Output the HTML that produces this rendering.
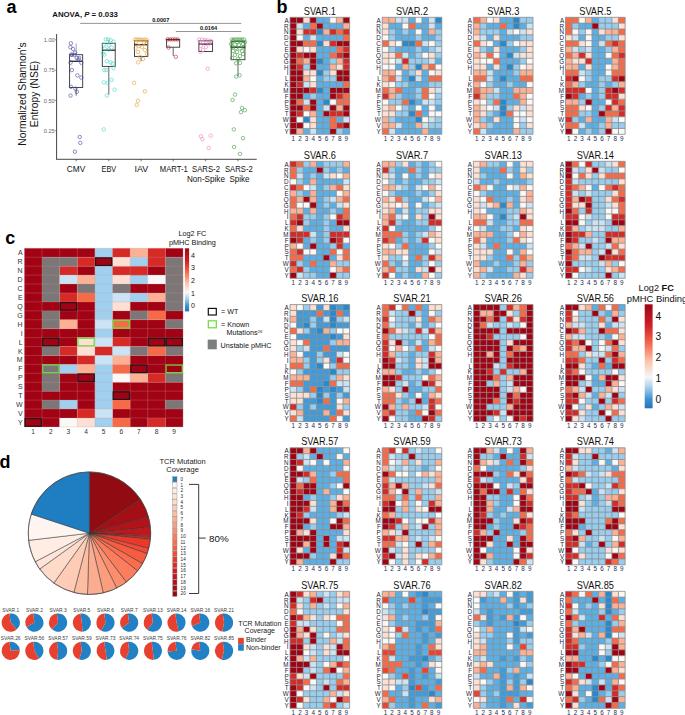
<!DOCTYPE html>
<html><head><meta charset="utf-8"><style>
html,body{margin:0;padding:0;background:#fff;}
body{width:685px;height:715px;overflow:hidden;}
svg{display:block;}
svg text{font-family:'Liberation Sans',sans-serif;}
</style></head><body>
<svg width="685" height="715" viewBox="0 0 685 715">
<rect width="685" height="715" fill="#fff"/>
<text x="6.50" y="12.70" font-size="18" text-anchor="start" font-weight="bold" fill="#000" >a</text>
<text x="276.50" y="12.60" font-size="18" text-anchor="start" font-weight="bold" fill="#000" >b</text>
<text x="5.30" y="244.00" font-size="18" text-anchor="start" font-weight="bold" fill="#000" >c</text>
<text x="-0.60" y="468.40" font-size="18" text-anchor="start" font-weight="bold" fill="#000" >d</text>
<line x1="56.6" y1="34.1" x2="56.6" y2="159.3" stroke="#444" stroke-width="1"/>
<line x1="56.15" y1="159.3" x2="256.7" y2="159.3" stroke="#333" stroke-width="0.9"/>
<line x1="54.6" y1="39.80" x2="56.6" y2="39.80" stroke="#555" stroke-width="0.6"/>
<text x="54.70" y="42.10" font-size="5.6" text-anchor="end" font-weight="normal" fill="#666" >1.00</text>
<line x1="54.6" y1="70.10" x2="56.6" y2="70.10" stroke="#555" stroke-width="0.6"/>
<text x="54.70" y="72.40" font-size="5.6" text-anchor="end" font-weight="normal" fill="#666" >0.75</text>
<line x1="54.6" y1="100.40" x2="56.6" y2="100.40" stroke="#555" stroke-width="0.6"/>
<text x="54.70" y="102.70" font-size="5.6" text-anchor="end" font-weight="normal" fill="#666" >0.50</text>
<line x1="54.6" y1="130.70" x2="56.6" y2="130.70" stroke="#555" stroke-width="0.6"/>
<text x="54.70" y="133.00" font-size="5.6" text-anchor="end" font-weight="normal" fill="#666" >0.25</text>
<text transform="translate(25.8,94) rotate(-90)" font-size="10.3" text-anchor="middle" fill="#111">Normalized Shannon's</text>
<text transform="translate(38.3,94) rotate(-90)" font-size="10.3" text-anchor="middle" fill="#111">Entropy (NSE)</text>
<line x1="76.2" y1="43.3" x2="76.2" y2="54.7" stroke="#9a9a9a" stroke-width="0.9"/>
<line x1="76.2" y1="87.5" x2="76.2" y2="95.6" stroke="#555" stroke-width="0.9"/>
<rect x="69.6" y="54.7" width="13.10" height="32.80" fill="none" stroke="#333" stroke-width="0.9"/>
<line x1="69.6" y1="61.3" x2="82.7" y2="61.3" stroke="#333" stroke-width="1.4"/>
<circle cx="70.9" cy="43.3" r="1.75" fill="none" stroke="#4646a6" stroke-width="0.6"/>
<circle cx="70.4" cy="47.2" r="1.75" fill="none" stroke="#4646a6" stroke-width="0.6"/>
<circle cx="73.1" cy="49" r="1.75" fill="none" stroke="#4646a6" stroke-width="0.6"/>
<circle cx="75" cy="52.5" r="1.75" fill="none" stroke="#4646a6" stroke-width="0.6"/>
<circle cx="71.1" cy="54.5" r="1.75" fill="none" stroke="#4646a6" stroke-width="0.6"/>
<circle cx="72.1" cy="54.9" r="1.75" fill="none" stroke="#4646a6" stroke-width="0.6"/>
<circle cx="74.5" cy="54.9" r="1.75" fill="none" stroke="#4646a6" stroke-width="0.6"/>
<circle cx="76.8" cy="58" r="1.75" fill="none" stroke="#4646a6" stroke-width="0.6"/>
<circle cx="79.3" cy="58" r="1.75" fill="none" stroke="#4646a6" stroke-width="0.6"/>
<circle cx="78.4" cy="59.4" r="1.75" fill="none" stroke="#4646a6" stroke-width="0.6"/>
<circle cx="70.5" cy="62.7" r="1.75" fill="none" stroke="#4646a6" stroke-width="0.6"/>
<circle cx="81.3" cy="62.7" r="1.75" fill="none" stroke="#4646a6" stroke-width="0.6"/>
<circle cx="71.9" cy="70.1" r="1.75" fill="none" stroke="#4646a6" stroke-width="0.6"/>
<circle cx="77.4" cy="75.4" r="1.75" fill="none" stroke="#4646a6" stroke-width="0.6"/>
<circle cx="81.3" cy="77.6" r="1.75" fill="none" stroke="#4646a6" stroke-width="0.6"/>
<circle cx="70.9" cy="86.8" r="1.75" fill="none" stroke="#4646a6" stroke-width="0.6"/>
<circle cx="75.4" cy="88.7" r="1.75" fill="none" stroke="#4646a6" stroke-width="0.6"/>
<circle cx="76.8" cy="91.8" r="1.75" fill="none" stroke="#4646a6" stroke-width="0.6"/>
<circle cx="70.5" cy="95.6" r="1.75" fill="none" stroke="#4646a6" stroke-width="0.6"/>
<circle cx="79.7" cy="137" r="1.75" fill="none" stroke="#4646a6" stroke-width="0.6"/>
<circle cx="80.3" cy="142.9" r="1.75" fill="none" stroke="#4646a6" stroke-width="0.6"/>
<circle cx="74.9" cy="151.7" r="1.75" fill="none" stroke="#4646a6" stroke-width="0.6"/>
<line x1="76.2" y1="159.3" x2="76.2" y2="161.3" stroke="#333" stroke-width="0.7"/>
<text x="76.05" y="172.10" font-size="8.5" text-anchor="middle" fill="#111" textLength="18.41" lengthAdjust="spacingAndGlyphs">CMV</text>
<line x1="108.8" y1="39.8" x2="108.8" y2="43.3" stroke="#9a9a9a" stroke-width="0.9"/>
<line x1="108.8" y1="66.4" x2="108.8" y2="94.6" stroke="#555" stroke-width="0.9"/>
<rect x="102.3" y="43.3" width="12.90" height="23.10" fill="none" stroke="#333" stroke-width="0.9"/>
<line x1="102.3" y1="50.2" x2="115.2" y2="50.2" stroke="#333" stroke-width="1.4"/>
<circle cx="105.8" cy="39.4" r="1.75" fill="none" stroke="#3fd5c5" stroke-width="0.6"/>
<circle cx="108.1" cy="39.4" r="1.75" fill="none" stroke="#3fd5c5" stroke-width="0.6"/>
<circle cx="110.7" cy="40.2" r="1.75" fill="none" stroke="#3fd5c5" stroke-width="0.6"/>
<circle cx="113.6" cy="41.7" r="1.75" fill="none" stroke="#3fd5c5" stroke-width="0.6"/>
<circle cx="103.8" cy="44.7" r="1.75" fill="none" stroke="#3fd5c5" stroke-width="0.6"/>
<circle cx="108.7" cy="45.3" r="1.75" fill="none" stroke="#3fd5c5" stroke-width="0.6"/>
<circle cx="111.6" cy="47.6" r="1.75" fill="none" stroke="#3fd5c5" stroke-width="0.6"/>
<circle cx="104.8" cy="48.6" r="1.75" fill="none" stroke="#3fd5c5" stroke-width="0.6"/>
<circle cx="108.7" cy="49.6" r="1.75" fill="none" stroke="#3fd5c5" stroke-width="0.6"/>
<circle cx="102.8" cy="53.5" r="1.75" fill="none" stroke="#3fd5c5" stroke-width="0.6"/>
<circle cx="104.4" cy="54.5" r="1.75" fill="none" stroke="#3fd5c5" stroke-width="0.6"/>
<circle cx="106.8" cy="61.3" r="1.75" fill="none" stroke="#3fd5c5" stroke-width="0.6"/>
<circle cx="110.7" cy="62.3" r="1.75" fill="none" stroke="#3fd5c5" stroke-width="0.6"/>
<circle cx="112.6" cy="63.7" r="1.75" fill="none" stroke="#3fd5c5" stroke-width="0.6"/>
<circle cx="113.6" cy="68.2" r="1.75" fill="none" stroke="#3fd5c5" stroke-width="0.6"/>
<circle cx="104.4" cy="70.1" r="1.75" fill="none" stroke="#3fd5c5" stroke-width="0.6"/>
<circle cx="106.4" cy="70.1" r="1.75" fill="none" stroke="#3fd5c5" stroke-width="0.6"/>
<circle cx="111.6" cy="79.9" r="1.75" fill="none" stroke="#3fd5c5" stroke-width="0.6"/>
<circle cx="103.8" cy="82.4" r="1.75" fill="none" stroke="#3fd5c5" stroke-width="0.6"/>
<circle cx="107.7" cy="82.8" r="1.75" fill="none" stroke="#3fd5c5" stroke-width="0.6"/>
<circle cx="114.6" cy="89.7" r="1.75" fill="none" stroke="#3fd5c5" stroke-width="0.6"/>
<circle cx="106.8" cy="95.6" r="1.75" fill="none" stroke="#3fd5c5" stroke-width="0.6"/>
<circle cx="103.8" cy="129.4" r="1.75" fill="none" stroke="#3fd5c5" stroke-width="0.6"/>
<line x1="108.8" y1="159.3" x2="108.8" y2="161.3" stroke="#333" stroke-width="0.7"/>
<text x="108.85" y="172.10" font-size="8.5" text-anchor="middle" fill="#111" textLength="14.66" lengthAdjust="spacingAndGlyphs">EBV</text>
<line x1="141.1" y1="39.5" x2="141.1" y2="40.8" stroke="#9a9a9a" stroke-width="0.9"/>
<line x1="141.1" y1="56.4" x2="141.1" y2="61.3" stroke="#555" stroke-width="0.9"/>
<rect x="134.5" y="40.8" width="13.30" height="15.60" fill="none" stroke="#333" stroke-width="0.9"/>
<line x1="134.5" y1="44.7" x2="147.8" y2="44.7" stroke="#333" stroke-width="1.4"/>
<circle cx="135" cy="39.5" r="1.75" fill="none" stroke="#e2a133" stroke-width="0.6"/>
<circle cx="137" cy="39.5" r="1.75" fill="none" stroke="#e2a133" stroke-width="0.6"/>
<circle cx="139" cy="39.5" r="1.75" fill="none" stroke="#e2a133" stroke-width="0.6"/>
<circle cx="141" cy="39.5" r="1.75" fill="none" stroke="#e2a133" stroke-width="0.6"/>
<circle cx="143" cy="40" r="1.75" fill="none" stroke="#e2a133" stroke-width="0.6"/>
<circle cx="145" cy="39.5" r="1.75" fill="none" stroke="#e2a133" stroke-width="0.6"/>
<circle cx="147" cy="40" r="1.75" fill="none" stroke="#e2a133" stroke-width="0.6"/>
<circle cx="136" cy="42" r="1.75" fill="none" stroke="#e2a133" stroke-width="0.6"/>
<circle cx="144" cy="43" r="1.75" fill="none" stroke="#e2a133" stroke-width="0.6"/>
<circle cx="146" cy="44" r="1.75" fill="none" stroke="#e2a133" stroke-width="0.6"/>
<circle cx="139" cy="46" r="1.75" fill="none" stroke="#e2a133" stroke-width="0.6"/>
<circle cx="142" cy="47" r="1.75" fill="none" stroke="#e2a133" stroke-width="0.6"/>
<circle cx="135.5" cy="48" r="1.75" fill="none" stroke="#e2a133" stroke-width="0.6"/>
<circle cx="145" cy="50" r="1.75" fill="none" stroke="#e2a133" stroke-width="0.6"/>
<circle cx="138" cy="52" r="1.75" fill="none" stroke="#e2a133" stroke-width="0.6"/>
<circle cx="147" cy="54" r="1.75" fill="none" stroke="#e2a133" stroke-width="0.6"/>
<circle cx="140" cy="57" r="1.75" fill="none" stroke="#e2a133" stroke-width="0.6"/>
<circle cx="143" cy="59" r="1.75" fill="none" stroke="#e2a133" stroke-width="0.6"/>
<circle cx="138" cy="62.3" r="1.75" fill="none" stroke="#e2a133" stroke-width="0.6"/>
<circle cx="134.1" cy="82.8" r="1.75" fill="none" stroke="#e2a133" stroke-width="0.6"/>
<circle cx="144.9" cy="91.3" r="1.75" fill="none" stroke="#e2a133" stroke-width="0.6"/>
<circle cx="138" cy="100.8" r="1.75" fill="none" stroke="#e2a133" stroke-width="0.6"/>
<circle cx="136.7" cy="105" r="1.75" fill="none" stroke="#e2a133" stroke-width="0.6"/>
<line x1="141.1" y1="159.3" x2="141.1" y2="161.3" stroke="#333" stroke-width="0.7"/>
<text x="141.35" y="172.10" font-size="8.5" text-anchor="middle" fill="#111" textLength="13.83" lengthAdjust="spacingAndGlyphs">IAV</text>
<line x1="173.2" y1="39.4" x2="173.2" y2="39.4" stroke="#9a9a9a" stroke-width="0.9"/>
<line x1="173.2" y1="47.2" x2="173.2" y2="56.0" stroke="#555" stroke-width="0.9"/>
<rect x="166.6" y="39.4" width="13.10" height="7.80" fill="none" stroke="#333" stroke-width="0.9"/>
<line x1="166.6" y1="39.6" x2="179.7" y2="39.6" stroke="#333" stroke-width="1.4"/>
<circle cx="167.6" cy="39.4" r="1.75" fill="none" stroke="#b8242f" stroke-width="0.6"/>
<circle cx="170" cy="39.4" r="1.75" fill="none" stroke="#b8242f" stroke-width="0.6"/>
<circle cx="172.5" cy="39.4" r="1.75" fill="none" stroke="#b8242f" stroke-width="0.6"/>
<circle cx="175" cy="39.4" r="1.75" fill="none" stroke="#b8242f" stroke-width="0.6"/>
<circle cx="177.5" cy="39.4" r="1.75" fill="none" stroke="#b8242f" stroke-width="0.6"/>
<circle cx="168.6" cy="47.6" r="1.75" fill="none" stroke="#b8242f" stroke-width="0.6"/>
<circle cx="175.8" cy="56.8" r="1.75" fill="none" stroke="#b8242f" stroke-width="0.6"/>
<line x1="173.2" y1="159.3" x2="173.2" y2="161.3" stroke="#333" stroke-width="0.7"/>
<text x="173.85" y="172.10" font-size="8.5" text-anchor="middle" fill="#111" textLength="27.98" lengthAdjust="spacingAndGlyphs">MART-1</text>
<line x1="205.7" y1="39.5" x2="205.7" y2="40.8" stroke="#9a9a9a" stroke-width="0.9"/>
<line x1="205.7" y1="51.5" x2="205.7" y2="52.0" stroke="#555" stroke-width="0.9"/>
<rect x="198.9" y="40.8" width="13.70" height="10.70" fill="none" stroke="#333" stroke-width="0.9"/>
<line x1="198.9" y1="44.1" x2="212.6" y2="44.1" stroke="#333" stroke-width="1.4"/>
<circle cx="199" cy="39.5" r="1.75" fill="none" stroke="#f27cc8" stroke-width="0.6"/>
<circle cx="202" cy="39.5" r="1.75" fill="none" stroke="#f27cc8" stroke-width="0.6"/>
<circle cx="205" cy="40" r="1.75" fill="none" stroke="#f27cc8" stroke-width="0.6"/>
<circle cx="208" cy="40.5" r="1.75" fill="none" stroke="#f27cc8" stroke-width="0.6"/>
<circle cx="211" cy="41" r="1.75" fill="none" stroke="#f27cc8" stroke-width="0.6"/>
<circle cx="203" cy="42" r="1.75" fill="none" stroke="#f27cc8" stroke-width="0.6"/>
<circle cx="209" cy="43.5" r="1.75" fill="none" stroke="#f27cc8" stroke-width="0.6"/>
<circle cx="201" cy="46" r="1.75" fill="none" stroke="#f27cc8" stroke-width="0.6"/>
<circle cx="206" cy="47" r="1.75" fill="none" stroke="#f27cc8" stroke-width="0.6"/>
<circle cx="203" cy="50" r="1.75" fill="none" stroke="#f27cc8" stroke-width="0.6"/>
<circle cx="200.5" cy="51.9" r="1.75" fill="none" stroke="#f27cc8" stroke-width="0.6"/>
<circle cx="207.7" cy="68.7" r="1.75" fill="none" stroke="#f27cc8" stroke-width="0.6"/>
<circle cx="200.9" cy="136.3" r="1.75" fill="none" stroke="#f27cc8" stroke-width="0.6"/>
<circle cx="202.4" cy="139.2" r="1.75" fill="none" stroke="#f27cc8" stroke-width="0.6"/>
<circle cx="210.7" cy="135.7" r="1.75" fill="none" stroke="#f27cc8" stroke-width="0.6"/>
<circle cx="208.7" cy="148" r="1.75" fill="none" stroke="#f27cc8" stroke-width="0.6"/>
<line x1="205.7" y1="159.3" x2="205.7" y2="161.3" stroke="#333" stroke-width="0.7"/>
<text x="206.00" y="172.10" font-size="8.5" text-anchor="middle" fill="#111" textLength="27.87" lengthAdjust="spacingAndGlyphs">SARS-2</text>
<text x="205.95" y="181.70" font-size="8.5" text-anchor="middle" fill="#111" textLength="37.96" lengthAdjust="spacingAndGlyphs">Non-Spike</text>
<line x1="238.0" y1="39.5" x2="238.0" y2="41.4" stroke="#9a9a9a" stroke-width="0.9"/>
<line x1="238.0" y1="59.7" x2="238.0" y2="76.0" stroke="#555" stroke-width="0.9"/>
<rect x="231.2" y="41.4" width="13.70" height="18.30" fill="none" stroke="#333" stroke-width="0.9"/>
<line x1="231.2" y1="47.2" x2="244.9" y2="47.2" stroke="#333" stroke-width="1.4"/>
<circle cx="232" cy="39.5" r="1.75" fill="none" stroke="#3f9b3f" stroke-width="0.6"/>
<circle cx="234" cy="39.5" r="1.75" fill="none" stroke="#3f9b3f" stroke-width="0.6"/>
<circle cx="236" cy="39.5" r="1.75" fill="none" stroke="#3f9b3f" stroke-width="0.6"/>
<circle cx="238" cy="39.5" r="1.75" fill="none" stroke="#3f9b3f" stroke-width="0.6"/>
<circle cx="240" cy="39.5" r="1.75" fill="none" stroke="#3f9b3f" stroke-width="0.6"/>
<circle cx="242" cy="39.5" r="1.75" fill="none" stroke="#3f9b3f" stroke-width="0.6"/>
<circle cx="244" cy="39.5" r="1.75" fill="none" stroke="#3f9b3f" stroke-width="0.6"/>
<circle cx="233" cy="41" r="1.75" fill="none" stroke="#3f9b3f" stroke-width="0.6"/>
<circle cx="237" cy="42" r="1.75" fill="none" stroke="#3f9b3f" stroke-width="0.6"/>
<circle cx="241" cy="41.5" r="1.75" fill="none" stroke="#3f9b3f" stroke-width="0.6"/>
<circle cx="245" cy="42" r="1.75" fill="none" stroke="#3f9b3f" stroke-width="0.6"/>
<circle cx="231" cy="44" r="1.75" fill="none" stroke="#3f9b3f" stroke-width="0.6"/>
<circle cx="235" cy="44.5" r="1.75" fill="none" stroke="#3f9b3f" stroke-width="0.6"/>
<circle cx="239" cy="45" r="1.75" fill="none" stroke="#3f9b3f" stroke-width="0.6"/>
<circle cx="243" cy="44" r="1.75" fill="none" stroke="#3f9b3f" stroke-width="0.6"/>
<circle cx="232" cy="47" r="1.75" fill="none" stroke="#3f9b3f" stroke-width="0.6"/>
<circle cx="236" cy="48" r="1.75" fill="none" stroke="#3f9b3f" stroke-width="0.6"/>
<circle cx="240" cy="48.5" r="1.75" fill="none" stroke="#3f9b3f" stroke-width="0.6"/>
<circle cx="244" cy="47" r="1.75" fill="none" stroke="#3f9b3f" stroke-width="0.6"/>
<circle cx="233" cy="51" r="1.75" fill="none" stroke="#3f9b3f" stroke-width="0.6"/>
<circle cx="237" cy="52" r="1.75" fill="none" stroke="#3f9b3f" stroke-width="0.6"/>
<circle cx="242" cy="51" r="1.75" fill="none" stroke="#3f9b3f" stroke-width="0.6"/>
<circle cx="235" cy="55" r="1.75" fill="none" stroke="#3f9b3f" stroke-width="0.6"/>
<circle cx="240" cy="56" r="1.75" fill="none" stroke="#3f9b3f" stroke-width="0.6"/>
<circle cx="243" cy="54" r="1.75" fill="none" stroke="#3f9b3f" stroke-width="0.6"/>
<circle cx="232" cy="58" r="1.75" fill="none" stroke="#3f9b3f" stroke-width="0.6"/>
<circle cx="238" cy="59" r="1.75" fill="none" stroke="#3f9b3f" stroke-width="0.6"/>
<circle cx="236.1" cy="63.3" r="1.75" fill="none" stroke="#3f9b3f" stroke-width="0.6"/>
<circle cx="240" cy="62.9" r="1.75" fill="none" stroke="#3f9b3f" stroke-width="0.6"/>
<circle cx="236.1" cy="76.6" r="1.75" fill="none" stroke="#3f9b3f" stroke-width="0.6"/>
<circle cx="239.6" cy="75.4" r="1.75" fill="none" stroke="#3f9b3f" stroke-width="0.6"/>
<circle cx="235.1" cy="94.6" r="1.75" fill="none" stroke="#3f9b3f" stroke-width="0.6"/>
<circle cx="232.6" cy="99.9" r="1.75" fill="none" stroke="#3f9b3f" stroke-width="0.6"/>
<circle cx="242" cy="107.9" r="1.75" fill="none" stroke="#3f9b3f" stroke-width="0.6"/>
<circle cx="244.9" cy="110.2" r="1.75" fill="none" stroke="#3f9b3f" stroke-width="0.6"/>
<circle cx="241" cy="112.2" r="1.75" fill="none" stroke="#3f9b3f" stroke-width="0.6"/>
<circle cx="233.8" cy="129.4" r="1.75" fill="none" stroke="#3f9b3f" stroke-width="0.6"/>
<circle cx="243" cy="138.2" r="1.75" fill="none" stroke="#3f9b3f" stroke-width="0.6"/>
<circle cx="234.1" cy="147" r="1.75" fill="none" stroke="#3f9b3f" stroke-width="0.6"/>
<circle cx="240" cy="153.9" r="1.75" fill="none" stroke="#3f9b3f" stroke-width="0.6"/>
<line x1="238.0" y1="159.3" x2="238.0" y2="161.3" stroke="#333" stroke-width="0.7"/>
<text x="238.90" y="172.10" font-size="8.5" text-anchor="middle" fill="#111" textLength="27.87" lengthAdjust="spacingAndGlyphs">SARS-2</text>
<text x="239.45" y="181.70" font-size="8.5" text-anchor="middle" fill="#111" textLength="20.07" lengthAdjust="spacingAndGlyphs">Spike</text>
<line x1="80.1" y1="23.4" x2="241.3" y2="23.4" stroke="#8a8a8a" stroke-width="0.9"/>
<line x1="175.8" y1="31.5" x2="241.3" y2="31.5" stroke="#8a8a8a" stroke-width="0.9"/>
<text x="160.70" y="21.60" font-size="5.6" text-anchor="middle" font-weight="bold" fill="#111" >0.0007</text>
<text x="208.60" y="29.60" font-size="5.6" text-anchor="middle" font-weight="bold" fill="#111" >0.0164</text>
<text x="52.3" y="16.7" font-size="7.8" font-weight="bold" fill="#111">ANOVA, <tspan font-style="italic">P</tspan> = 0.033</text>
<path fill="#a20314" d="M290.0 17.3h6.67v5.90h-6.67zM296.6 17.3h6.67v5.90h-6.67zM309.9 17.3h6.67v5.90h-6.67zM343.0 17.3h6.67v5.90h-6.67zM290.0 23.1h6.67v5.90h-6.67zM316.5 23.1h6.67v5.90h-6.67zM290.0 29.0h6.67v5.90h-6.67zM290.0 34.8h6.67v5.90h-6.67zM290.0 40.7h6.67v5.90h-6.67zM296.6 40.7h6.67v5.90h-6.67zM336.4 40.7h6.67v5.90h-6.67zM343.0 40.7h6.67v5.90h-6.67zM290.0 46.5h6.67v5.90h-6.67zM290.0 52.4h6.67v5.90h-6.67zM303.2 52.4h6.67v5.90h-6.67zM309.9 52.4h6.67v5.90h-6.67zM343.0 52.4h6.67v5.90h-6.67zM290.0 58.2h6.67v5.90h-6.67zM309.9 58.2h6.67v5.90h-6.67zM290.0 64.1h6.67v5.90h-6.67zM309.9 64.1h6.67v5.90h-6.67zM290.0 70.0h6.67v5.90h-6.67zM296.6 70.0h6.67v5.90h-6.67zM336.4 70.0h6.67v5.90h-6.67zM343.0 70.0h6.67v5.90h-6.67zM290.0 75.8h6.67v5.90h-6.67zM296.6 75.8h6.67v5.90h-6.67zM336.4 75.8h6.67v5.90h-6.67zM343.0 75.8h6.67v5.90h-6.67zM290.0 81.6h6.67v5.90h-6.67zM290.0 87.5h6.67v5.90h-6.67zM296.6 87.5h6.67v5.90h-6.67zM303.2 87.5h6.67v5.90h-6.67zM329.7 87.5h6.67v5.90h-6.67zM336.4 87.5h6.67v5.90h-6.67zM343.0 87.5h6.67v5.90h-6.67zM290.0 93.3h6.67v5.90h-6.67zM296.6 93.3h6.67v5.90h-6.67zM329.7 93.3h6.67v5.90h-6.67zM290.0 99.2h6.67v5.90h-6.67zM309.9 99.2h6.67v5.90h-6.67zM290.0 105.0h6.67v5.90h-6.67zM296.6 105.0h6.67v5.90h-6.67zM309.9 105.0h6.67v5.90h-6.67zM329.7 105.0h6.67v5.90h-6.67zM343.0 105.0h6.67v5.90h-6.67zM290.0 110.9h6.67v5.90h-6.67zM323.1 110.9h6.67v5.90h-6.67zM343.0 110.9h6.67v5.90h-6.67zM290.0 116.7h6.67v5.90h-6.67zM290.0 122.6h6.67v5.90h-6.67zM296.6 122.6h6.67v5.90h-6.67zM343.0 122.6h6.67v5.90h-6.67zM290.0 128.4h6.67v5.90h-6.67zM329.7 128.4h6.67v5.90h-6.67z"/>
<path fill="#fde0d3" d="M303.2 17.3h6.67v5.90h-6.67zM296.6 29.0h6.67v5.90h-6.67zM323.1 40.7h6.67v5.90h-6.67zM296.6 46.5h6.67v5.90h-6.67zM309.9 46.5h6.67v5.90h-6.67zM336.4 64.1h6.67v5.90h-6.67zM303.2 70.0h6.67v5.90h-6.67zM309.9 70.0h6.67v5.90h-6.67zM329.7 70.0h6.67v5.90h-6.67zM309.9 81.6h6.67v5.90h-6.67zM309.9 116.7h6.67v5.90h-6.67zM309.9 122.6h6.67v5.90h-6.67z"/>
<path fill="#5ab0e6" d="M316.5 17.3h6.67v5.90h-6.67zM323.1 17.3h6.67v5.90h-6.67zM303.2 23.1h6.67v5.90h-6.67zM323.1 23.1h6.67v5.90h-6.67zM329.7 23.1h6.67v5.90h-6.67zM336.4 23.1h6.67v5.90h-6.67zM303.2 34.8h6.67v5.90h-6.67zM316.5 34.8h6.67v5.90h-6.67zM323.1 34.8h6.67v5.90h-6.67zM329.7 34.8h6.67v5.90h-6.67zM336.4 34.8h6.67v5.90h-6.67zM316.5 46.5h6.67v5.90h-6.67zM323.1 46.5h6.67v5.90h-6.67zM329.7 46.5h6.67v5.90h-6.67zM316.5 52.4h6.67v5.90h-6.67zM323.1 52.4h6.67v5.90h-6.67zM323.1 58.2h6.67v5.90h-6.67zM316.5 64.1h6.67v5.90h-6.67zM323.1 64.1h6.67v5.90h-6.67zM316.5 75.8h6.67v5.90h-6.67zM316.5 81.6h6.67v5.90h-6.67zM323.1 81.6h6.67v5.90h-6.67zM329.7 81.6h6.67v5.90h-6.67zM336.4 81.6h6.67v5.90h-6.67zM323.1 87.5h6.67v5.90h-6.67zM303.2 93.3h6.67v5.90h-6.67zM316.5 93.3h6.67v5.90h-6.67zM323.1 93.3h6.67v5.90h-6.67zM316.5 99.2h6.67v5.90h-6.67zM316.5 105.0h6.67v5.90h-6.67zM316.5 110.9h6.67v5.90h-6.67zM316.5 116.7h6.67v5.90h-6.67zM323.1 116.7h6.67v5.90h-6.67zM336.4 116.7h6.67v5.90h-6.67zM316.5 122.6h6.67v5.90h-6.67zM323.1 122.6h6.67v5.90h-6.67zM303.2 128.4h6.67v5.90h-6.67zM316.5 128.4h6.67v5.90h-6.67zM323.1 128.4h6.67v5.90h-6.67zM343.0 128.4h6.67v5.90h-6.67z"/>
<path fill="#fbf9f8" d="M329.7 17.3h6.67v5.90h-6.67zM296.6 34.8h6.67v5.90h-6.67zM303.2 46.5h6.67v5.90h-6.67zM309.9 75.8h6.67v5.90h-6.67zM329.7 99.2h6.67v5.90h-6.67zM303.2 110.9h6.67v5.90h-6.67zM296.6 116.7h6.67v5.90h-6.67zM303.2 122.6h6.67v5.90h-6.67z"/>
<path fill="#fcb094" d="M336.4 17.3h6.67v5.90h-6.67zM343.0 23.1h6.67v5.90h-6.67zM323.1 29.0h6.67v5.90h-6.67zM303.2 58.2h6.67v5.90h-6.67zM336.4 58.2h6.67v5.90h-6.67zM329.7 64.1h6.67v5.90h-6.67zM303.2 75.8h6.67v5.90h-6.67zM336.4 105.0h6.67v5.90h-6.67zM309.9 110.9h6.67v5.90h-6.67zM296.6 128.4h6.67v5.90h-6.67z"/>
<path fill="#cae4f5" d="M296.6 23.1h6.67v5.90h-6.67zM309.9 34.8h6.67v5.90h-6.67zM303.2 81.6h6.67v5.90h-6.67zM303.2 99.2h6.67v5.90h-6.67zM323.1 105.0h6.67v5.90h-6.67zM343.0 116.7h6.67v5.90h-6.67zM309.9 128.4h6.67v5.90h-6.67z"/>
<path fill="#f66a47" d="M309.9 23.1h6.67v5.90h-6.67zM336.4 29.0h6.67v5.90h-6.67zM343.0 34.8h6.67v5.90h-6.67zM303.2 40.7h6.67v5.90h-6.67zM309.9 40.7h6.67v5.90h-6.67zM336.4 46.5h6.67v5.90h-6.67zM329.7 52.4h6.67v5.90h-6.67zM296.6 58.2h6.67v5.90h-6.67zM343.0 81.6h6.67v5.90h-6.67zM343.0 93.3h6.67v5.90h-6.67zM296.6 99.2h6.67v5.90h-6.67zM336.4 99.2h6.67v5.90h-6.67zM343.0 99.2h6.67v5.90h-6.67zM303.2 105.0h6.67v5.90h-6.67zM329.7 116.7h6.67v5.90h-6.67zM329.7 122.6h6.67v5.90h-6.67z"/>
<path fill="#d62a27" d="M303.2 29.0h6.67v5.90h-6.67zM309.9 29.0h6.67v5.90h-6.67zM329.7 29.0h6.67v5.90h-6.67zM343.0 29.0h6.67v5.90h-6.67zM329.7 40.7h6.67v5.90h-6.67zM343.0 46.5h6.67v5.90h-6.67zM296.6 52.4h6.67v5.90h-6.67zM336.4 52.4h6.67v5.90h-6.67zM343.0 58.2h6.67v5.90h-6.67zM296.6 64.1h6.67v5.90h-6.67zM343.0 64.1h6.67v5.90h-6.67zM296.6 81.6h6.67v5.90h-6.67zM309.9 87.5h6.67v5.90h-6.67zM336.4 93.3h6.67v5.90h-6.67zM296.6 110.9h6.67v5.90h-6.67zM329.7 110.9h6.67v5.90h-6.67zM336.4 110.9h6.67v5.90h-6.67zM336.4 122.6h6.67v5.90h-6.67z"/>
<path fill="#2a88cd" d="M316.5 29.0h6.67v5.90h-6.67zM316.5 40.7h6.67v5.90h-6.67zM316.5 58.2h6.67v5.90h-6.67zM316.5 70.0h6.67v5.90h-6.67zM316.5 87.5h6.67v5.90h-6.67zM323.1 99.2h6.67v5.90h-6.67zM303.2 116.7h6.67v5.90h-6.67z"/>
<path fill="#97cdef" d="M329.7 58.2h6.67v5.90h-6.67zM303.2 64.1h6.67v5.90h-6.67zM323.1 70.0h6.67v5.90h-6.67zM323.1 75.8h6.67v5.90h-6.67zM329.7 75.8h6.67v5.90h-6.67zM309.9 93.3h6.67v5.90h-6.67zM336.4 128.4h6.67v5.90h-6.67z"/>
<path d="M290.00 17.30V134.30M296.62 17.30V134.30M303.24 17.30V134.30M309.87 17.30V134.30M316.49 17.30V134.30M323.11 17.30V134.30M329.73 17.30V134.30M336.36 17.30V134.30M342.98 17.30V134.30M349.60 17.30V134.30M290.00 17.30H349.60M290.00 23.15H349.60M290.00 29.00H349.60M290.00 34.85H349.60M290.00 40.70H349.60M290.00 46.55H349.60M290.00 52.40H349.60M290.00 58.25H349.60M290.00 64.10H349.60M290.00 69.95H349.60M290.00 75.80H349.60M290.00 81.65H349.60M290.00 87.50H349.60M290.00 93.35H349.60M290.00 99.20H349.60M290.00 105.05H349.60M290.00 110.90H349.60M290.00 116.75H349.60M290.00 122.60H349.60M290.00 128.45H349.60M290.00 134.30H349.60" stroke="#8e8e8e" stroke-width="0.85" fill="none"/>
<text transform="translate(319.80,14.90) scale(0.84,1)" font-size="11" text-anchor="middle" fill="#111">SVAR.1</text>
<text transform="translate(288.60,22.70) scale(0.9,1)" font-size="7" text-anchor="end" fill="#171c3a">A</text>
<text transform="translate(288.60,28.55) scale(0.9,1)" font-size="7" text-anchor="end" fill="#171c3a">R</text>
<text transform="translate(288.60,34.40) scale(0.9,1)" font-size="7" text-anchor="end" fill="#171c3a">N</text>
<text transform="translate(288.60,40.25) scale(0.9,1)" font-size="7" text-anchor="end" fill="#171c3a">D</text>
<text transform="translate(288.60,46.10) scale(0.9,1)" font-size="7" text-anchor="end" fill="#171c3a">C</text>
<text transform="translate(288.60,51.95) scale(0.9,1)" font-size="7" text-anchor="end" fill="#171c3a">E</text>
<text transform="translate(288.60,57.80) scale(0.9,1)" font-size="7" text-anchor="end" fill="#171c3a">Q</text>
<text transform="translate(288.60,63.65) scale(0.9,1)" font-size="7" text-anchor="end" fill="#171c3a">G</text>
<text transform="translate(288.60,69.50) scale(0.9,1)" font-size="7" text-anchor="end" fill="#171c3a">H</text>
<text transform="translate(288.60,75.35) scale(0.9,1)" font-size="7" text-anchor="end" fill="#171c3a">I</text>
<text transform="translate(288.60,81.20) scale(0.9,1)" font-size="7" text-anchor="end" fill="#171c3a">L</text>
<text transform="translate(288.60,87.05) scale(0.9,1)" font-size="7" text-anchor="end" fill="#171c3a">K</text>
<text transform="translate(288.60,92.90) scale(0.9,1)" font-size="7" text-anchor="end" fill="#171c3a">M</text>
<text transform="translate(288.60,98.75) scale(0.9,1)" font-size="7" text-anchor="end" fill="#171c3a">F</text>
<text transform="translate(288.60,104.60) scale(0.9,1)" font-size="7" text-anchor="end" fill="#171c3a">P</text>
<text transform="translate(288.60,110.45) scale(0.9,1)" font-size="7" text-anchor="end" fill="#171c3a">S</text>
<text transform="translate(288.60,116.30) scale(0.9,1)" font-size="7" text-anchor="end" fill="#171c3a">T</text>
<text transform="translate(288.60,122.15) scale(0.9,1)" font-size="7" text-anchor="end" fill="#171c3a">W</text>
<text transform="translate(288.60,128.00) scale(0.9,1)" font-size="7" text-anchor="end" fill="#171c3a">V</text>
<text transform="translate(288.60,133.85) scale(0.9,1)" font-size="7" text-anchor="end" fill="#171c3a">Y</text>
<text x="293.31" y="140.90" font-size="6.3" text-anchor="middle" font-weight="normal" fill="#1c2b52" >1</text>
<text x="299.93" y="140.90" font-size="6.3" text-anchor="middle" font-weight="normal" fill="#1c2b52" >2</text>
<text x="306.56" y="140.90" font-size="6.3" text-anchor="middle" font-weight="normal" fill="#1c2b52" >3</text>
<text x="313.18" y="140.90" font-size="6.3" text-anchor="middle" font-weight="normal" fill="#1c2b52" >4</text>
<text x="319.80" y="140.90" font-size="6.3" text-anchor="middle" font-weight="normal" fill="#1c2b52" >5</text>
<text x="326.42" y="140.90" font-size="6.3" text-anchor="middle" font-weight="normal" fill="#1c2b52" >6</text>
<text x="333.04" y="140.90" font-size="6.3" text-anchor="middle" font-weight="normal" fill="#1c2b52" >7</text>
<text x="339.67" y="140.90" font-size="6.3" text-anchor="middle" font-weight="normal" fill="#1c2b52" >8</text>
<text x="346.29" y="140.90" font-size="6.3" text-anchor="middle" font-weight="normal" fill="#1c2b52" >9</text>
<path fill="#fcb094" d="M382.2 17.3h6.67v5.90h-6.67zM388.8 17.3h6.67v5.90h-6.67zM428.6 29.0h6.67v5.90h-6.67zM402.1 64.1h6.67v5.90h-6.67zM421.9 64.1h6.67v5.90h-6.67zM382.2 70.0h6.67v5.90h-6.67zM388.8 70.0h6.67v5.90h-6.67zM382.2 75.8h6.67v5.90h-6.67zM388.8 87.5h6.67v5.90h-6.67zM388.8 93.3h6.67v5.90h-6.67zM388.8 105.0h6.67v5.90h-6.67zM382.2 116.7h6.67v5.90h-6.67zM382.2 122.6h6.67v5.90h-6.67zM388.8 122.6h6.67v5.90h-6.67zM415.3 122.6h6.67v5.90h-6.67zM421.9 128.4h6.67v5.90h-6.67z"/>
<path fill="#cae4f5" d="M395.4 17.3h6.67v5.90h-6.67zM402.1 17.3h6.67v5.90h-6.67zM428.6 17.3h6.67v5.90h-6.67zM428.6 23.1h6.67v5.90h-6.67zM421.9 40.7h6.67v5.90h-6.67zM435.2 46.5h6.67v5.90h-6.67zM402.1 52.4h6.67v5.90h-6.67zM395.4 58.2h6.67v5.90h-6.67zM428.6 58.2h6.67v5.90h-6.67zM395.4 75.8h6.67v5.90h-6.67zM415.3 75.8h6.67v5.90h-6.67zM435.2 87.5h6.67v5.90h-6.67zM421.9 99.2h6.67v5.90h-6.67zM428.6 99.2h6.67v5.90h-6.67zM428.6 116.7h6.67v5.90h-6.67zM395.4 122.6h6.67v5.90h-6.67zM421.9 122.6h6.67v5.90h-6.67zM388.8 128.4h6.67v5.90h-6.67z"/>
<path fill="#5ab0e6" d="M408.7 17.3h6.67v5.90h-6.67zM421.9 17.3h6.67v5.90h-6.67zM388.8 23.1h6.67v5.90h-6.67zM395.4 23.1h6.67v5.90h-6.67zM415.3 23.1h6.67v5.90h-6.67zM421.9 23.1h6.67v5.90h-6.67zM435.2 23.1h6.67v5.90h-6.67zM395.4 29.0h6.67v5.90h-6.67zM408.7 29.0h6.67v5.90h-6.67zM421.9 29.0h6.67v5.90h-6.67zM395.4 34.8h6.67v5.90h-6.67zM402.1 34.8h6.67v5.90h-6.67zM408.7 34.8h6.67v5.90h-6.67zM421.9 34.8h6.67v5.90h-6.67zM428.6 34.8h6.67v5.90h-6.67zM395.4 46.5h6.67v5.90h-6.67zM402.1 46.5h6.67v5.90h-6.67zM408.7 46.5h6.67v5.90h-6.67zM421.9 46.5h6.67v5.90h-6.67zM408.7 52.4h6.67v5.90h-6.67zM435.2 58.2h6.67v5.90h-6.67zM395.4 64.1h6.67v5.90h-6.67zM402.1 70.0h6.67v5.90h-6.67zM421.9 70.0h6.67v5.90h-6.67zM402.1 75.8h6.67v5.90h-6.67zM421.9 75.8h6.67v5.90h-6.67zM408.7 81.6h6.67v5.90h-6.67zM415.3 81.6h6.67v5.90h-6.67zM421.9 81.6h6.67v5.90h-6.67zM402.1 87.5h6.67v5.90h-6.67zM408.7 87.5h6.67v5.90h-6.67zM402.1 93.3h6.67v5.90h-6.67zM408.7 93.3h6.67v5.90h-6.67zM415.3 99.2h6.67v5.90h-6.67zM408.7 105.0h6.67v5.90h-6.67zM421.9 105.0h6.67v5.90h-6.67zM435.2 105.0h6.67v5.90h-6.67zM421.9 110.9h6.67v5.90h-6.67zM395.4 116.7h6.67v5.90h-6.67zM402.1 116.7h6.67v5.90h-6.67zM408.7 116.7h6.67v5.90h-6.67zM402.1 122.6h6.67v5.90h-6.67zM408.7 122.6h6.67v5.90h-6.67zM395.4 128.4h6.67v5.90h-6.67zM402.1 128.4h6.67v5.90h-6.67zM408.7 128.4h6.67v5.90h-6.67zM415.3 128.4h6.67v5.90h-6.67zM428.6 128.4h6.67v5.90h-6.67zM435.2 128.4h6.67v5.90h-6.67z"/>
<path fill="#fbf9f8" d="M415.3 17.3h6.67v5.90h-6.67zM402.1 23.1h6.67v5.90h-6.67zM415.3 29.0h6.67v5.90h-6.67zM382.2 34.8h6.67v5.90h-6.67zM395.4 40.7h6.67v5.90h-6.67zM428.6 40.7h6.67v5.90h-6.67zM382.2 46.5h6.67v5.90h-6.67zM421.9 52.4h6.67v5.90h-6.67zM388.8 58.2h6.67v5.90h-6.67zM382.2 64.1h6.67v5.90h-6.67zM388.8 64.1h6.67v5.90h-6.67zM435.2 64.1h6.67v5.90h-6.67zM395.4 70.0h6.67v5.90h-6.67zM428.6 70.0h6.67v5.90h-6.67zM388.8 81.6h6.67v5.90h-6.67zM428.6 93.3h6.67v5.90h-6.67zM382.2 99.2h6.67v5.90h-6.67zM395.4 105.0h6.67v5.90h-6.67zM415.3 105.0h6.67v5.90h-6.67zM428.6 105.0h6.67v5.90h-6.67zM428.6 110.9h6.67v5.90h-6.67zM435.2 110.9h6.67v5.90h-6.67zM421.9 116.7h6.67v5.90h-6.67z"/>
<path fill="#2a88cd" d="M435.2 17.3h6.67v5.90h-6.67zM402.1 40.7h6.67v5.90h-6.67zM408.7 40.7h6.67v5.90h-6.67zM415.3 64.1h6.67v5.90h-6.67zM408.7 75.8h6.67v5.90h-6.67zM408.7 99.2h6.67v5.90h-6.67zM408.7 110.9h6.67v5.90h-6.67zM415.3 116.7h6.67v5.90h-6.67z"/>
<path fill="#fde0d3" d="M382.2 23.1h6.67v5.90h-6.67zM382.2 29.0h6.67v5.90h-6.67zM388.8 40.7h6.67v5.90h-6.67zM382.2 52.4h6.67v5.90h-6.67zM388.8 52.4h6.67v5.90h-6.67zM428.6 52.4h6.67v5.90h-6.67zM382.2 58.2h6.67v5.90h-6.67zM415.3 70.0h6.67v5.90h-6.67zM435.2 70.0h6.67v5.90h-6.67zM382.2 81.6h6.67v5.90h-6.67zM428.6 87.5h6.67v5.90h-6.67zM382.2 105.0h6.67v5.90h-6.67zM382.2 110.9h6.67v5.90h-6.67zM388.8 110.9h6.67v5.90h-6.67z"/>
<path fill="#f66a47" d="M408.7 23.1h6.67v5.90h-6.67zM382.2 40.7h6.67v5.90h-6.67zM415.3 40.7h6.67v5.90h-6.67zM395.4 52.4h6.67v5.90h-6.67zM428.6 64.1h6.67v5.90h-6.67zM388.8 75.8h6.67v5.90h-6.67zM428.6 75.8h6.67v5.90h-6.67zM435.2 75.8h6.67v5.90h-6.67zM382.2 87.5h6.67v5.90h-6.67zM395.4 87.5h6.67v5.90h-6.67zM421.9 87.5h6.67v5.90h-6.67zM421.9 93.3h6.67v5.90h-6.67zM402.1 99.2h6.67v5.90h-6.67zM415.3 110.9h6.67v5.90h-6.67zM382.2 128.4h6.67v5.90h-6.67z"/>
<path fill="#97cdef" d="M388.8 29.0h6.67v5.90h-6.67zM402.1 29.0h6.67v5.90h-6.67zM435.2 29.0h6.67v5.90h-6.67zM388.8 34.8h6.67v5.90h-6.67zM415.3 34.8h6.67v5.90h-6.67zM435.2 34.8h6.67v5.90h-6.67zM435.2 40.7h6.67v5.90h-6.67zM388.8 46.5h6.67v5.90h-6.67zM415.3 46.5h6.67v5.90h-6.67zM428.6 46.5h6.67v5.90h-6.67zM415.3 52.4h6.67v5.90h-6.67zM435.2 52.4h6.67v5.90h-6.67zM408.7 58.2h6.67v5.90h-6.67zM415.3 58.2h6.67v5.90h-6.67zM421.9 58.2h6.67v5.90h-6.67zM408.7 64.1h6.67v5.90h-6.67zM408.7 70.0h6.67v5.90h-6.67zM395.4 81.6h6.67v5.90h-6.67zM402.1 81.6h6.67v5.90h-6.67zM428.6 81.6h6.67v5.90h-6.67zM435.2 81.6h6.67v5.90h-6.67zM415.3 87.5h6.67v5.90h-6.67zM395.4 93.3h6.67v5.90h-6.67zM415.3 93.3h6.67v5.90h-6.67zM435.2 93.3h6.67v5.90h-6.67zM388.8 99.2h6.67v5.90h-6.67zM395.4 99.2h6.67v5.90h-6.67zM435.2 99.2h6.67v5.90h-6.67zM402.1 105.0h6.67v5.90h-6.67zM395.4 110.9h6.67v5.90h-6.67zM402.1 110.9h6.67v5.90h-6.67zM388.8 116.7h6.67v5.90h-6.67zM435.2 116.7h6.67v5.90h-6.67zM428.6 122.6h6.67v5.90h-6.67zM435.2 122.6h6.67v5.90h-6.67z"/>
<path fill="#d62a27" d="M402.1 58.2h6.67v5.90h-6.67zM382.2 93.3h6.67v5.90h-6.67z"/>
<path d="M382.20 17.30V134.30M388.82 17.30V134.30M395.44 17.30V134.30M402.07 17.30V134.30M408.69 17.30V134.30M415.31 17.30V134.30M421.93 17.30V134.30M428.56 17.30V134.30M435.18 17.30V134.30M441.80 17.30V134.30M382.20 17.30H441.80M382.20 23.15H441.80M382.20 29.00H441.80M382.20 34.85H441.80M382.20 40.70H441.80M382.20 46.55H441.80M382.20 52.40H441.80M382.20 58.25H441.80M382.20 64.10H441.80M382.20 69.95H441.80M382.20 75.80H441.80M382.20 81.65H441.80M382.20 87.50H441.80M382.20 93.35H441.80M382.20 99.20H441.80M382.20 105.05H441.80M382.20 110.90H441.80M382.20 116.75H441.80M382.20 122.60H441.80M382.20 128.45H441.80M382.20 134.30H441.80" stroke="#8e8e8e" stroke-width="0.85" fill="none"/>
<text transform="translate(412.00,14.90) scale(0.84,1)" font-size="11" text-anchor="middle" fill="#111">SVAR.2</text>
<text transform="translate(380.80,22.70) scale(0.9,1)" font-size="7" text-anchor="end" fill="#171c3a">A</text>
<text transform="translate(380.80,28.55) scale(0.9,1)" font-size="7" text-anchor="end" fill="#171c3a">R</text>
<text transform="translate(380.80,34.40) scale(0.9,1)" font-size="7" text-anchor="end" fill="#171c3a">N</text>
<text transform="translate(380.80,40.25) scale(0.9,1)" font-size="7" text-anchor="end" fill="#171c3a">D</text>
<text transform="translate(380.80,46.10) scale(0.9,1)" font-size="7" text-anchor="end" fill="#171c3a">C</text>
<text transform="translate(380.80,51.95) scale(0.9,1)" font-size="7" text-anchor="end" fill="#171c3a">E</text>
<text transform="translate(380.80,57.80) scale(0.9,1)" font-size="7" text-anchor="end" fill="#171c3a">Q</text>
<text transform="translate(380.80,63.65) scale(0.9,1)" font-size="7" text-anchor="end" fill="#171c3a">G</text>
<text transform="translate(380.80,69.50) scale(0.9,1)" font-size="7" text-anchor="end" fill="#171c3a">H</text>
<text transform="translate(380.80,75.35) scale(0.9,1)" font-size="7" text-anchor="end" fill="#171c3a">I</text>
<text transform="translate(380.80,81.20) scale(0.9,1)" font-size="7" text-anchor="end" fill="#171c3a">L</text>
<text transform="translate(380.80,87.05) scale(0.9,1)" font-size="7" text-anchor="end" fill="#171c3a">K</text>
<text transform="translate(380.80,92.90) scale(0.9,1)" font-size="7" text-anchor="end" fill="#171c3a">M</text>
<text transform="translate(380.80,98.75) scale(0.9,1)" font-size="7" text-anchor="end" fill="#171c3a">F</text>
<text transform="translate(380.80,104.60) scale(0.9,1)" font-size="7" text-anchor="end" fill="#171c3a">P</text>
<text transform="translate(380.80,110.45) scale(0.9,1)" font-size="7" text-anchor="end" fill="#171c3a">S</text>
<text transform="translate(380.80,116.30) scale(0.9,1)" font-size="7" text-anchor="end" fill="#171c3a">T</text>
<text transform="translate(380.80,122.15) scale(0.9,1)" font-size="7" text-anchor="end" fill="#171c3a">W</text>
<text transform="translate(380.80,128.00) scale(0.9,1)" font-size="7" text-anchor="end" fill="#171c3a">V</text>
<text transform="translate(380.80,133.85) scale(0.9,1)" font-size="7" text-anchor="end" fill="#171c3a">Y</text>
<text x="385.51" y="140.90" font-size="6.3" text-anchor="middle" font-weight="normal" fill="#1c2b52" >1</text>
<text x="392.13" y="140.90" font-size="6.3" text-anchor="middle" font-weight="normal" fill="#1c2b52" >2</text>
<text x="398.76" y="140.90" font-size="6.3" text-anchor="middle" font-weight="normal" fill="#1c2b52" >3</text>
<text x="405.38" y="140.90" font-size="6.3" text-anchor="middle" font-weight="normal" fill="#1c2b52" >4</text>
<text x="412.00" y="140.90" font-size="6.3" text-anchor="middle" font-weight="normal" fill="#1c2b52" >5</text>
<text x="418.62" y="140.90" font-size="6.3" text-anchor="middle" font-weight="normal" fill="#1c2b52" >6</text>
<text x="425.24" y="140.90" font-size="6.3" text-anchor="middle" font-weight="normal" fill="#1c2b52" >7</text>
<text x="431.87" y="140.90" font-size="6.3" text-anchor="middle" font-weight="normal" fill="#1c2b52" >8</text>
<text x="438.49" y="140.90" font-size="6.3" text-anchor="middle" font-weight="normal" fill="#1c2b52" >9</text>
<path fill="#f66a47" d="M473.4 17.3h6.67v5.90h-6.67zM499.9 23.1h6.67v5.90h-6.67zM473.4 40.7h6.67v5.90h-6.67zM486.6 52.4h6.67v5.90h-6.67zM493.3 58.2h6.67v5.90h-6.67zM473.4 75.8h6.67v5.90h-6.67zM480.0 75.8h6.67v5.90h-6.67zM519.8 75.8h6.67v5.90h-6.67zM526.4 75.8h6.67v5.90h-6.67zM473.4 87.5h6.67v5.90h-6.67zM513.1 93.3h6.67v5.90h-6.67zM493.3 99.2h6.67v5.90h-6.67zM506.5 110.9h6.67v5.90h-6.67zM473.4 128.4h6.67v5.90h-6.67z"/>
<path fill="#fcb094" d="M480.0 17.3h6.67v5.90h-6.67zM473.4 23.1h6.67v5.90h-6.67zM473.4 29.0h6.67v5.90h-6.67zM473.4 52.4h6.67v5.90h-6.67zM473.4 70.0h6.67v5.90h-6.67zM480.0 70.0h6.67v5.90h-6.67zM519.8 70.0h6.67v5.90h-6.67zM526.4 70.0h6.67v5.90h-6.67zM473.4 81.6h6.67v5.90h-6.67zM480.0 87.5h6.67v5.90h-6.67zM486.6 87.5h6.67v5.90h-6.67zM513.1 87.5h6.67v5.90h-6.67zM519.8 87.5h6.67v5.90h-6.67zM526.4 87.5h6.67v5.90h-6.67zM480.0 93.3h6.67v5.90h-6.67zM519.8 93.3h6.67v5.90h-6.67zM519.8 99.2h6.67v5.90h-6.67zM473.4 105.0h6.67v5.90h-6.67zM473.4 110.9h6.67v5.90h-6.67zM473.4 116.7h6.67v5.90h-6.67zM480.0 122.6h6.67v5.90h-6.67zM513.1 128.4h6.67v5.90h-6.67z"/>
<path fill="#fbf9f8" d="M486.6 17.3h6.67v5.90h-6.67zM513.1 29.0h6.67v5.90h-6.67zM486.6 40.7h6.67v5.90h-6.67zM513.1 40.7h6.67v5.90h-6.67zM493.3 52.4h6.67v5.90h-6.67zM480.0 58.2h6.67v5.90h-6.67zM486.6 58.2h6.67v5.90h-6.67zM526.4 58.2h6.67v5.90h-6.67zM519.8 64.1h6.67v5.90h-6.67zM480.0 81.6h6.67v5.90h-6.67zM526.4 81.6h6.67v5.90h-6.67zM526.4 93.3h6.67v5.90h-6.67zM480.0 99.2h6.67v5.90h-6.67zM526.4 99.2h6.67v5.90h-6.67zM486.6 105.0h6.67v5.90h-6.67zM513.1 110.9h6.67v5.90h-6.67zM519.8 110.9h6.67v5.90h-6.67zM513.1 116.7h6.67v5.90h-6.67zM526.4 116.7h6.67v5.90h-6.67zM513.1 122.6h6.67v5.90h-6.67z"/>
<path fill="#fde0d3" d="M493.3 17.3h6.67v5.90h-6.67zM526.4 29.0h6.67v5.90h-6.67zM473.4 34.8h6.67v5.90h-6.67zM493.3 34.8h6.67v5.90h-6.67zM480.0 40.7h6.67v5.90h-6.67zM519.8 40.7h6.67v5.90h-6.67zM526.4 40.7h6.67v5.90h-6.67zM473.4 46.5h6.67v5.90h-6.67zM493.3 46.5h6.67v5.90h-6.67zM526.4 46.5h6.67v5.90h-6.67zM480.0 52.4h6.67v5.90h-6.67zM519.8 52.4h6.67v5.90h-6.67zM526.4 52.4h6.67v5.90h-6.67zM473.4 58.2h6.67v5.90h-6.67zM473.4 64.1h6.67v5.90h-6.67zM480.0 64.1h6.67v5.90h-6.67zM493.3 64.1h6.67v5.90h-6.67zM526.4 64.1h6.67v5.90h-6.67zM473.4 99.2h6.67v5.90h-6.67zM480.0 105.0h6.67v5.90h-6.67zM513.1 105.0h6.67v5.90h-6.67zM526.4 105.0h6.67v5.90h-6.67zM480.0 110.9h6.67v5.90h-6.67zM526.4 110.9h6.67v5.90h-6.67zM493.3 116.7h6.67v5.90h-6.67zM473.4 122.6h6.67v5.90h-6.67zM526.4 122.6h6.67v5.90h-6.67z"/>
<path fill="#5ab0e6" d="M499.9 17.3h6.67v5.90h-6.67zM506.5 17.3h6.67v5.90h-6.67zM486.6 23.1h6.67v5.90h-6.67zM493.3 23.1h6.67v5.90h-6.67zM506.5 23.1h6.67v5.90h-6.67zM519.8 23.1h6.67v5.90h-6.67zM499.9 29.0h6.67v5.90h-6.67zM486.6 34.8h6.67v5.90h-6.67zM499.9 34.8h6.67v5.90h-6.67zM506.5 34.8h6.67v5.90h-6.67zM513.1 34.8h6.67v5.90h-6.67zM493.3 40.7h6.67v5.90h-6.67zM486.6 46.5h6.67v5.90h-6.67zM499.9 46.5h6.67v5.90h-6.67zM506.5 46.5h6.67v5.90h-6.67zM513.1 46.5h6.67v5.90h-6.67zM499.9 52.4h6.67v5.90h-6.67zM499.9 58.2h6.67v5.90h-6.67zM506.5 58.2h6.67v5.90h-6.67zM513.1 58.2h6.67v5.90h-6.67zM486.6 64.1h6.67v5.90h-6.67zM499.9 64.1h6.67v5.90h-6.67zM493.3 70.0h6.67v5.90h-6.67zM499.9 70.0h6.67v5.90h-6.67zM506.5 70.0h6.67v5.90h-6.67zM493.3 75.8h6.67v5.90h-6.67zM506.5 75.8h6.67v5.90h-6.67zM513.1 75.8h6.67v5.90h-6.67zM493.3 81.6h6.67v5.90h-6.67zM499.9 81.6h6.67v5.90h-6.67zM513.1 81.6h6.67v5.90h-6.67zM519.8 81.6h6.67v5.90h-6.67zM499.9 87.5h6.67v5.90h-6.67zM506.5 87.5h6.67v5.90h-6.67zM499.9 93.3h6.67v5.90h-6.67zM506.5 93.3h6.67v5.90h-6.67zM506.5 99.2h6.67v5.90h-6.67zM513.1 99.2h6.67v5.90h-6.67zM493.3 110.9h6.67v5.90h-6.67zM486.6 116.7h6.67v5.90h-6.67zM499.9 116.7h6.67v5.90h-6.67zM506.5 116.7h6.67v5.90h-6.67zM493.3 122.6h6.67v5.90h-6.67zM499.9 122.6h6.67v5.90h-6.67zM506.5 122.6h6.67v5.90h-6.67zM486.6 128.4h6.67v5.90h-6.67zM493.3 128.4h6.67v5.90h-6.67zM499.9 128.4h6.67v5.90h-6.67zM506.5 128.4h6.67v5.90h-6.67z"/>
<path fill="#2a88cd" d="M513.1 17.3h6.67v5.90h-6.67zM513.1 23.1h6.67v5.90h-6.67zM499.9 40.7h6.67v5.90h-6.67zM506.5 52.4h6.67v5.90h-6.67zM506.5 64.1h6.67v5.90h-6.67zM499.9 75.8h6.67v5.90h-6.67zM499.9 99.2h6.67v5.90h-6.67zM499.9 105.0h6.67v5.90h-6.67zM499.9 110.9h6.67v5.90h-6.67z"/>
<path fill="#97cdef" d="M519.8 17.3h6.67v5.90h-6.67zM526.4 17.3h6.67v5.90h-6.67zM480.0 23.1h6.67v5.90h-6.67zM480.0 29.0h6.67v5.90h-6.67zM486.6 29.0h6.67v5.90h-6.67zM493.3 29.0h6.67v5.90h-6.67zM519.8 34.8h6.67v5.90h-6.67zM526.4 34.8h6.67v5.90h-6.67zM506.5 40.7h6.67v5.90h-6.67zM480.0 46.5h6.67v5.90h-6.67zM519.8 46.5h6.67v5.90h-6.67zM519.8 58.2h6.67v5.90h-6.67zM513.1 64.1h6.67v5.90h-6.67zM513.1 70.0h6.67v5.90h-6.67zM486.6 81.6h6.67v5.90h-6.67zM506.5 81.6h6.67v5.90h-6.67zM486.6 93.3h6.67v5.90h-6.67zM493.3 93.3h6.67v5.90h-6.67zM486.6 99.2h6.67v5.90h-6.67zM506.5 105.0h6.67v5.90h-6.67zM486.6 110.9h6.67v5.90h-6.67zM480.0 116.7h6.67v5.90h-6.67zM486.6 122.6h6.67v5.90h-6.67zM519.8 122.6h6.67v5.90h-6.67zM519.8 128.4h6.67v5.90h-6.67zM526.4 128.4h6.67v5.90h-6.67z"/>
<path fill="#cae4f5" d="M526.4 23.1h6.67v5.90h-6.67zM506.5 29.0h6.67v5.90h-6.67zM519.8 29.0h6.67v5.90h-6.67zM480.0 34.8h6.67v5.90h-6.67zM513.1 52.4h6.67v5.90h-6.67zM486.6 70.0h6.67v5.90h-6.67zM486.6 75.8h6.67v5.90h-6.67zM493.3 87.5h6.67v5.90h-6.67zM493.3 105.0h6.67v5.90h-6.67zM519.8 105.0h6.67v5.90h-6.67zM519.8 116.7h6.67v5.90h-6.67zM480.0 128.4h6.67v5.90h-6.67z"/>
<path fill="#d62a27" d="M473.4 93.3h6.67v5.90h-6.67z"/>
<path d="M473.40 17.30V134.30M480.02 17.30V134.30M486.64 17.30V134.30M493.27 17.30V134.30M499.89 17.30V134.30M506.51 17.30V134.30M513.13 17.30V134.30M519.76 17.30V134.30M526.38 17.30V134.30M533.00 17.30V134.30M473.40 17.30H533.00M473.40 23.15H533.00M473.40 29.00H533.00M473.40 34.85H533.00M473.40 40.70H533.00M473.40 46.55H533.00M473.40 52.40H533.00M473.40 58.25H533.00M473.40 64.10H533.00M473.40 69.95H533.00M473.40 75.80H533.00M473.40 81.65H533.00M473.40 87.50H533.00M473.40 93.35H533.00M473.40 99.20H533.00M473.40 105.05H533.00M473.40 110.90H533.00M473.40 116.75H533.00M473.40 122.60H533.00M473.40 128.45H533.00M473.40 134.30H533.00" stroke="#8e8e8e" stroke-width="0.85" fill="none"/>
<text transform="translate(503.20,14.90) scale(0.84,1)" font-size="11" text-anchor="middle" fill="#111">SVAR.3</text>
<text transform="translate(472.00,22.70) scale(0.9,1)" font-size="7" text-anchor="end" fill="#171c3a">A</text>
<text transform="translate(472.00,28.55) scale(0.9,1)" font-size="7" text-anchor="end" fill="#171c3a">R</text>
<text transform="translate(472.00,34.40) scale(0.9,1)" font-size="7" text-anchor="end" fill="#171c3a">N</text>
<text transform="translate(472.00,40.25) scale(0.9,1)" font-size="7" text-anchor="end" fill="#171c3a">D</text>
<text transform="translate(472.00,46.10) scale(0.9,1)" font-size="7" text-anchor="end" fill="#171c3a">C</text>
<text transform="translate(472.00,51.95) scale(0.9,1)" font-size="7" text-anchor="end" fill="#171c3a">E</text>
<text transform="translate(472.00,57.80) scale(0.9,1)" font-size="7" text-anchor="end" fill="#171c3a">Q</text>
<text transform="translate(472.00,63.65) scale(0.9,1)" font-size="7" text-anchor="end" fill="#171c3a">G</text>
<text transform="translate(472.00,69.50) scale(0.9,1)" font-size="7" text-anchor="end" fill="#171c3a">H</text>
<text transform="translate(472.00,75.35) scale(0.9,1)" font-size="7" text-anchor="end" fill="#171c3a">I</text>
<text transform="translate(472.00,81.20) scale(0.9,1)" font-size="7" text-anchor="end" fill="#171c3a">L</text>
<text transform="translate(472.00,87.05) scale(0.9,1)" font-size="7" text-anchor="end" fill="#171c3a">K</text>
<text transform="translate(472.00,92.90) scale(0.9,1)" font-size="7" text-anchor="end" fill="#171c3a">M</text>
<text transform="translate(472.00,98.75) scale(0.9,1)" font-size="7" text-anchor="end" fill="#171c3a">F</text>
<text transform="translate(472.00,104.60) scale(0.9,1)" font-size="7" text-anchor="end" fill="#171c3a">P</text>
<text transform="translate(472.00,110.45) scale(0.9,1)" font-size="7" text-anchor="end" fill="#171c3a">S</text>
<text transform="translate(472.00,116.30) scale(0.9,1)" font-size="7" text-anchor="end" fill="#171c3a">T</text>
<text transform="translate(472.00,122.15) scale(0.9,1)" font-size="7" text-anchor="end" fill="#171c3a">W</text>
<text transform="translate(472.00,128.00) scale(0.9,1)" font-size="7" text-anchor="end" fill="#171c3a">V</text>
<text transform="translate(472.00,133.85) scale(0.9,1)" font-size="7" text-anchor="end" fill="#171c3a">Y</text>
<text x="476.71" y="140.90" font-size="6.3" text-anchor="middle" font-weight="normal" fill="#1c2b52" >1</text>
<text x="483.33" y="140.90" font-size="6.3" text-anchor="middle" font-weight="normal" fill="#1c2b52" >2</text>
<text x="489.96" y="140.90" font-size="6.3" text-anchor="middle" font-weight="normal" fill="#1c2b52" >3</text>
<text x="496.58" y="140.90" font-size="6.3" text-anchor="middle" font-weight="normal" fill="#1c2b52" >4</text>
<text x="503.20" y="140.90" font-size="6.3" text-anchor="middle" font-weight="normal" fill="#1c2b52" >5</text>
<text x="509.82" y="140.90" font-size="6.3" text-anchor="middle" font-weight="normal" fill="#1c2b52" >6</text>
<text x="516.44" y="140.90" font-size="6.3" text-anchor="middle" font-weight="normal" fill="#1c2b52" >7</text>
<text x="523.07" y="140.90" font-size="6.3" text-anchor="middle" font-weight="normal" fill="#1c2b52" >8</text>
<text x="529.69" y="140.90" font-size="6.3" text-anchor="middle" font-weight="normal" fill="#1c2b52" >9</text>
<path fill="#f66a47" d="M565.5 17.3h6.67v5.90h-6.67zM572.1 17.3h6.67v5.90h-6.67zM618.5 17.3h6.67v5.90h-6.67zM565.5 23.1h6.67v5.90h-6.67zM565.5 29.0h6.67v5.90h-6.67zM618.5 29.0h6.67v5.90h-6.67zM565.5 40.7h6.67v5.90h-6.67zM572.1 40.7h6.67v5.90h-6.67zM605.2 40.7h6.67v5.90h-6.67zM618.5 40.7h6.67v5.90h-6.67zM618.5 46.5h6.67v5.90h-6.67zM565.5 52.4h6.67v5.90h-6.67zM611.9 52.4h6.67v5.90h-6.67zM618.5 58.2h6.67v5.90h-6.67zM618.5 64.1h6.67v5.90h-6.67zM565.5 70.0h6.67v5.90h-6.67zM572.1 70.0h6.67v5.90h-6.67zM611.9 70.0h6.67v5.90h-6.67zM618.5 70.0h6.67v5.90h-6.67zM565.5 81.6h6.67v5.90h-6.67zM618.5 99.2h6.67v5.90h-6.67zM565.5 105.0h6.67v5.90h-6.67zM572.1 105.0h6.67v5.90h-6.67zM565.5 110.9h6.67v5.90h-6.67zM572.1 110.9h6.67v5.90h-6.67zM605.2 110.9h6.67v5.90h-6.67zM611.9 110.9h6.67v5.90h-6.67zM565.5 122.6h6.67v5.90h-6.67zM572.1 122.6h6.67v5.90h-6.67z"/>
<path fill="#fbf9f8" d="M578.7 17.3h6.67v5.90h-6.67zM572.1 29.0h6.67v5.90h-6.67zM585.4 29.0h6.67v5.90h-6.67zM585.4 34.8h6.67v5.90h-6.67zM585.4 40.7h6.67v5.90h-6.67zM605.2 52.4h6.67v5.90h-6.67zM605.2 64.1h6.67v5.90h-6.67zM605.2 70.0h6.67v5.90h-6.67zM578.7 75.8h6.67v5.90h-6.67zM585.4 87.5h6.67v5.90h-6.67zM605.2 99.2h6.67v5.90h-6.67zM585.4 105.0h6.67v5.90h-6.67zM618.5 116.7h6.67v5.90h-6.67zM572.1 128.4h6.67v5.90h-6.67zM611.9 128.4h6.67v5.90h-6.67zM618.5 128.4h6.67v5.90h-6.67z"/>
<path fill="#fcb094" d="M585.4 17.3h6.67v5.90h-6.67zM605.2 29.0h6.67v5.90h-6.67zM611.9 29.0h6.67v5.90h-6.67zM565.5 46.5h6.67v5.90h-6.67zM611.9 46.5h6.67v5.90h-6.67zM572.1 52.4h6.67v5.90h-6.67zM565.5 58.2h6.67v5.90h-6.67zM611.9 58.2h6.67v5.90h-6.67zM565.5 64.1h6.67v5.90h-6.67zM572.1 64.1h6.67v5.90h-6.67zM611.9 64.1h6.67v5.90h-6.67zM572.1 81.6h6.67v5.90h-6.67zM618.5 81.6h6.67v5.90h-6.67zM565.5 99.2h6.67v5.90h-6.67zM572.1 99.2h6.67v5.90h-6.67zM611.9 105.0h6.67v5.90h-6.67zM585.4 116.7h6.67v5.90h-6.67zM605.2 116.7h6.67v5.90h-6.67zM605.2 122.6h6.67v5.90h-6.67z"/>
<path fill="#5ab0e6" d="M592.0 17.3h6.67v5.90h-6.67zM578.7 23.1h6.67v5.90h-6.67zM585.4 23.1h6.67v5.90h-6.67zM592.0 29.0h6.67v5.90h-6.67zM578.7 34.8h6.67v5.90h-6.67zM592.0 34.8h6.67v5.90h-6.67zM598.6 34.8h6.67v5.90h-6.67zM592.0 40.7h6.67v5.90h-6.67zM592.0 46.5h6.67v5.90h-6.67zM598.6 46.5h6.67v5.90h-6.67zM592.0 52.4h6.67v5.90h-6.67zM598.6 52.4h6.67v5.90h-6.67zM592.0 58.2h6.67v5.90h-6.67zM598.6 58.2h6.67v5.90h-6.67zM605.2 58.2h6.67v5.90h-6.67zM578.7 64.1h6.67v5.90h-6.67zM592.0 64.1h6.67v5.90h-6.67zM598.6 64.1h6.67v5.90h-6.67zM592.0 70.0h6.67v5.90h-6.67zM598.6 70.0h6.67v5.90h-6.67zM592.0 75.8h6.67v5.90h-6.67zM585.4 81.6h6.67v5.90h-6.67zM592.0 81.6h6.67v5.90h-6.67zM605.2 81.6h6.67v5.90h-6.67zM592.0 87.5h6.67v5.90h-6.67zM578.7 93.3h6.67v5.90h-6.67zM592.0 93.3h6.67v5.90h-6.67zM592.0 99.2h6.67v5.90h-6.67zM598.6 99.2h6.67v5.90h-6.67zM592.0 105.0h6.67v5.90h-6.67zM592.0 110.9h6.67v5.90h-6.67zM578.7 116.7h6.67v5.90h-6.67zM592.0 116.7h6.67v5.90h-6.67zM598.6 116.7h6.67v5.90h-6.67zM585.4 122.6h6.67v5.90h-6.67zM592.0 122.6h6.67v5.90h-6.67zM578.7 128.4h6.67v5.90h-6.67zM592.0 128.4h6.67v5.90h-6.67z"/>
<path fill="#97cdef" d="M598.6 17.3h6.67v5.90h-6.67zM605.2 17.3h6.67v5.90h-6.67zM572.1 23.1h6.67v5.90h-6.67zM598.6 23.1h6.67v5.90h-6.67zM605.2 23.1h6.67v5.90h-6.67zM611.9 23.1h6.67v5.90h-6.67zM578.7 29.0h6.67v5.90h-6.67zM605.2 34.8h6.67v5.90h-6.67zM611.9 34.8h6.67v5.90h-6.67zM578.7 46.5h6.67v5.90h-6.67zM605.2 46.5h6.67v5.90h-6.67zM585.4 70.0h6.67v5.90h-6.67zM585.4 75.8h6.67v5.90h-6.67zM598.6 75.8h6.67v5.90h-6.67zM605.2 75.8h6.67v5.90h-6.67zM578.7 81.6h6.67v5.90h-6.67zM598.6 81.6h6.67v5.90h-6.67zM611.9 81.6h6.67v5.90h-6.67zM598.6 87.5h6.67v5.90h-6.67zM585.4 93.3h6.67v5.90h-6.67zM598.6 93.3h6.67v5.90h-6.67zM578.7 99.2h6.67v5.90h-6.67zM598.6 105.0h6.67v5.90h-6.67zM578.7 110.9h6.67v5.90h-6.67zM585.4 110.9h6.67v5.90h-6.67zM572.1 116.7h6.67v5.90h-6.67zM598.6 122.6h6.67v5.90h-6.67zM611.9 122.6h6.67v5.90h-6.67zM618.5 122.6h6.67v5.90h-6.67zM585.4 128.4h6.67v5.90h-6.67zM598.6 128.4h6.67v5.90h-6.67z"/>
<path fill="#fde0d3" d="M611.9 17.3h6.67v5.90h-6.67zM618.5 23.1h6.67v5.90h-6.67zM598.6 29.0h6.67v5.90h-6.67zM565.5 34.8h6.67v5.90h-6.67zM618.5 34.8h6.67v5.90h-6.67zM578.7 40.7h6.67v5.90h-6.67zM585.4 52.4h6.67v5.90h-6.67zM572.1 58.2h6.67v5.90h-6.67zM578.7 58.2h6.67v5.90h-6.67zM585.4 64.1h6.67v5.90h-6.67zM618.5 93.3h6.67v5.90h-6.67zM578.7 105.0h6.67v5.90h-6.67z"/>
<path fill="#a20314" d="M592.0 23.1h6.67v5.90h-6.67zM572.1 75.8h6.67v5.90h-6.67zM618.5 75.8h6.67v5.90h-6.67zM611.9 87.5h6.67v5.90h-6.67zM565.5 93.3h6.67v5.90h-6.67zM585.4 99.2h6.67v5.90h-6.67zM598.6 110.9h6.67v5.90h-6.67zM565.5 128.4h6.67v5.90h-6.67zM605.2 128.4h6.67v5.90h-6.67z"/>
<path fill="#cae4f5" d="M572.1 34.8h6.67v5.90h-6.67zM598.6 40.7h6.67v5.90h-6.67zM572.1 46.5h6.67v5.90h-6.67zM585.4 46.5h6.67v5.90h-6.67zM578.7 70.0h6.67v5.90h-6.67zM611.9 116.7h6.67v5.90h-6.67zM578.7 122.6h6.67v5.90h-6.67z"/>
<path fill="#d62a27" d="M611.9 40.7h6.67v5.90h-6.67zM578.7 52.4h6.67v5.90h-6.67zM618.5 52.4h6.67v5.90h-6.67zM585.4 58.2h6.67v5.90h-6.67zM565.5 75.8h6.67v5.90h-6.67zM611.9 75.8h6.67v5.90h-6.67zM565.5 87.5h6.67v5.90h-6.67zM572.1 87.5h6.67v5.90h-6.67zM578.7 87.5h6.67v5.90h-6.67zM605.2 87.5h6.67v5.90h-6.67zM618.5 87.5h6.67v5.90h-6.67zM572.1 93.3h6.67v5.90h-6.67zM605.2 93.3h6.67v5.90h-6.67zM611.9 93.3h6.67v5.90h-6.67zM611.9 99.2h6.67v5.90h-6.67zM605.2 105.0h6.67v5.90h-6.67zM618.5 105.0h6.67v5.90h-6.67zM618.5 110.9h6.67v5.90h-6.67zM565.5 116.7h6.67v5.90h-6.67z"/>
<path d="M565.50 17.30V134.30M572.12 17.30V134.30M578.74 17.30V134.30M585.37 17.30V134.30M591.99 17.30V134.30M598.61 17.30V134.30M605.23 17.30V134.30M611.86 17.30V134.30M618.48 17.30V134.30M625.10 17.30V134.30M565.50 17.30H625.10M565.50 23.15H625.10M565.50 29.00H625.10M565.50 34.85H625.10M565.50 40.70H625.10M565.50 46.55H625.10M565.50 52.40H625.10M565.50 58.25H625.10M565.50 64.10H625.10M565.50 69.95H625.10M565.50 75.80H625.10M565.50 81.65H625.10M565.50 87.50H625.10M565.50 93.35H625.10M565.50 99.20H625.10M565.50 105.05H625.10M565.50 110.90H625.10M565.50 116.75H625.10M565.50 122.60H625.10M565.50 128.45H625.10M565.50 134.30H625.10" stroke="#8e8e8e" stroke-width="0.85" fill="none"/>
<text transform="translate(595.30,14.90) scale(0.84,1)" font-size="11" text-anchor="middle" fill="#111">SVAR.5</text>
<text transform="translate(564.10,22.70) scale(0.9,1)" font-size="7" text-anchor="end" fill="#171c3a">A</text>
<text transform="translate(564.10,28.55) scale(0.9,1)" font-size="7" text-anchor="end" fill="#171c3a">R</text>
<text transform="translate(564.10,34.40) scale(0.9,1)" font-size="7" text-anchor="end" fill="#171c3a">N</text>
<text transform="translate(564.10,40.25) scale(0.9,1)" font-size="7" text-anchor="end" fill="#171c3a">D</text>
<text transform="translate(564.10,46.10) scale(0.9,1)" font-size="7" text-anchor="end" fill="#171c3a">C</text>
<text transform="translate(564.10,51.95) scale(0.9,1)" font-size="7" text-anchor="end" fill="#171c3a">E</text>
<text transform="translate(564.10,57.80) scale(0.9,1)" font-size="7" text-anchor="end" fill="#171c3a">Q</text>
<text transform="translate(564.10,63.65) scale(0.9,1)" font-size="7" text-anchor="end" fill="#171c3a">G</text>
<text transform="translate(564.10,69.50) scale(0.9,1)" font-size="7" text-anchor="end" fill="#171c3a">H</text>
<text transform="translate(564.10,75.35) scale(0.9,1)" font-size="7" text-anchor="end" fill="#171c3a">I</text>
<text transform="translate(564.10,81.20) scale(0.9,1)" font-size="7" text-anchor="end" fill="#171c3a">L</text>
<text transform="translate(564.10,87.05) scale(0.9,1)" font-size="7" text-anchor="end" fill="#171c3a">K</text>
<text transform="translate(564.10,92.90) scale(0.9,1)" font-size="7" text-anchor="end" fill="#171c3a">M</text>
<text transform="translate(564.10,98.75) scale(0.9,1)" font-size="7" text-anchor="end" fill="#171c3a">F</text>
<text transform="translate(564.10,104.60) scale(0.9,1)" font-size="7" text-anchor="end" fill="#171c3a">P</text>
<text transform="translate(564.10,110.45) scale(0.9,1)" font-size="7" text-anchor="end" fill="#171c3a">S</text>
<text transform="translate(564.10,116.30) scale(0.9,1)" font-size="7" text-anchor="end" fill="#171c3a">T</text>
<text transform="translate(564.10,122.15) scale(0.9,1)" font-size="7" text-anchor="end" fill="#171c3a">W</text>
<text transform="translate(564.10,128.00) scale(0.9,1)" font-size="7" text-anchor="end" fill="#171c3a">V</text>
<text transform="translate(564.10,133.85) scale(0.9,1)" font-size="7" text-anchor="end" fill="#171c3a">Y</text>
<text x="568.81" y="140.90" font-size="6.3" text-anchor="middle" font-weight="normal" fill="#1c2b52" >1</text>
<text x="575.43" y="140.90" font-size="6.3" text-anchor="middle" font-weight="normal" fill="#1c2b52" >2</text>
<text x="582.06" y="140.90" font-size="6.3" text-anchor="middle" font-weight="normal" fill="#1c2b52" >3</text>
<text x="588.68" y="140.90" font-size="6.3" text-anchor="middle" font-weight="normal" fill="#1c2b52" >4</text>
<text x="595.30" y="140.90" font-size="6.3" text-anchor="middle" font-weight="normal" fill="#1c2b52" >5</text>
<text x="601.92" y="140.90" font-size="6.3" text-anchor="middle" font-weight="normal" fill="#1c2b52" >6</text>
<text x="608.54" y="140.90" font-size="6.3" text-anchor="middle" font-weight="normal" fill="#1c2b52" >7</text>
<text x="615.17" y="140.90" font-size="6.3" text-anchor="middle" font-weight="normal" fill="#1c2b52" >8</text>
<text x="621.79" y="140.90" font-size="6.3" text-anchor="middle" font-weight="normal" fill="#1c2b52" >9</text>
<path fill="#d62a27" d="M290.0 161.3h6.67v5.90h-6.67zM290.0 184.7h6.67v5.90h-6.67zM296.6 214.0h6.67v5.90h-6.67zM336.4 214.0h6.67v5.90h-6.67zM290.0 219.8h6.67v5.90h-6.67zM290.0 231.5h6.67v5.90h-6.67zM296.6 231.5h6.67v5.90h-6.67zM303.2 231.5h6.67v5.90h-6.67zM329.7 231.5h6.67v5.90h-6.67zM336.4 231.5h6.67v5.90h-6.67zM343.0 231.5h6.67v5.90h-6.67zM296.6 237.4h6.67v5.90h-6.67zM336.4 237.4h6.67v5.90h-6.67zM336.4 243.2h6.67v5.90h-6.67zM296.6 249.1h6.67v5.90h-6.67zM290.0 260.8h6.67v5.90h-6.67zM296.6 266.6h6.67v5.90h-6.67z"/>
<path fill="#f66a47" d="M296.6 161.3h6.67v5.90h-6.67zM290.0 167.2h6.67v5.90h-6.67zM290.0 173.0h6.67v5.90h-6.67zM296.6 184.7h6.67v5.90h-6.67zM336.4 184.7h6.67v5.90h-6.67zM290.0 196.4h6.67v5.90h-6.67zM343.0 196.4h6.67v5.90h-6.67zM290.0 202.2h6.67v5.90h-6.67zM343.0 208.1h6.67v5.90h-6.67zM290.0 214.0h6.67v5.90h-6.67zM343.0 214.0h6.67v5.90h-6.67zM290.0 225.7h6.67v5.90h-6.67zM290.0 249.1h6.67v5.90h-6.67zM329.7 249.1h6.67v5.90h-6.67zM343.0 249.1h6.67v5.90h-6.67zM290.0 254.9h6.67v5.90h-6.67zM296.6 254.9h6.67v5.90h-6.67zM343.0 254.9h6.67v5.90h-6.67zM309.9 260.8h6.67v5.90h-6.67zM290.0 266.6h6.67v5.90h-6.67zM343.0 266.6h6.67v5.90h-6.67z"/>
<path fill="#97cdef" d="M303.2 161.3h6.67v5.90h-6.67zM323.1 161.3h6.67v5.90h-6.67zM329.7 161.3h6.67v5.90h-6.67zM336.4 161.3h6.67v5.90h-6.67zM296.6 167.2h6.67v5.90h-6.67zM323.1 167.2h6.67v5.90h-6.67zM336.4 167.2h6.67v5.90h-6.67zM309.9 173.0h6.67v5.90h-6.67zM296.6 178.9h6.67v5.90h-6.67zM323.1 184.7h6.67v5.90h-6.67zM296.6 190.6h6.67v5.90h-6.67zM323.1 196.4h6.67v5.90h-6.67zM323.1 202.2h6.67v5.90h-6.67zM329.7 208.1h6.67v5.90h-6.67zM303.2 214.0h6.67v5.90h-6.67zM309.9 214.0h6.67v5.90h-6.67zM323.1 214.0h6.67v5.90h-6.67zM303.2 219.8h6.67v5.90h-6.67zM323.1 219.8h6.67v5.90h-6.67zM323.1 225.7h6.67v5.90h-6.67zM323.1 231.5h6.67v5.90h-6.67zM309.9 237.4h6.67v5.90h-6.67zM323.1 237.4h6.67v5.90h-6.67zM329.7 243.2h6.67v5.90h-6.67zM296.6 260.8h6.67v5.90h-6.67zM336.4 260.8h6.67v5.90h-6.67zM343.0 260.8h6.67v5.90h-6.67zM303.2 266.6h6.67v5.90h-6.67zM303.2 272.4h6.67v5.90h-6.67zM309.9 272.4h6.67v5.90h-6.67zM336.4 272.4h6.67v5.90h-6.67zM343.0 272.4h6.67v5.90h-6.67z"/>
<path fill="#fcb094" d="M309.9 161.3h6.67v5.90h-6.67zM343.0 161.3h6.67v5.90h-6.67zM343.0 173.0h6.67v5.90h-6.67zM309.9 178.9h6.67v5.90h-6.67zM329.7 184.7h6.67v5.90h-6.67zM290.0 190.6h6.67v5.90h-6.67zM309.9 190.6h6.67v5.90h-6.67zM343.0 190.6h6.67v5.90h-6.67zM296.6 196.4h6.67v5.90h-6.67zM309.9 196.4h6.67v5.90h-6.67zM336.4 196.4h6.67v5.90h-6.67zM290.0 208.1h6.67v5.90h-6.67zM296.6 208.1h6.67v5.90h-6.67zM309.9 208.1h6.67v5.90h-6.67zM290.0 243.2h6.67v5.90h-6.67zM329.7 260.8h6.67v5.90h-6.67zM336.4 266.6h6.67v5.90h-6.67z"/>
<path fill="#5ab0e6" d="M316.5 161.3h6.67v5.90h-6.67zM303.2 167.2h6.67v5.90h-6.67zM309.9 167.2h6.67v5.90h-6.67zM329.7 167.2h6.67v5.90h-6.67zM343.0 167.2h6.67v5.90h-6.67zM303.2 173.0h6.67v5.90h-6.67zM316.5 173.0h6.67v5.90h-6.67zM303.2 178.9h6.67v5.90h-6.67zM316.5 178.9h6.67v5.90h-6.67zM323.1 178.9h6.67v5.90h-6.67zM329.7 178.9h6.67v5.90h-6.67zM336.4 178.9h6.67v5.90h-6.67zM316.5 184.7h6.67v5.90h-6.67zM303.2 190.6h6.67v5.90h-6.67zM316.5 190.6h6.67v5.90h-6.67zM323.1 190.6h6.67v5.90h-6.67zM329.7 190.6h6.67v5.90h-6.67zM316.5 196.4h6.67v5.90h-6.67zM316.5 202.2h6.67v5.90h-6.67zM329.7 202.2h6.67v5.90h-6.67zM303.2 208.1h6.67v5.90h-6.67zM316.5 208.1h6.67v5.90h-6.67zM323.1 208.1h6.67v5.90h-6.67zM336.4 208.1h6.67v5.90h-6.67zM316.5 214.0h6.67v5.90h-6.67zM309.9 219.8h6.67v5.90h-6.67zM316.5 219.8h6.67v5.90h-6.67zM329.7 219.8h6.67v5.90h-6.67zM303.2 225.7h6.67v5.90h-6.67zM309.9 225.7h6.67v5.90h-6.67zM316.5 225.7h6.67v5.90h-6.67zM329.7 225.7h6.67v5.90h-6.67zM336.4 225.7h6.67v5.90h-6.67zM316.5 231.5h6.67v5.90h-6.67zM303.2 237.4h6.67v5.90h-6.67zM316.5 237.4h6.67v5.90h-6.67zM303.2 243.2h6.67v5.90h-6.67zM316.5 243.2h6.67v5.90h-6.67zM323.1 243.2h6.67v5.90h-6.67zM343.0 243.2h6.67v5.90h-6.67zM316.5 249.1h6.67v5.90h-6.67zM323.1 249.1h6.67v5.90h-6.67zM303.2 254.9h6.67v5.90h-6.67zM309.9 254.9h6.67v5.90h-6.67zM316.5 254.9h6.67v5.90h-6.67zM329.7 254.9h6.67v5.90h-6.67zM303.2 260.8h6.67v5.90h-6.67zM316.5 260.8h6.67v5.90h-6.67zM323.1 260.8h6.67v5.90h-6.67zM309.9 266.6h6.67v5.90h-6.67zM316.5 266.6h6.67v5.90h-6.67zM323.1 266.6h6.67v5.90h-6.67zM316.5 272.4h6.67v5.90h-6.67zM323.1 272.4h6.67v5.90h-6.67z"/>
<path fill="#a20314" d="M316.5 167.2h6.67v5.90h-6.67zM303.2 196.4h6.67v5.90h-6.67zM309.9 202.2h6.67v5.90h-6.67zM296.6 219.8h6.67v5.90h-6.67zM336.4 219.8h6.67v5.90h-6.67zM343.0 219.8h6.67v5.90h-6.67zM290.0 237.4h6.67v5.90h-6.67zM329.7 237.4h6.67v5.90h-6.67zM309.9 243.2h6.67v5.90h-6.67zM323.1 254.9h6.67v5.90h-6.67zM290.0 272.4h6.67v5.90h-6.67zM329.7 272.4h6.67v5.90h-6.67z"/>
<path fill="#cae4f5" d="M296.6 173.0h6.67v5.90h-6.67zM323.1 173.0h6.67v5.90h-6.67zM343.0 178.9h6.67v5.90h-6.67zM309.9 184.7h6.67v5.90h-6.67zM329.7 196.4h6.67v5.90h-6.67zM336.4 202.2h6.67v5.90h-6.67zM309.9 231.5h6.67v5.90h-6.67zM296.6 272.4h6.67v5.90h-6.67z"/>
<path fill="#fde0d3" d="M329.7 173.0h6.67v5.90h-6.67zM343.0 184.7h6.67v5.90h-6.67zM343.0 202.2h6.67v5.90h-6.67zM296.6 225.7h6.67v5.90h-6.67zM343.0 225.7h6.67v5.90h-6.67zM336.4 254.9h6.67v5.90h-6.67z"/>
<path fill="#fbf9f8" d="M336.4 173.0h6.67v5.90h-6.67zM290.0 178.9h6.67v5.90h-6.67zM303.2 184.7h6.67v5.90h-6.67zM336.4 190.6h6.67v5.90h-6.67zM296.6 202.2h6.67v5.90h-6.67zM303.2 202.2h6.67v5.90h-6.67zM329.7 214.0h6.67v5.90h-6.67zM343.0 237.4h6.67v5.90h-6.67zM296.6 243.2h6.67v5.90h-6.67zM303.2 249.1h6.67v5.90h-6.67zM309.9 249.1h6.67v5.90h-6.67zM336.4 249.1h6.67v5.90h-6.67zM329.7 266.6h6.67v5.90h-6.67z"/>
<path d="M290.00 161.30V278.30M296.62 161.30V278.30M303.24 161.30V278.30M309.87 161.30V278.30M316.49 161.30V278.30M323.11 161.30V278.30M329.73 161.30V278.30M336.36 161.30V278.30M342.98 161.30V278.30M349.60 161.30V278.30M290.00 161.30H349.60M290.00 167.15H349.60M290.00 173.00H349.60M290.00 178.85H349.60M290.00 184.70H349.60M290.00 190.55H349.60M290.00 196.40H349.60M290.00 202.25H349.60M290.00 208.10H349.60M290.00 213.95H349.60M290.00 219.80H349.60M290.00 225.65H349.60M290.00 231.50H349.60M290.00 237.35H349.60M290.00 243.20H349.60M290.00 249.05H349.60M290.00 254.90H349.60M290.00 260.75H349.60M290.00 266.60H349.60M290.00 272.45H349.60M290.00 278.30H349.60" stroke="#8e8e8e" stroke-width="0.85" fill="none"/>
<text transform="translate(319.80,158.90) scale(0.84,1)" font-size="11" text-anchor="middle" fill="#111">SVAR.6</text>
<text transform="translate(288.60,166.70) scale(0.9,1)" font-size="7" text-anchor="end" fill="#171c3a">A</text>
<text transform="translate(288.60,172.55) scale(0.9,1)" font-size="7" text-anchor="end" fill="#171c3a">R</text>
<text transform="translate(288.60,178.40) scale(0.9,1)" font-size="7" text-anchor="end" fill="#171c3a">N</text>
<text transform="translate(288.60,184.25) scale(0.9,1)" font-size="7" text-anchor="end" fill="#171c3a">D</text>
<text transform="translate(288.60,190.10) scale(0.9,1)" font-size="7" text-anchor="end" fill="#171c3a">C</text>
<text transform="translate(288.60,195.95) scale(0.9,1)" font-size="7" text-anchor="end" fill="#171c3a">E</text>
<text transform="translate(288.60,201.80) scale(0.9,1)" font-size="7" text-anchor="end" fill="#171c3a">Q</text>
<text transform="translate(288.60,207.65) scale(0.9,1)" font-size="7" text-anchor="end" fill="#171c3a">G</text>
<text transform="translate(288.60,213.50) scale(0.9,1)" font-size="7" text-anchor="end" fill="#171c3a">H</text>
<text transform="translate(288.60,219.35) scale(0.9,1)" font-size="7" text-anchor="end" fill="#171c3a">I</text>
<text transform="translate(288.60,225.20) scale(0.9,1)" font-size="7" text-anchor="end" fill="#171c3a">L</text>
<text transform="translate(288.60,231.05) scale(0.9,1)" font-size="7" text-anchor="end" fill="#171c3a">K</text>
<text transform="translate(288.60,236.90) scale(0.9,1)" font-size="7" text-anchor="end" fill="#171c3a">M</text>
<text transform="translate(288.60,242.75) scale(0.9,1)" font-size="7" text-anchor="end" fill="#171c3a">F</text>
<text transform="translate(288.60,248.60) scale(0.9,1)" font-size="7" text-anchor="end" fill="#171c3a">P</text>
<text transform="translate(288.60,254.45) scale(0.9,1)" font-size="7" text-anchor="end" fill="#171c3a">S</text>
<text transform="translate(288.60,260.30) scale(0.9,1)" font-size="7" text-anchor="end" fill="#171c3a">T</text>
<text transform="translate(288.60,266.15) scale(0.9,1)" font-size="7" text-anchor="end" fill="#171c3a">W</text>
<text transform="translate(288.60,272.00) scale(0.9,1)" font-size="7" text-anchor="end" fill="#171c3a">V</text>
<text transform="translate(288.60,277.85) scale(0.9,1)" font-size="7" text-anchor="end" fill="#171c3a">Y</text>
<text x="293.31" y="284.90" font-size="6.3" text-anchor="middle" font-weight="normal" fill="#1c2b52" >1</text>
<text x="299.93" y="284.90" font-size="6.3" text-anchor="middle" font-weight="normal" fill="#1c2b52" >2</text>
<text x="306.56" y="284.90" font-size="6.3" text-anchor="middle" font-weight="normal" fill="#1c2b52" >3</text>
<text x="313.18" y="284.90" font-size="6.3" text-anchor="middle" font-weight="normal" fill="#1c2b52" >4</text>
<text x="319.80" y="284.90" font-size="6.3" text-anchor="middle" font-weight="normal" fill="#1c2b52" >5</text>
<text x="326.42" y="284.90" font-size="6.3" text-anchor="middle" font-weight="normal" fill="#1c2b52" >6</text>
<text x="333.04" y="284.90" font-size="6.3" text-anchor="middle" font-weight="normal" fill="#1c2b52" >7</text>
<text x="339.67" y="284.90" font-size="6.3" text-anchor="middle" font-weight="normal" fill="#1c2b52" >8</text>
<text x="346.29" y="284.90" font-size="6.3" text-anchor="middle" font-weight="normal" fill="#1c2b52" >9</text>
<path fill="#fcb094" d="M382.2 161.3h6.67v5.90h-6.67zM388.8 161.3h6.67v5.90h-6.67zM382.2 184.7h6.67v5.90h-6.67zM388.8 184.7h6.67v5.90h-6.67zM428.6 184.7h6.67v5.90h-6.67zM382.2 196.4h6.67v5.90h-6.67zM435.2 196.4h6.67v5.90h-6.67zM388.8 208.1h6.67v5.90h-6.67zM382.2 214.0h6.67v5.90h-6.67zM382.2 219.8h6.67v5.90h-6.67zM428.6 231.5h6.67v5.90h-6.67zM382.2 249.1h6.67v5.90h-6.67zM388.8 249.1h6.67v5.90h-6.67zM435.2 254.9h6.67v5.90h-6.67zM382.2 266.6h6.67v5.90h-6.67zM421.9 272.4h6.67v5.90h-6.67z"/>
<path fill="#97cdef" d="M395.4 161.3h6.67v5.90h-6.67zM415.3 161.3h6.67v5.90h-6.67zM428.6 161.3h6.67v5.90h-6.67zM388.8 167.2h6.67v5.90h-6.67zM415.3 167.2h6.67v5.90h-6.67zM428.6 167.2h6.67v5.90h-6.67zM435.2 167.2h6.67v5.90h-6.67zM415.3 173.0h6.67v5.90h-6.67zM388.8 178.9h6.67v5.90h-6.67zM402.1 178.9h6.67v5.90h-6.67zM421.9 178.9h6.67v5.90h-6.67zM428.6 178.9h6.67v5.90h-6.67zM402.1 184.7h6.67v5.90h-6.67zM388.8 190.6h6.67v5.90h-6.67zM415.3 190.6h6.67v5.90h-6.67zM428.6 190.6h6.67v5.90h-6.67zM402.1 196.4h6.67v5.90h-6.67zM428.6 202.2h6.67v5.90h-6.67zM415.3 208.1h6.67v5.90h-6.67zM421.9 208.1h6.67v5.90h-6.67zM421.9 214.0h6.67v5.90h-6.67zM395.4 219.8h6.67v5.90h-6.67zM415.3 219.8h6.67v5.90h-6.67zM421.9 219.8h6.67v5.90h-6.67zM428.6 225.7h6.67v5.90h-6.67zM402.1 231.5h6.67v5.90h-6.67zM415.3 231.5h6.67v5.90h-6.67zM402.1 237.4h6.67v5.90h-6.67zM415.3 237.4h6.67v5.90h-6.67zM395.4 243.2h6.67v5.90h-6.67zM428.6 243.2h6.67v5.90h-6.67zM388.8 254.9h6.67v5.90h-6.67zM395.4 254.9h6.67v5.90h-6.67zM421.9 254.9h6.67v5.90h-6.67zM388.8 260.8h6.67v5.90h-6.67zM421.9 260.8h6.67v5.90h-6.67zM435.2 260.8h6.67v5.90h-6.67zM395.4 266.6h6.67v5.90h-6.67zM402.1 266.6h6.67v5.90h-6.67zM402.1 272.4h6.67v5.90h-6.67zM435.2 272.4h6.67v5.90h-6.67z"/>
<path fill="#fde0d3" d="M402.1 161.3h6.67v5.90h-6.67zM382.2 173.0h6.67v5.90h-6.67zM435.2 173.0h6.67v5.90h-6.67zM435.2 190.6h6.67v5.90h-6.67zM388.8 196.4h6.67v5.90h-6.67zM382.2 202.2h6.67v5.90h-6.67zM388.8 202.2h6.67v5.90h-6.67zM402.1 202.2h6.67v5.90h-6.67zM382.2 208.1h6.67v5.90h-6.67zM428.6 208.1h6.67v5.90h-6.67zM435.2 208.1h6.67v5.90h-6.67zM415.3 214.0h6.67v5.90h-6.67zM435.2 214.0h6.67v5.90h-6.67zM435.2 231.5h6.67v5.90h-6.67zM435.2 237.4h6.67v5.90h-6.67zM382.2 243.2h6.67v5.90h-6.67zM395.4 249.1h6.67v5.90h-6.67zM402.1 249.1h6.67v5.90h-6.67zM382.2 254.9h6.67v5.90h-6.67zM415.3 266.6h6.67v5.90h-6.67zM435.2 266.6h6.67v5.90h-6.67z"/>
<path fill="#5ab0e6" d="M408.7 161.3h6.67v5.90h-6.67zM421.9 161.3h6.67v5.90h-6.67zM395.4 167.2h6.67v5.90h-6.67zM402.1 167.2h6.67v5.90h-6.67zM421.9 167.2h6.67v5.90h-6.67zM395.4 173.0h6.67v5.90h-6.67zM408.7 173.0h6.67v5.90h-6.67zM421.9 173.0h6.67v5.90h-6.67zM395.4 178.9h6.67v5.90h-6.67zM408.7 178.9h6.67v5.90h-6.67zM415.3 178.9h6.67v5.90h-6.67zM408.7 184.7h6.67v5.90h-6.67zM395.4 190.6h6.67v5.90h-6.67zM402.1 190.6h6.67v5.90h-6.67zM408.7 190.6h6.67v5.90h-6.67zM421.9 190.6h6.67v5.90h-6.67zM408.7 196.4h6.67v5.90h-6.67zM415.3 196.4h6.67v5.90h-6.67zM408.7 202.2h6.67v5.90h-6.67zM421.9 202.2h6.67v5.90h-6.67zM395.4 208.1h6.67v5.90h-6.67zM408.7 208.1h6.67v5.90h-6.67zM408.7 214.0h6.67v5.90h-6.67zM402.1 219.8h6.67v5.90h-6.67zM408.7 219.8h6.67v5.90h-6.67zM395.4 225.7h6.67v5.90h-6.67zM402.1 225.7h6.67v5.90h-6.67zM408.7 225.7h6.67v5.90h-6.67zM415.3 225.7h6.67v5.90h-6.67zM421.9 225.7h6.67v5.90h-6.67zM408.7 231.5h6.67v5.90h-6.67zM395.4 237.4h6.67v5.90h-6.67zM408.7 237.4h6.67v5.90h-6.67zM408.7 243.2h6.67v5.90h-6.67zM415.3 243.2h6.67v5.90h-6.67zM421.9 243.2h6.67v5.90h-6.67zM408.7 249.1h6.67v5.90h-6.67zM415.3 249.1h6.67v5.90h-6.67zM421.9 249.1h6.67v5.90h-6.67zM408.7 254.9h6.67v5.90h-6.67zM395.4 260.8h6.67v5.90h-6.67zM408.7 260.8h6.67v5.90h-6.67zM415.3 260.8h6.67v5.90h-6.67zM408.7 266.6h6.67v5.90h-6.67zM395.4 272.4h6.67v5.90h-6.67zM408.7 272.4h6.67v5.90h-6.67zM415.3 272.4h6.67v5.90h-6.67z"/>
<path fill="#fbf9f8" d="M435.2 161.3h6.67v5.90h-6.67zM402.1 173.0h6.67v5.90h-6.67zM428.6 173.0h6.67v5.90h-6.67zM382.2 178.9h6.67v5.90h-6.67zM421.9 184.7h6.67v5.90h-6.67zM435.2 184.7h6.67v5.90h-6.67zM382.2 190.6h6.67v5.90h-6.67zM428.6 196.4h6.67v5.90h-6.67zM395.4 202.2h6.67v5.90h-6.67zM415.3 202.2h6.67v5.90h-6.67zM402.1 214.0h6.67v5.90h-6.67zM388.8 225.7h6.67v5.90h-6.67zM435.2 225.7h6.67v5.90h-6.67zM428.6 237.4h6.67v5.90h-6.67zM388.8 243.2h6.67v5.90h-6.67zM435.2 243.2h6.67v5.90h-6.67zM428.6 249.1h6.67v5.90h-6.67zM402.1 254.9h6.67v5.90h-6.67zM428.6 260.8h6.67v5.90h-6.67zM388.8 272.4h6.67v5.90h-6.67zM428.6 272.4h6.67v5.90h-6.67z"/>
<path fill="#d62a27" d="M382.2 167.2h6.67v5.90h-6.67zM388.8 219.8h6.67v5.90h-6.67zM428.6 219.8h6.67v5.90h-6.67zM435.2 219.8h6.67v5.90h-6.67zM382.2 225.7h6.67v5.90h-6.67zM382.2 237.4h6.67v5.90h-6.67zM421.9 237.4h6.67v5.90h-6.67zM428.6 254.9h6.67v5.90h-6.67zM382.2 272.4h6.67v5.90h-6.67z"/>
<path fill="#f66a47" d="M408.7 167.2h6.67v5.90h-6.67zM395.4 196.4h6.67v5.90h-6.67zM388.8 214.0h6.67v5.90h-6.67zM382.2 231.5h6.67v5.90h-6.67zM388.8 231.5h6.67v5.90h-6.67zM395.4 231.5h6.67v5.90h-6.67zM388.8 237.4h6.67v5.90h-6.67zM402.1 243.2h6.67v5.90h-6.67zM415.3 254.9h6.67v5.90h-6.67zM382.2 260.8h6.67v5.90h-6.67zM388.8 266.6h6.67v5.90h-6.67z"/>
<path fill="#cae4f5" d="M388.8 173.0h6.67v5.90h-6.67zM435.2 178.9h6.67v5.90h-6.67zM395.4 184.7h6.67v5.90h-6.67zM415.3 184.7h6.67v5.90h-6.67zM421.9 196.4h6.67v5.90h-6.67zM435.2 202.2h6.67v5.90h-6.67zM402.1 208.1h6.67v5.90h-6.67zM395.4 214.0h6.67v5.90h-6.67zM421.9 231.5h6.67v5.90h-6.67zM435.2 249.1h6.67v5.90h-6.67zM402.1 260.8h6.67v5.90h-6.67zM421.9 266.6h6.67v5.90h-6.67z"/>
<path fill="#a20314" d="M428.6 214.0h6.67v5.90h-6.67zM428.6 266.6h6.67v5.90h-6.67z"/>
<path d="M382.20 161.30V278.30M388.82 161.30V278.30M395.44 161.30V278.30M402.07 161.30V278.30M408.69 161.30V278.30M415.31 161.30V278.30M421.93 161.30V278.30M428.56 161.30V278.30M435.18 161.30V278.30M441.80 161.30V278.30M382.20 161.30H441.80M382.20 167.15H441.80M382.20 173.00H441.80M382.20 178.85H441.80M382.20 184.70H441.80M382.20 190.55H441.80M382.20 196.40H441.80M382.20 202.25H441.80M382.20 208.10H441.80M382.20 213.95H441.80M382.20 219.80H441.80M382.20 225.65H441.80M382.20 231.50H441.80M382.20 237.35H441.80M382.20 243.20H441.80M382.20 249.05H441.80M382.20 254.90H441.80M382.20 260.75H441.80M382.20 266.60H441.80M382.20 272.45H441.80M382.20 278.30H441.80" stroke="#8e8e8e" stroke-width="0.85" fill="none"/>
<text transform="translate(412.00,158.90) scale(0.84,1)" font-size="11" text-anchor="middle" fill="#111">SVAR.7</text>
<text transform="translate(380.80,166.70) scale(0.9,1)" font-size="7" text-anchor="end" fill="#171c3a">A</text>
<text transform="translate(380.80,172.55) scale(0.9,1)" font-size="7" text-anchor="end" fill="#171c3a">R</text>
<text transform="translate(380.80,178.40) scale(0.9,1)" font-size="7" text-anchor="end" fill="#171c3a">N</text>
<text transform="translate(380.80,184.25) scale(0.9,1)" font-size="7" text-anchor="end" fill="#171c3a">D</text>
<text transform="translate(380.80,190.10) scale(0.9,1)" font-size="7" text-anchor="end" fill="#171c3a">C</text>
<text transform="translate(380.80,195.95) scale(0.9,1)" font-size="7" text-anchor="end" fill="#171c3a">E</text>
<text transform="translate(380.80,201.80) scale(0.9,1)" font-size="7" text-anchor="end" fill="#171c3a">Q</text>
<text transform="translate(380.80,207.65) scale(0.9,1)" font-size="7" text-anchor="end" fill="#171c3a">G</text>
<text transform="translate(380.80,213.50) scale(0.9,1)" font-size="7" text-anchor="end" fill="#171c3a">H</text>
<text transform="translate(380.80,219.35) scale(0.9,1)" font-size="7" text-anchor="end" fill="#171c3a">I</text>
<text transform="translate(380.80,225.20) scale(0.9,1)" font-size="7" text-anchor="end" fill="#171c3a">L</text>
<text transform="translate(380.80,231.05) scale(0.9,1)" font-size="7" text-anchor="end" fill="#171c3a">K</text>
<text transform="translate(380.80,236.90) scale(0.9,1)" font-size="7" text-anchor="end" fill="#171c3a">M</text>
<text transform="translate(380.80,242.75) scale(0.9,1)" font-size="7" text-anchor="end" fill="#171c3a">F</text>
<text transform="translate(380.80,248.60) scale(0.9,1)" font-size="7" text-anchor="end" fill="#171c3a">P</text>
<text transform="translate(380.80,254.45) scale(0.9,1)" font-size="7" text-anchor="end" fill="#171c3a">S</text>
<text transform="translate(380.80,260.30) scale(0.9,1)" font-size="7" text-anchor="end" fill="#171c3a">T</text>
<text transform="translate(380.80,266.15) scale(0.9,1)" font-size="7" text-anchor="end" fill="#171c3a">W</text>
<text transform="translate(380.80,272.00) scale(0.9,1)" font-size="7" text-anchor="end" fill="#171c3a">V</text>
<text transform="translate(380.80,277.85) scale(0.9,1)" font-size="7" text-anchor="end" fill="#171c3a">Y</text>
<text x="385.51" y="284.90" font-size="6.3" text-anchor="middle" font-weight="normal" fill="#1c2b52" >1</text>
<text x="392.13" y="284.90" font-size="6.3" text-anchor="middle" font-weight="normal" fill="#1c2b52" >2</text>
<text x="398.76" y="284.90" font-size="6.3" text-anchor="middle" font-weight="normal" fill="#1c2b52" >3</text>
<text x="405.38" y="284.90" font-size="6.3" text-anchor="middle" font-weight="normal" fill="#1c2b52" >4</text>
<text x="412.00" y="284.90" font-size="6.3" text-anchor="middle" font-weight="normal" fill="#1c2b52" >5</text>
<text x="418.62" y="284.90" font-size="6.3" text-anchor="middle" font-weight="normal" fill="#1c2b52" >6</text>
<text x="425.24" y="284.90" font-size="6.3" text-anchor="middle" font-weight="normal" fill="#1c2b52" >7</text>
<text x="431.87" y="284.90" font-size="6.3" text-anchor="middle" font-weight="normal" fill="#1c2b52" >8</text>
<text x="438.49" y="284.90" font-size="6.3" text-anchor="middle" font-weight="normal" fill="#1c2b52" >9</text>
<path fill="#fde0d3" d="M473.4 161.3h6.67v5.90h-6.67zM519.8 161.3h6.67v5.90h-6.67zM526.4 161.3h6.67v5.90h-6.67zM473.4 167.2h6.67v5.90h-6.67zM519.8 167.2h6.67v5.90h-6.67zM473.4 173.0h6.67v5.90h-6.67zM526.4 173.0h6.67v5.90h-6.67zM473.4 196.4h6.67v5.90h-6.67zM519.8 196.4h6.67v5.90h-6.67zM473.4 202.2h6.67v5.90h-6.67zM486.6 202.2h6.67v5.90h-6.67zM473.4 208.1h6.67v5.90h-6.67zM526.4 208.1h6.67v5.90h-6.67zM526.4 214.0h6.67v5.90h-6.67zM519.8 225.7h6.67v5.90h-6.67zM526.4 231.5h6.67v5.90h-6.67zM480.0 237.4h6.67v5.90h-6.67zM519.8 237.4h6.67v5.90h-6.67zM473.4 243.2h6.67v5.90h-6.67zM473.4 249.1h6.67v5.90h-6.67zM480.0 249.1h6.67v5.90h-6.67zM486.6 249.1h6.67v5.90h-6.67zM473.4 254.9h6.67v5.90h-6.67zM480.0 254.9h6.67v5.90h-6.67zM473.4 266.6h6.67v5.90h-6.67zM519.8 272.4h6.67v5.90h-6.67z"/>
<path fill="#fcb094" d="M480.0 161.3h6.67v5.90h-6.67zM519.8 173.0h6.67v5.90h-6.67zM480.0 184.7h6.67v5.90h-6.67zM519.8 184.7h6.67v5.90h-6.67zM526.4 190.6h6.67v5.90h-6.67zM526.4 196.4h6.67v5.90h-6.67zM493.3 202.2h6.67v5.90h-6.67zM506.5 202.2h6.67v5.90h-6.67zM519.8 208.1h6.67v5.90h-6.67zM473.4 214.0h6.67v5.90h-6.67zM480.0 214.0h6.67v5.90h-6.67zM473.4 231.5h6.67v5.90h-6.67zM480.0 231.5h6.67v5.90h-6.67zM486.6 231.5h6.67v5.90h-6.67zM519.8 231.5h6.67v5.90h-6.67zM519.8 249.1h6.67v5.90h-6.67zM526.4 254.9h6.67v5.90h-6.67zM473.4 260.8h6.67v5.90h-6.67zM519.8 260.8h6.67v5.90h-6.67zM480.0 266.6h6.67v5.90h-6.67zM526.4 266.6h6.67v5.90h-6.67zM473.4 272.4h6.67v5.90h-6.67zM513.1 272.4h6.67v5.90h-6.67z"/>
<path fill="#97cdef" d="M486.6 161.3h6.67v5.90h-6.67zM493.3 161.3h6.67v5.90h-6.67zM506.5 167.2h6.67v5.90h-6.67zM526.4 167.2h6.67v5.90h-6.67zM480.0 173.0h6.67v5.90h-6.67zM493.3 178.9h6.67v5.90h-6.67zM526.4 178.9h6.67v5.90h-6.67zM480.0 190.6h6.67v5.90h-6.67zM506.5 196.4h6.67v5.90h-6.67zM506.5 208.1h6.67v5.90h-6.67zM513.1 208.1h6.67v5.90h-6.67zM506.5 214.0h6.67v5.90h-6.67zM506.5 219.8h6.67v5.90h-6.67zM513.1 219.8h6.67v5.90h-6.67zM499.9 225.7h6.67v5.90h-6.67zM506.5 225.7h6.67v5.90h-6.67zM506.5 231.5h6.67v5.90h-6.67zM506.5 237.4h6.67v5.90h-6.67zM486.6 254.9h6.67v5.90h-6.67zM513.1 254.9h6.67v5.90h-6.67zM493.3 260.8h6.67v5.90h-6.67zM513.1 260.8h6.67v5.90h-6.67zM526.4 260.8h6.67v5.90h-6.67zM506.5 266.6h6.67v5.90h-6.67zM513.1 266.6h6.67v5.90h-6.67zM480.0 272.4h6.67v5.90h-6.67zM526.4 272.4h6.67v5.90h-6.67z"/>
<path fill="#5ab0e6" d="M499.9 161.3h6.67v5.90h-6.67zM513.1 161.3h6.67v5.90h-6.67zM480.0 167.2h6.67v5.90h-6.67zM486.6 167.2h6.67v5.90h-6.67zM493.3 167.2h6.67v5.90h-6.67zM513.1 167.2h6.67v5.90h-6.67zM486.6 173.0h6.67v5.90h-6.67zM493.3 173.0h6.67v5.90h-6.67zM499.9 173.0h6.67v5.90h-6.67zM513.1 173.0h6.67v5.90h-6.67zM480.0 178.9h6.67v5.90h-6.67zM486.6 178.9h6.67v5.90h-6.67zM499.9 178.9h6.67v5.90h-6.67zM506.5 178.9h6.67v5.90h-6.67zM513.1 178.9h6.67v5.90h-6.67zM519.8 178.9h6.67v5.90h-6.67zM493.3 184.7h6.67v5.90h-6.67zM499.9 184.7h6.67v5.90h-6.67zM486.6 190.6h6.67v5.90h-6.67zM493.3 190.6h6.67v5.90h-6.67zM499.9 190.6h6.67v5.90h-6.67zM506.5 190.6h6.67v5.90h-6.67zM513.1 190.6h6.67v5.90h-6.67zM493.3 196.4h6.67v5.90h-6.67zM499.9 196.4h6.67v5.90h-6.67zM513.1 196.4h6.67v5.90h-6.67zM513.1 202.2h6.67v5.90h-6.67zM486.6 208.1h6.67v5.90h-6.67zM493.3 208.1h6.67v5.90h-6.67zM499.9 208.1h6.67v5.90h-6.67zM493.3 214.0h6.67v5.90h-6.67zM493.3 219.8h6.67v5.90h-6.67zM499.9 219.8h6.67v5.90h-6.67zM486.6 225.7h6.67v5.90h-6.67zM493.3 225.7h6.67v5.90h-6.67zM513.1 225.7h6.67v5.90h-6.67zM493.3 231.5h6.67v5.90h-6.67zM499.9 231.5h6.67v5.90h-6.67zM486.6 237.4h6.67v5.90h-6.67zM493.3 237.4h6.67v5.90h-6.67zM499.9 237.4h6.67v5.90h-6.67zM486.6 243.2h6.67v5.90h-6.67zM499.9 243.2h6.67v5.90h-6.67zM506.5 243.2h6.67v5.90h-6.67zM513.1 243.2h6.67v5.90h-6.67zM519.8 243.2h6.67v5.90h-6.67zM493.3 249.1h6.67v5.90h-6.67zM499.9 249.1h6.67v5.90h-6.67zM513.1 249.1h6.67v5.90h-6.67zM493.3 254.9h6.67v5.90h-6.67zM499.9 254.9h6.67v5.90h-6.67zM480.0 260.8h6.67v5.90h-6.67zM486.6 260.8h6.67v5.90h-6.67zM499.9 260.8h6.67v5.90h-6.67zM506.5 260.8h6.67v5.90h-6.67zM493.3 266.6h6.67v5.90h-6.67zM499.9 266.6h6.67v5.90h-6.67zM486.6 272.4h6.67v5.90h-6.67zM493.3 272.4h6.67v5.90h-6.67zM499.9 272.4h6.67v5.90h-6.67zM506.5 272.4h6.67v5.90h-6.67z"/>
<path fill="#fbf9f8" d="M506.5 161.3h6.67v5.90h-6.67zM506.5 173.0h6.67v5.90h-6.67zM486.6 184.7h6.67v5.90h-6.67zM506.5 184.7h6.67v5.90h-6.67zM526.4 184.7h6.67v5.90h-6.67zM473.4 190.6h6.67v5.90h-6.67zM519.8 190.6h6.67v5.90h-6.67zM480.0 196.4h6.67v5.90h-6.67zM519.8 202.2h6.67v5.90h-6.67zM480.0 208.1h6.67v5.90h-6.67zM486.6 214.0h6.67v5.90h-6.67zM473.4 225.7h6.67v5.90h-6.67zM526.4 225.7h6.67v5.90h-6.67zM513.1 231.5h6.67v5.90h-6.67zM526.4 237.4h6.67v5.90h-6.67zM506.5 249.1h6.67v5.90h-6.67zM526.4 249.1h6.67v5.90h-6.67z"/>
<path fill="#f66a47" d="M499.9 167.2h6.67v5.90h-6.67zM473.4 184.7h6.67v5.90h-6.67zM486.6 196.4h6.67v5.90h-6.67zM473.4 219.8h6.67v5.90h-6.67zM480.0 219.8h6.67v5.90h-6.67zM519.8 219.8h6.67v5.90h-6.67zM526.4 219.8h6.67v5.90h-6.67zM473.4 237.4h6.67v5.90h-6.67zM513.1 237.4h6.67v5.90h-6.67zM493.3 243.2h6.67v5.90h-6.67zM506.5 254.9h6.67v5.90h-6.67zM519.8 254.9h6.67v5.90h-6.67z"/>
<path fill="#cae4f5" d="M473.4 178.9h6.67v5.90h-6.67zM513.1 184.7h6.67v5.90h-6.67zM480.0 202.2h6.67v5.90h-6.67zM526.4 202.2h6.67v5.90h-6.67zM513.1 214.0h6.67v5.90h-6.67zM486.6 219.8h6.67v5.90h-6.67zM480.0 225.7h6.67v5.90h-6.67zM480.0 243.2h6.67v5.90h-6.67zM526.4 243.2h6.67v5.90h-6.67zM486.6 266.6h6.67v5.90h-6.67z"/>
<path fill="#2a88cd" d="M499.9 202.2h6.67v5.90h-6.67zM499.9 214.0h6.67v5.90h-6.67z"/>
<path fill="#a20314" d="M519.8 214.0h6.67v5.90h-6.67z"/>
<path fill="#d62a27" d="M519.8 266.6h6.67v5.90h-6.67z"/>
<path d="M473.40 161.30V278.30M480.02 161.30V278.30M486.64 161.30V278.30M493.27 161.30V278.30M499.89 161.30V278.30M506.51 161.30V278.30M513.13 161.30V278.30M519.76 161.30V278.30M526.38 161.30V278.30M533.00 161.30V278.30M473.40 161.30H533.00M473.40 167.15H533.00M473.40 173.00H533.00M473.40 178.85H533.00M473.40 184.70H533.00M473.40 190.55H533.00M473.40 196.40H533.00M473.40 202.25H533.00M473.40 208.10H533.00M473.40 213.95H533.00M473.40 219.80H533.00M473.40 225.65H533.00M473.40 231.50H533.00M473.40 237.35H533.00M473.40 243.20H533.00M473.40 249.05H533.00M473.40 254.90H533.00M473.40 260.75H533.00M473.40 266.60H533.00M473.40 272.45H533.00M473.40 278.30H533.00" stroke="#8e8e8e" stroke-width="0.85" fill="none"/>
<text transform="translate(503.20,158.90) scale(0.84,1)" font-size="11" text-anchor="middle" fill="#111">SVAR.13</text>
<text transform="translate(472.00,166.70) scale(0.9,1)" font-size="7" text-anchor="end" fill="#171c3a">A</text>
<text transform="translate(472.00,172.55) scale(0.9,1)" font-size="7" text-anchor="end" fill="#171c3a">R</text>
<text transform="translate(472.00,178.40) scale(0.9,1)" font-size="7" text-anchor="end" fill="#171c3a">N</text>
<text transform="translate(472.00,184.25) scale(0.9,1)" font-size="7" text-anchor="end" fill="#171c3a">D</text>
<text transform="translate(472.00,190.10) scale(0.9,1)" font-size="7" text-anchor="end" fill="#171c3a">C</text>
<text transform="translate(472.00,195.95) scale(0.9,1)" font-size="7" text-anchor="end" fill="#171c3a">E</text>
<text transform="translate(472.00,201.80) scale(0.9,1)" font-size="7" text-anchor="end" fill="#171c3a">Q</text>
<text transform="translate(472.00,207.65) scale(0.9,1)" font-size="7" text-anchor="end" fill="#171c3a">G</text>
<text transform="translate(472.00,213.50) scale(0.9,1)" font-size="7" text-anchor="end" fill="#171c3a">H</text>
<text transform="translate(472.00,219.35) scale(0.9,1)" font-size="7" text-anchor="end" fill="#171c3a">I</text>
<text transform="translate(472.00,225.20) scale(0.9,1)" font-size="7" text-anchor="end" fill="#171c3a">L</text>
<text transform="translate(472.00,231.05) scale(0.9,1)" font-size="7" text-anchor="end" fill="#171c3a">K</text>
<text transform="translate(472.00,236.90) scale(0.9,1)" font-size="7" text-anchor="end" fill="#171c3a">M</text>
<text transform="translate(472.00,242.75) scale(0.9,1)" font-size="7" text-anchor="end" fill="#171c3a">F</text>
<text transform="translate(472.00,248.60) scale(0.9,1)" font-size="7" text-anchor="end" fill="#171c3a">P</text>
<text transform="translate(472.00,254.45) scale(0.9,1)" font-size="7" text-anchor="end" fill="#171c3a">S</text>
<text transform="translate(472.00,260.30) scale(0.9,1)" font-size="7" text-anchor="end" fill="#171c3a">T</text>
<text transform="translate(472.00,266.15) scale(0.9,1)" font-size="7" text-anchor="end" fill="#171c3a">W</text>
<text transform="translate(472.00,272.00) scale(0.9,1)" font-size="7" text-anchor="end" fill="#171c3a">V</text>
<text transform="translate(472.00,277.85) scale(0.9,1)" font-size="7" text-anchor="end" fill="#171c3a">Y</text>
<text x="476.71" y="284.90" font-size="6.3" text-anchor="middle" font-weight="normal" fill="#1c2b52" >1</text>
<text x="483.33" y="284.90" font-size="6.3" text-anchor="middle" font-weight="normal" fill="#1c2b52" >2</text>
<text x="489.96" y="284.90" font-size="6.3" text-anchor="middle" font-weight="normal" fill="#1c2b52" >3</text>
<text x="496.58" y="284.90" font-size="6.3" text-anchor="middle" font-weight="normal" fill="#1c2b52" >4</text>
<text x="503.20" y="284.90" font-size="6.3" text-anchor="middle" font-weight="normal" fill="#1c2b52" >5</text>
<text x="509.82" y="284.90" font-size="6.3" text-anchor="middle" font-weight="normal" fill="#1c2b52" >6</text>
<text x="516.44" y="284.90" font-size="6.3" text-anchor="middle" font-weight="normal" fill="#1c2b52" >7</text>
<text x="523.07" y="284.90" font-size="6.3" text-anchor="middle" font-weight="normal" fill="#1c2b52" >8</text>
<text x="529.69" y="284.90" font-size="6.3" text-anchor="middle" font-weight="normal" fill="#1c2b52" >9</text>
<path fill="#a20314" d="M565.5 161.3h6.67v5.90h-6.67zM565.5 167.2h6.67v5.90h-6.67zM592.0 167.2h6.67v5.90h-6.67zM565.5 173.0h6.67v5.90h-6.67zM578.7 196.4h6.67v5.90h-6.67zM585.4 202.2h6.67v5.90h-6.67zM565.5 208.1h6.67v5.90h-6.67zM565.5 219.8h6.67v5.90h-6.67zM572.1 219.8h6.67v5.90h-6.67zM611.9 219.8h6.67v5.90h-6.67zM618.5 219.8h6.67v5.90h-6.67zM565.5 231.5h6.67v5.90h-6.67zM565.5 237.4h6.67v5.90h-6.67zM605.2 237.4h6.67v5.90h-6.67zM585.4 243.2h6.67v5.90h-6.67zM565.5 249.1h6.67v5.90h-6.67zM605.2 249.1h6.67v5.90h-6.67zM598.6 254.9h6.67v5.90h-6.67zM565.5 260.8h6.67v5.90h-6.67zM565.5 272.4h6.67v5.90h-6.67zM605.2 272.4h6.67v5.90h-6.67z"/>
<path fill="#f66a47" d="M572.1 161.3h6.67v5.90h-6.67zM618.5 161.3h6.67v5.90h-6.67zM578.7 173.0h6.67v5.90h-6.67zM605.2 173.0h6.67v5.90h-6.67zM611.9 173.0h6.67v5.90h-6.67zM618.5 173.0h6.67v5.90h-6.67zM572.1 184.7h6.67v5.90h-6.67zM605.2 184.7h6.67v5.90h-6.67zM618.5 184.7h6.67v5.90h-6.67zM618.5 190.6h6.67v5.90h-6.67zM611.9 196.4h6.67v5.90h-6.67zM618.5 202.2h6.67v5.90h-6.67zM572.1 208.1h6.67v5.90h-6.67zM618.5 208.1h6.67v5.90h-6.67zM565.5 243.2h6.67v5.90h-6.67zM611.9 243.2h6.67v5.90h-6.67zM572.1 249.1h6.67v5.90h-6.67zM618.5 249.1h6.67v5.90h-6.67zM572.1 254.9h6.67v5.90h-6.67zM618.5 266.6h6.67v5.90h-6.67z"/>
<path fill="#fbf9f8" d="M578.7 161.3h6.67v5.90h-6.67zM618.5 167.2h6.67v5.90h-6.67zM572.1 173.0h6.67v5.90h-6.67zM585.4 184.7h6.67v5.90h-6.67zM598.6 184.7h6.67v5.90h-6.67zM605.2 208.1h6.67v5.90h-6.67zM611.9 208.1h6.67v5.90h-6.67zM578.7 214.0h6.67v5.90h-6.67zM605.2 214.0h6.67v5.90h-6.67zM578.7 219.8h6.67v5.90h-6.67zM618.5 260.8h6.67v5.90h-6.67zM578.7 266.6h6.67v5.90h-6.67zM572.1 272.4h6.67v5.90h-6.67z"/>
<path fill="#d62a27" d="M585.4 161.3h6.67v5.90h-6.67zM565.5 178.9h6.67v5.90h-6.67zM565.5 184.7h6.67v5.90h-6.67zM611.9 184.7h6.67v5.90h-6.67zM565.5 190.6h6.67v5.90h-6.67zM565.5 196.4h6.67v5.90h-6.67zM585.4 196.4h6.67v5.90h-6.67zM618.5 196.4h6.67v5.90h-6.67zM565.5 202.2h6.67v5.90h-6.67zM585.4 208.1h6.67v5.90h-6.67zM565.5 214.0h6.67v5.90h-6.67zM572.1 214.0h6.67v5.90h-6.67zM611.9 214.0h6.67v5.90h-6.67zM618.5 214.0h6.67v5.90h-6.67zM565.5 225.7h6.67v5.90h-6.67zM572.1 231.5h6.67v5.90h-6.67zM578.7 231.5h6.67v5.90h-6.67zM605.2 231.5h6.67v5.90h-6.67zM611.9 231.5h6.67v5.90h-6.67zM618.5 231.5h6.67v5.90h-6.67zM572.1 237.4h6.67v5.90h-6.67zM565.5 254.9h6.67v5.90h-6.67zM605.2 254.9h6.67v5.90h-6.67zM611.9 254.9h6.67v5.90h-6.67zM618.5 254.9h6.67v5.90h-6.67zM565.5 266.6h6.67v5.90h-6.67zM572.1 266.6h6.67v5.90h-6.67z"/>
<path fill="#97cdef" d="M592.0 161.3h6.67v5.90h-6.67zM598.6 161.3h6.67v5.90h-6.67zM578.7 167.2h6.67v5.90h-6.67zM605.2 167.2h6.67v5.90h-6.67zM611.9 167.2h6.67v5.90h-6.67zM592.0 173.0h6.67v5.90h-6.67zM578.7 178.9h6.67v5.90h-6.67zM585.4 178.9h6.67v5.90h-6.67zM592.0 178.9h6.67v5.90h-6.67zM598.6 178.9h6.67v5.90h-6.67zM605.2 178.9h6.67v5.90h-6.67zM611.9 178.9h6.67v5.90h-6.67zM578.7 190.6h6.67v5.90h-6.67zM592.0 190.6h6.67v5.90h-6.67zM598.6 190.6h6.67v5.90h-6.67zM605.2 190.6h6.67v5.90h-6.67zM592.0 196.4h6.67v5.90h-6.67zM598.6 196.4h6.67v5.90h-6.67zM592.0 202.2h6.67v5.90h-6.67zM598.6 202.2h6.67v5.90h-6.67zM578.7 208.1h6.67v5.90h-6.67zM592.0 208.1h6.67v5.90h-6.67zM598.6 208.1h6.67v5.90h-6.67zM592.0 214.0h6.67v5.90h-6.67zM598.6 214.0h6.67v5.90h-6.67zM585.4 219.8h6.67v5.90h-6.67zM605.2 219.8h6.67v5.90h-6.67zM578.7 225.7h6.67v5.90h-6.67zM605.2 225.7h6.67v5.90h-6.67zM611.9 225.7h6.67v5.90h-6.67zM592.0 231.5h6.67v5.90h-6.67zM598.6 231.5h6.67v5.90h-6.67zM578.7 237.4h6.67v5.90h-6.67zM585.4 237.4h6.67v5.90h-6.67zM598.6 237.4h6.67v5.90h-6.67zM592.0 243.2h6.67v5.90h-6.67zM598.6 243.2h6.67v5.90h-6.67zM592.0 249.1h6.67v5.90h-6.67zM592.0 254.9h6.67v5.90h-6.67zM572.1 260.8h6.67v5.90h-6.67zM578.7 260.8h6.67v5.90h-6.67zM585.4 260.8h6.67v5.90h-6.67zM592.0 260.8h6.67v5.90h-6.67zM611.9 260.8h6.67v5.90h-6.67zM592.0 266.6h6.67v5.90h-6.67zM598.6 266.6h6.67v5.90h-6.67zM578.7 272.4h6.67v5.90h-6.67zM585.4 272.4h6.67v5.90h-6.67zM592.0 272.4h6.67v5.90h-6.67zM598.6 272.4h6.67v5.90h-6.67zM611.9 272.4h6.67v5.90h-6.67z"/>
<path fill="#cae4f5" d="M605.2 161.3h6.67v5.90h-6.67zM572.1 167.2h6.67v5.90h-6.67zM598.6 167.2h6.67v5.90h-6.67zM572.1 178.9h6.67v5.90h-6.67zM572.1 190.6h6.67v5.90h-6.67zM585.4 190.6h6.67v5.90h-6.67zM605.2 202.2h6.67v5.90h-6.67zM585.4 214.0h6.67v5.90h-6.67zM592.0 219.8h6.67v5.90h-6.67zM598.6 219.8h6.67v5.90h-6.67zM585.4 225.7h6.67v5.90h-6.67zM592.0 225.7h6.67v5.90h-6.67zM598.6 225.7h6.67v5.90h-6.67zM592.0 237.4h6.67v5.90h-6.67zM578.7 243.2h6.67v5.90h-6.67zM605.2 243.2h6.67v5.90h-6.67zM598.6 249.1h6.67v5.90h-6.67zM578.7 254.9h6.67v5.90h-6.67zM585.4 254.9h6.67v5.90h-6.67zM598.6 260.8h6.67v5.90h-6.67zM585.4 266.6h6.67v5.90h-6.67zM618.5 272.4h6.67v5.90h-6.67z"/>
<path fill="#fde0d3" d="M611.9 161.3h6.67v5.90h-6.67zM585.4 167.2h6.67v5.90h-6.67zM585.4 173.0h6.67v5.90h-6.67zM598.6 173.0h6.67v5.90h-6.67zM618.5 178.9h6.67v5.90h-6.67zM611.9 190.6h6.67v5.90h-6.67zM605.2 196.4h6.67v5.90h-6.67zM572.1 202.2h6.67v5.90h-6.67zM578.7 202.2h6.67v5.90h-6.67zM611.9 202.2h6.67v5.90h-6.67zM618.5 243.2h6.67v5.90h-6.67zM611.9 249.1h6.67v5.90h-6.67zM605.2 266.6h6.67v5.90h-6.67z"/>
<path fill="#fcb094" d="M578.7 184.7h6.67v5.90h-6.67zM572.1 196.4h6.67v5.90h-6.67zM572.1 225.7h6.67v5.90h-6.67zM618.5 225.7h6.67v5.90h-6.67zM585.4 231.5h6.67v5.90h-6.67zM611.9 237.4h6.67v5.90h-6.67zM618.5 237.4h6.67v5.90h-6.67zM572.1 243.2h6.67v5.90h-6.67zM578.7 249.1h6.67v5.90h-6.67zM585.4 249.1h6.67v5.90h-6.67zM605.2 260.8h6.67v5.90h-6.67zM611.9 266.6h6.67v5.90h-6.67z"/>
<path fill="#5ab0e6" d="M592.0 184.7h6.67v5.90h-6.67z"/>
<path d="M565.50 161.30V278.30M572.12 161.30V278.30M578.74 161.30V278.30M585.37 161.30V278.30M591.99 161.30V278.30M598.61 161.30V278.30M605.23 161.30V278.30M611.86 161.30V278.30M618.48 161.30V278.30M625.10 161.30V278.30M565.50 161.30H625.10M565.50 167.15H625.10M565.50 173.00H625.10M565.50 178.85H625.10M565.50 184.70H625.10M565.50 190.55H625.10M565.50 196.40H625.10M565.50 202.25H625.10M565.50 208.10H625.10M565.50 213.95H625.10M565.50 219.80H625.10M565.50 225.65H625.10M565.50 231.50H625.10M565.50 237.35H625.10M565.50 243.20H625.10M565.50 249.05H625.10M565.50 254.90H625.10M565.50 260.75H625.10M565.50 266.60H625.10M565.50 272.45H625.10M565.50 278.30H625.10" stroke="#8e8e8e" stroke-width="0.85" fill="none"/>
<text transform="translate(595.30,158.90) scale(0.84,1)" font-size="11" text-anchor="middle" fill="#111">SVAR.14</text>
<text transform="translate(564.10,166.70) scale(0.9,1)" font-size="7" text-anchor="end" fill="#171c3a">A</text>
<text transform="translate(564.10,172.55) scale(0.9,1)" font-size="7" text-anchor="end" fill="#171c3a">R</text>
<text transform="translate(564.10,178.40) scale(0.9,1)" font-size="7" text-anchor="end" fill="#171c3a">N</text>
<text transform="translate(564.10,184.25) scale(0.9,1)" font-size="7" text-anchor="end" fill="#171c3a">D</text>
<text transform="translate(564.10,190.10) scale(0.9,1)" font-size="7" text-anchor="end" fill="#171c3a">C</text>
<text transform="translate(564.10,195.95) scale(0.9,1)" font-size="7" text-anchor="end" fill="#171c3a">E</text>
<text transform="translate(564.10,201.80) scale(0.9,1)" font-size="7" text-anchor="end" fill="#171c3a">Q</text>
<text transform="translate(564.10,207.65) scale(0.9,1)" font-size="7" text-anchor="end" fill="#171c3a">G</text>
<text transform="translate(564.10,213.50) scale(0.9,1)" font-size="7" text-anchor="end" fill="#171c3a">H</text>
<text transform="translate(564.10,219.35) scale(0.9,1)" font-size="7" text-anchor="end" fill="#171c3a">I</text>
<text transform="translate(564.10,225.20) scale(0.9,1)" font-size="7" text-anchor="end" fill="#171c3a">L</text>
<text transform="translate(564.10,231.05) scale(0.9,1)" font-size="7" text-anchor="end" fill="#171c3a">K</text>
<text transform="translate(564.10,236.90) scale(0.9,1)" font-size="7" text-anchor="end" fill="#171c3a">M</text>
<text transform="translate(564.10,242.75) scale(0.9,1)" font-size="7" text-anchor="end" fill="#171c3a">F</text>
<text transform="translate(564.10,248.60) scale(0.9,1)" font-size="7" text-anchor="end" fill="#171c3a">P</text>
<text transform="translate(564.10,254.45) scale(0.9,1)" font-size="7" text-anchor="end" fill="#171c3a">S</text>
<text transform="translate(564.10,260.30) scale(0.9,1)" font-size="7" text-anchor="end" fill="#171c3a">T</text>
<text transform="translate(564.10,266.15) scale(0.9,1)" font-size="7" text-anchor="end" fill="#171c3a">W</text>
<text transform="translate(564.10,272.00) scale(0.9,1)" font-size="7" text-anchor="end" fill="#171c3a">V</text>
<text transform="translate(564.10,277.85) scale(0.9,1)" font-size="7" text-anchor="end" fill="#171c3a">Y</text>
<text x="568.81" y="284.90" font-size="6.3" text-anchor="middle" font-weight="normal" fill="#1c2b52" >1</text>
<text x="575.43" y="284.90" font-size="6.3" text-anchor="middle" font-weight="normal" fill="#1c2b52" >2</text>
<text x="582.06" y="284.90" font-size="6.3" text-anchor="middle" font-weight="normal" fill="#1c2b52" >3</text>
<text x="588.68" y="284.90" font-size="6.3" text-anchor="middle" font-weight="normal" fill="#1c2b52" >4</text>
<text x="595.30" y="284.90" font-size="6.3" text-anchor="middle" font-weight="normal" fill="#1c2b52" >5</text>
<text x="601.92" y="284.90" font-size="6.3" text-anchor="middle" font-weight="normal" fill="#1c2b52" >6</text>
<text x="608.54" y="284.90" font-size="6.3" text-anchor="middle" font-weight="normal" fill="#1c2b52" >7</text>
<text x="615.17" y="284.90" font-size="6.3" text-anchor="middle" font-weight="normal" fill="#1c2b52" >8</text>
<text x="621.79" y="284.90" font-size="6.3" text-anchor="middle" font-weight="normal" fill="#1c2b52" >9</text>
<path fill="#fde0d3" d="M290.0 304.6h6.67v5.90h-6.67zM309.9 304.6h6.67v5.90h-6.67zM323.1 304.6h6.67v5.90h-6.67zM290.0 310.5h6.67v5.90h-6.67zM296.6 328.0h6.67v5.90h-6.67zM343.0 333.9h6.67v5.90h-6.67zM290.0 339.7h6.67v5.90h-6.67zM290.0 345.6h6.67v5.90h-6.67zM323.1 357.2h6.67v5.90h-6.67zM343.0 374.8h6.67v5.90h-6.67zM290.0 392.4h6.67v5.90h-6.67zM296.6 392.4h6.67v5.90h-6.67zM303.2 392.4h6.67v5.90h-6.67zM290.0 398.2h6.67v5.90h-6.67zM296.6 398.2h6.67v5.90h-6.67zM336.4 404.1h6.67v5.90h-6.67zM290.0 409.9h6.67v5.90h-6.67zM343.0 409.9h6.67v5.90h-6.67z"/>
<path fill="#fbf9f8" d="M296.6 304.6h6.67v5.90h-6.67zM290.0 322.2h6.67v5.90h-6.67zM336.4 328.0h6.67v5.90h-6.67zM343.0 328.0h6.67v5.90h-6.67zM290.0 333.9h6.67v5.90h-6.67zM296.6 339.7h6.67v5.90h-6.67zM296.6 351.4h6.67v5.90h-6.67zM343.0 351.4h6.67v5.90h-6.67zM343.0 357.2h6.67v5.90h-6.67zM323.1 363.1h6.67v5.90h-6.67zM290.0 369.0h6.67v5.90h-6.67zM336.4 398.2h6.67v5.90h-6.67zM336.4 415.8h6.67v5.90h-6.67z"/>
<path fill="#97cdef" d="M303.2 304.6h6.67v5.90h-6.67zM309.9 316.3h6.67v5.90h-6.67zM336.4 316.3h6.67v5.90h-6.67zM309.9 322.2h6.67v5.90h-6.67zM303.2 328.0h6.67v5.90h-6.67zM329.7 328.0h6.67v5.90h-6.67zM329.7 339.7h6.67v5.90h-6.67zM296.6 345.6h6.67v5.90h-6.67zM316.5 351.4h6.67v5.90h-6.67zM303.2 357.2h6.67v5.90h-6.67zM316.5 357.2h6.67v5.90h-6.67zM303.2 363.1h6.67v5.90h-6.67zM329.7 363.1h6.67v5.90h-6.67zM296.6 369.0h6.67v5.90h-6.67zM336.4 369.0h6.67v5.90h-6.67zM343.0 369.0h6.67v5.90h-6.67zM329.7 374.8h6.67v5.90h-6.67zM296.6 386.5h6.67v5.90h-6.67zM309.9 392.4h6.67v5.90h-6.67zM323.1 392.4h6.67v5.90h-6.67zM336.4 392.4h6.67v5.90h-6.67zM296.6 404.1h6.67v5.90h-6.67zM309.9 404.1h6.67v5.90h-6.67zM343.0 404.1h6.67v5.90h-6.67z"/>
<path fill="#3e9cdc" d="M316.5 304.6h6.67v5.90h-6.67zM336.4 304.6h6.67v5.90h-6.67zM296.6 310.5h6.67v5.90h-6.67zM303.2 310.5h6.67v5.90h-6.67zM309.9 310.5h6.67v5.90h-6.67zM323.1 310.5h6.67v5.90h-6.67zM343.0 310.5h6.67v5.90h-6.67zM296.6 316.3h6.67v5.90h-6.67zM303.2 316.3h6.67v5.90h-6.67zM316.5 316.3h6.67v5.90h-6.67zM296.6 322.2h6.67v5.90h-6.67zM316.5 322.2h6.67v5.90h-6.67zM323.1 322.2h6.67v5.90h-6.67zM336.4 322.2h6.67v5.90h-6.67zM343.0 322.2h6.67v5.90h-6.67zM309.9 328.0h6.67v5.90h-6.67zM296.6 333.9h6.67v5.90h-6.67zM303.2 333.9h6.67v5.90h-6.67zM309.9 333.9h6.67v5.90h-6.67zM316.5 333.9h6.67v5.90h-6.67zM323.1 333.9h6.67v5.90h-6.67zM336.4 333.9h6.67v5.90h-6.67zM309.9 339.7h6.67v5.90h-6.67zM316.5 339.7h6.67v5.90h-6.67zM323.1 339.7h6.67v5.90h-6.67zM309.9 345.6h6.67v5.90h-6.67zM316.5 345.6h6.67v5.90h-6.67zM329.7 345.6h6.67v5.90h-6.67zM336.4 345.6h6.67v5.90h-6.67zM343.0 345.6h6.67v5.90h-6.67zM303.2 351.4h6.67v5.90h-6.67zM309.9 351.4h6.67v5.90h-6.67zM323.1 351.4h6.67v5.90h-6.67zM329.7 351.4h6.67v5.90h-6.67zM309.9 357.2h6.67v5.90h-6.67zM329.7 357.2h6.67v5.90h-6.67zM309.9 363.1h6.67v5.90h-6.67zM303.2 369.0h6.67v5.90h-6.67zM309.9 369.0h6.67v5.90h-6.67zM316.5 369.0h6.67v5.90h-6.67zM323.1 369.0h6.67v5.90h-6.67zM309.9 374.8h6.67v5.90h-6.67zM316.5 374.8h6.67v5.90h-6.67zM323.1 374.8h6.67v5.90h-6.67zM303.2 380.7h6.67v5.90h-6.67zM309.9 380.7h6.67v5.90h-6.67zM316.5 380.7h6.67v5.90h-6.67zM303.2 386.5h6.67v5.90h-6.67zM323.1 386.5h6.67v5.90h-6.67zM336.4 386.5h6.67v5.90h-6.67zM329.7 392.4h6.67v5.90h-6.67zM343.0 392.4h6.67v5.90h-6.67zM303.2 398.2h6.67v5.90h-6.67zM309.9 398.2h6.67v5.90h-6.67zM329.7 398.2h6.67v5.90h-6.67zM303.2 404.1h6.67v5.90h-6.67zM316.5 404.1h6.67v5.90h-6.67zM323.1 404.1h6.67v5.90h-6.67zM329.7 404.1h6.67v5.90h-6.67zM303.2 409.9h6.67v5.90h-6.67zM309.9 409.9h6.67v5.90h-6.67zM316.5 409.9h6.67v5.90h-6.67zM329.7 409.9h6.67v5.90h-6.67zM303.2 415.8h6.67v5.90h-6.67zM309.9 415.8h6.67v5.90h-6.67zM316.5 415.8h6.67v5.90h-6.67zM323.1 415.8h6.67v5.90h-6.67zM343.0 415.8h6.67v5.90h-6.67z"/>
<path fill="#2a88cd" d="M329.7 304.6h6.67v5.90h-6.67zM343.0 304.6h6.67v5.90h-6.67zM329.7 310.5h6.67v5.90h-6.67zM329.7 316.3h6.67v5.90h-6.67zM303.2 322.2h6.67v5.90h-6.67zM329.7 322.2h6.67v5.90h-6.67zM316.5 328.0h6.67v5.90h-6.67zM329.7 333.9h6.67v5.90h-6.67zM316.5 363.1h6.67v5.90h-6.67zM329.7 369.0h6.67v5.90h-6.67zM323.1 380.7h6.67v5.90h-6.67zM316.5 386.5h6.67v5.90h-6.67zM329.7 386.5h6.67v5.90h-6.67zM316.5 392.4h6.67v5.90h-6.67zM316.5 398.2h6.67v5.90h-6.67z"/>
<path fill="#f66a47" d="M316.5 310.5h6.67v5.90h-6.67zM336.4 310.5h6.67v5.90h-6.67zM290.0 328.0h6.67v5.90h-6.67zM303.2 339.7h6.67v5.90h-6.67zM323.1 345.6h6.67v5.90h-6.67zM290.0 363.1h6.67v5.90h-6.67zM296.6 363.1h6.67v5.90h-6.67zM336.4 363.1h6.67v5.90h-6.67zM343.0 363.1h6.67v5.90h-6.67zM290.0 380.7h6.67v5.90h-6.67zM296.6 380.7h6.67v5.90h-6.67zM329.7 380.7h6.67v5.90h-6.67zM309.9 386.5h6.67v5.90h-6.67zM323.1 398.2h6.67v5.90h-6.67zM336.4 409.9h6.67v5.90h-6.67zM290.0 415.8h6.67v5.90h-6.67zM329.7 415.8h6.67v5.90h-6.67z"/>
<path fill="#fcb094" d="M290.0 316.3h6.67v5.90h-6.67zM323.1 328.0h6.67v5.90h-6.67zM336.4 339.7h6.67v5.90h-6.67zM343.0 339.7h6.67v5.90h-6.67zM290.0 351.4h6.67v5.90h-6.67zM290.0 357.2h6.67v5.90h-6.67zM296.6 357.2h6.67v5.90h-6.67zM290.0 374.8h6.67v5.90h-6.67zM296.6 374.8h6.67v5.90h-6.67zM303.2 374.8h6.67v5.90h-6.67zM336.4 374.8h6.67v5.90h-6.67zM343.0 398.2h6.67v5.90h-6.67zM296.6 409.9h6.67v5.90h-6.67zM323.1 409.9h6.67v5.90h-6.67z"/>
<path fill="#cae4f5" d="M323.1 316.3h6.67v5.90h-6.67zM343.0 316.3h6.67v5.90h-6.67zM303.2 345.6h6.67v5.90h-6.67zM336.4 351.4h6.67v5.90h-6.67zM336.4 380.7h6.67v5.90h-6.67zM343.0 380.7h6.67v5.90h-6.67zM290.0 386.5h6.67v5.90h-6.67zM343.0 386.5h6.67v5.90h-6.67zM296.6 415.8h6.67v5.90h-6.67z"/>
<path fill="#d62a27" d="M336.4 357.2h6.67v5.90h-6.67zM290.0 404.1h6.67v5.90h-6.67z"/>
<path d="M290.00 304.60V421.60M296.62 304.60V421.60M303.24 304.60V421.60M309.87 304.60V421.60M316.49 304.60V421.60M323.11 304.60V421.60M329.73 304.60V421.60M336.36 304.60V421.60M342.98 304.60V421.60M349.60 304.60V421.60M290.00 304.60H349.60M290.00 310.45H349.60M290.00 316.30H349.60M290.00 322.15H349.60M290.00 328.00H349.60M290.00 333.85H349.60M290.00 339.70H349.60M290.00 345.55H349.60M290.00 351.40H349.60M290.00 357.25H349.60M290.00 363.10H349.60M290.00 368.95H349.60M290.00 374.80H349.60M290.00 380.65H349.60M290.00 386.50H349.60M290.00 392.35H349.60M290.00 398.20H349.60M290.00 404.05H349.60M290.00 409.90H349.60M290.00 415.75H349.60M290.00 421.60H349.60" stroke="#8e8e8e" stroke-width="0.85" fill="none"/>
<text transform="translate(319.80,302.20) scale(0.84,1)" font-size="11" text-anchor="middle" fill="#111">SVAR.16</text>
<text transform="translate(288.60,310.00) scale(0.9,1)" font-size="7" text-anchor="end" fill="#171c3a">A</text>
<text transform="translate(288.60,315.85) scale(0.9,1)" font-size="7" text-anchor="end" fill="#171c3a">R</text>
<text transform="translate(288.60,321.70) scale(0.9,1)" font-size="7" text-anchor="end" fill="#171c3a">N</text>
<text transform="translate(288.60,327.55) scale(0.9,1)" font-size="7" text-anchor="end" fill="#171c3a">D</text>
<text transform="translate(288.60,333.40) scale(0.9,1)" font-size="7" text-anchor="end" fill="#171c3a">C</text>
<text transform="translate(288.60,339.25) scale(0.9,1)" font-size="7" text-anchor="end" fill="#171c3a">E</text>
<text transform="translate(288.60,345.10) scale(0.9,1)" font-size="7" text-anchor="end" fill="#171c3a">Q</text>
<text transform="translate(288.60,350.95) scale(0.9,1)" font-size="7" text-anchor="end" fill="#171c3a">G</text>
<text transform="translate(288.60,356.80) scale(0.9,1)" font-size="7" text-anchor="end" fill="#171c3a">H</text>
<text transform="translate(288.60,362.65) scale(0.9,1)" font-size="7" text-anchor="end" fill="#171c3a">I</text>
<text transform="translate(288.60,368.50) scale(0.9,1)" font-size="7" text-anchor="end" fill="#171c3a">L</text>
<text transform="translate(288.60,374.35) scale(0.9,1)" font-size="7" text-anchor="end" fill="#171c3a">K</text>
<text transform="translate(288.60,380.20) scale(0.9,1)" font-size="7" text-anchor="end" fill="#171c3a">M</text>
<text transform="translate(288.60,386.05) scale(0.9,1)" font-size="7" text-anchor="end" fill="#171c3a">F</text>
<text transform="translate(288.60,391.90) scale(0.9,1)" font-size="7" text-anchor="end" fill="#171c3a">P</text>
<text transform="translate(288.60,397.75) scale(0.9,1)" font-size="7" text-anchor="end" fill="#171c3a">S</text>
<text transform="translate(288.60,403.60) scale(0.9,1)" font-size="7" text-anchor="end" fill="#171c3a">T</text>
<text transform="translate(288.60,409.45) scale(0.9,1)" font-size="7" text-anchor="end" fill="#171c3a">W</text>
<text transform="translate(288.60,415.30) scale(0.9,1)" font-size="7" text-anchor="end" fill="#171c3a">V</text>
<text transform="translate(288.60,421.15) scale(0.9,1)" font-size="7" text-anchor="end" fill="#171c3a">Y</text>
<text x="293.31" y="428.20" font-size="6.3" text-anchor="middle" font-weight="normal" fill="#1c2b52" >1</text>
<text x="299.93" y="428.20" font-size="6.3" text-anchor="middle" font-weight="normal" fill="#1c2b52" >2</text>
<text x="306.56" y="428.20" font-size="6.3" text-anchor="middle" font-weight="normal" fill="#1c2b52" >3</text>
<text x="313.18" y="428.20" font-size="6.3" text-anchor="middle" font-weight="normal" fill="#1c2b52" >4</text>
<text x="319.80" y="428.20" font-size="6.3" text-anchor="middle" font-weight="normal" fill="#1c2b52" >5</text>
<text x="326.42" y="428.20" font-size="6.3" text-anchor="middle" font-weight="normal" fill="#1c2b52" >6</text>
<text x="333.04" y="428.20" font-size="6.3" text-anchor="middle" font-weight="normal" fill="#1c2b52" >7</text>
<text x="339.67" y="428.20" font-size="6.3" text-anchor="middle" font-weight="normal" fill="#1c2b52" >8</text>
<text x="346.29" y="428.20" font-size="6.3" text-anchor="middle" font-weight="normal" fill="#1c2b52" >9</text>
<path fill="#f66a47" d="M382.2 304.6h6.67v5.90h-6.67zM402.1 304.6h6.67v5.90h-6.67zM415.3 304.6h6.67v5.90h-6.67zM382.2 310.5h6.67v5.90h-6.67zM428.6 316.3h6.67v5.90h-6.67zM382.2 322.2h6.67v5.90h-6.67zM388.8 328.0h6.67v5.90h-6.67zM382.2 333.9h6.67v5.90h-6.67zM435.2 333.9h6.67v5.90h-6.67zM435.2 339.7h6.67v5.90h-6.67zM415.3 345.6h6.67v5.90h-6.67zM428.6 374.8h6.67v5.90h-6.67zM435.2 386.5h6.67v5.90h-6.67zM382.2 392.4h6.67v5.90h-6.67zM388.8 392.4h6.67v5.90h-6.67zM382.2 398.2h6.67v5.90h-6.67zM388.8 398.2h6.67v5.90h-6.67zM435.2 398.2h6.67v5.90h-6.67zM382.2 409.9h6.67v5.90h-6.67zM415.3 409.9h6.67v5.90h-6.67zM435.2 409.9h6.67v5.90h-6.67z"/>
<path fill="#d62a27" d="M388.8 304.6h6.67v5.90h-6.67zM382.2 316.3h6.67v5.90h-6.67zM415.3 328.0h6.67v5.90h-6.67zM428.6 328.0h6.67v5.90h-6.67zM382.2 339.7h6.67v5.90h-6.67zM382.2 345.6h6.67v5.90h-6.67zM382.2 351.4h6.67v5.90h-6.67zM428.6 351.4h6.67v5.90h-6.67zM388.8 357.2h6.67v5.90h-6.67zM395.4 374.8h6.67v5.90h-6.67zM428.6 380.7h6.67v5.90h-6.67zM428.6 398.2h6.67v5.90h-6.67zM428.6 404.1h6.67v5.90h-6.67zM388.8 409.9h6.67v5.90h-6.67zM428.6 415.8h6.67v5.90h-6.67z"/>
<path fill="#fbf9f8" d="M395.4 304.6h6.67v5.90h-6.67zM428.6 310.5h6.67v5.90h-6.67zM388.8 316.3h6.67v5.90h-6.67zM435.2 322.2h6.67v5.90h-6.67zM428.6 333.9h6.67v5.90h-6.67zM388.8 345.6h6.67v5.90h-6.67zM402.1 345.6h6.67v5.90h-6.67zM435.2 345.6h6.67v5.90h-6.67zM435.2 369.0h6.67v5.90h-6.67zM421.9 374.8h6.67v5.90h-6.67zM415.3 392.4h6.67v5.90h-6.67zM435.2 404.1h6.67v5.90h-6.67zM421.9 409.9h6.67v5.90h-6.67zM388.8 415.8h6.67v5.90h-6.67z"/>
<path fill="#5ab0e6" d="M408.7 304.6h6.67v5.90h-6.67zM421.9 304.6h6.67v5.90h-6.67zM421.9 310.5h6.67v5.90h-6.67zM421.9 316.3h6.67v5.90h-6.67zM408.7 322.2h6.67v5.90h-6.67zM421.9 322.2h6.67v5.90h-6.67zM408.7 339.7h6.67v5.90h-6.67zM421.9 339.7h6.67v5.90h-6.67zM421.9 345.6h6.67v5.90h-6.67zM408.7 351.4h6.67v5.90h-6.67zM408.7 357.2h6.67v5.90h-6.67zM408.7 363.1h6.67v5.90h-6.67zM402.1 369.0h6.67v5.90h-6.67zM408.7 369.0h6.67v5.90h-6.67zM421.9 369.0h6.67v5.90h-6.67zM408.7 380.7h6.67v5.90h-6.67zM408.7 386.5h6.67v5.90h-6.67zM415.3 386.5h6.67v5.90h-6.67zM408.7 392.4h6.67v5.90h-6.67zM421.9 392.4h6.67v5.90h-6.67zM402.1 398.2h6.67v5.90h-6.67zM421.9 398.2h6.67v5.90h-6.67zM408.7 409.9h6.67v5.90h-6.67zM408.7 415.8h6.67v5.90h-6.67zM415.3 415.8h6.67v5.90h-6.67z"/>
<path fill="#fde0d3" d="M428.6 304.6h6.67v5.90h-6.67zM435.2 304.6h6.67v5.90h-6.67zM415.3 316.3h6.67v5.90h-6.67zM395.4 328.0h6.67v5.90h-6.67zM388.8 339.7h6.67v5.90h-6.67zM415.3 357.2h6.67v5.90h-6.67zM415.3 363.1h6.67v5.90h-6.67zM435.2 380.7h6.67v5.90h-6.67zM388.8 386.5h6.67v5.90h-6.67zM395.4 392.4h6.67v5.90h-6.67zM435.2 392.4h6.67v5.90h-6.67z"/>
<path fill="#cae4f5" d="M388.8 310.5h6.67v5.90h-6.67zM388.8 322.2h6.67v5.90h-6.67zM415.3 322.2h6.67v5.90h-6.67zM402.1 328.0h6.67v5.90h-6.67zM421.9 328.0h6.67v5.90h-6.67zM415.3 339.7h6.67v5.90h-6.67zM428.6 345.6h6.67v5.90h-6.67zM395.4 357.2h6.67v5.90h-6.67zM421.9 357.2h6.67v5.90h-6.67zM421.9 363.1h6.67v5.90h-6.67zM402.1 380.7h6.67v5.90h-6.67zM421.9 404.1h6.67v5.90h-6.67z"/>
<path fill="#97cdef" d="M395.4 310.5h6.67v5.90h-6.67zM402.1 310.5h6.67v5.90h-6.67zM415.3 310.5h6.67v5.90h-6.67zM435.2 310.5h6.67v5.90h-6.67zM395.4 316.3h6.67v5.90h-6.67zM402.1 316.3h6.67v5.90h-6.67zM408.7 316.3h6.67v5.90h-6.67zM395.4 322.2h6.67v5.90h-6.67zM402.1 322.2h6.67v5.90h-6.67zM428.6 322.2h6.67v5.90h-6.67zM408.7 328.0h6.67v5.90h-6.67zM388.8 333.9h6.67v5.90h-6.67zM395.4 333.9h6.67v5.90h-6.67zM402.1 333.9h6.67v5.90h-6.67zM408.7 333.9h6.67v5.90h-6.67zM415.3 333.9h6.67v5.90h-6.67zM421.9 333.9h6.67v5.90h-6.67zM402.1 339.7h6.67v5.90h-6.67zM408.7 345.6h6.67v5.90h-6.67zM395.4 351.4h6.67v5.90h-6.67zM402.1 351.4h6.67v5.90h-6.67zM415.3 351.4h6.67v5.90h-6.67zM421.9 351.4h6.67v5.90h-6.67zM402.1 357.2h6.67v5.90h-6.67zM395.4 363.1h6.67v5.90h-6.67zM402.1 363.1h6.67v5.90h-6.67zM395.4 369.0h6.67v5.90h-6.67zM415.3 369.0h6.67v5.90h-6.67zM428.6 369.0h6.67v5.90h-6.67zM402.1 374.8h6.67v5.90h-6.67zM408.7 374.8h6.67v5.90h-6.67zM415.3 374.8h6.67v5.90h-6.67zM395.4 380.7h6.67v5.90h-6.67zM415.3 380.7h6.67v5.90h-6.67zM395.4 386.5h6.67v5.90h-6.67zM421.9 386.5h6.67v5.90h-6.67zM428.6 386.5h6.67v5.90h-6.67zM402.1 392.4h6.67v5.90h-6.67zM395.4 398.2h6.67v5.90h-6.67zM408.7 398.2h6.67v5.90h-6.67zM395.4 404.1h6.67v5.90h-6.67zM408.7 404.1h6.67v5.90h-6.67zM415.3 404.1h6.67v5.90h-6.67zM395.4 409.9h6.67v5.90h-6.67zM402.1 409.9h6.67v5.90h-6.67zM395.4 415.8h6.67v5.90h-6.67zM402.1 415.8h6.67v5.90h-6.67zM435.2 415.8h6.67v5.90h-6.67z"/>
<path fill="#a20314" d="M408.7 310.5h6.67v5.90h-6.67zM382.2 328.0h6.67v5.90h-6.67zM395.4 339.7h6.67v5.90h-6.67zM382.2 357.2h6.67v5.90h-6.67zM428.6 357.2h6.67v5.90h-6.67zM382.2 363.1h6.67v5.90h-6.67zM388.8 363.1h6.67v5.90h-6.67zM428.6 363.1h6.67v5.90h-6.67zM435.2 363.1h6.67v5.90h-6.67zM382.2 374.8h6.67v5.90h-6.67zM388.8 374.8h6.67v5.90h-6.67zM382.2 380.7h6.67v5.90h-6.67zM388.8 380.7h6.67v5.90h-6.67zM421.9 380.7h6.67v5.90h-6.67zM402.1 386.5h6.67v5.90h-6.67zM415.3 398.2h6.67v5.90h-6.67zM382.2 404.1h6.67v5.90h-6.67zM428.6 409.9h6.67v5.90h-6.67zM382.2 415.8h6.67v5.90h-6.67zM421.9 415.8h6.67v5.90h-6.67z"/>
<path fill="#fcb094" d="M435.2 316.3h6.67v5.90h-6.67zM435.2 328.0h6.67v5.90h-6.67zM428.6 339.7h6.67v5.90h-6.67zM395.4 345.6h6.67v5.90h-6.67zM388.8 351.4h6.67v5.90h-6.67zM435.2 351.4h6.67v5.90h-6.67zM435.2 357.2h6.67v5.90h-6.67zM382.2 369.0h6.67v5.90h-6.67zM388.8 369.0h6.67v5.90h-6.67zM435.2 374.8h6.67v5.90h-6.67zM382.2 386.5h6.67v5.90h-6.67zM428.6 392.4h6.67v5.90h-6.67zM388.8 404.1h6.67v5.90h-6.67zM402.1 404.1h6.67v5.90h-6.67z"/>
<path d="M382.20 304.60V421.60M388.82 304.60V421.60M395.44 304.60V421.60M402.07 304.60V421.60M408.69 304.60V421.60M415.31 304.60V421.60M421.93 304.60V421.60M428.56 304.60V421.60M435.18 304.60V421.60M441.80 304.60V421.60M382.20 304.60H441.80M382.20 310.45H441.80M382.20 316.30H441.80M382.20 322.15H441.80M382.20 328.00H441.80M382.20 333.85H441.80M382.20 339.70H441.80M382.20 345.55H441.80M382.20 351.40H441.80M382.20 357.25H441.80M382.20 363.10H441.80M382.20 368.95H441.80M382.20 374.80H441.80M382.20 380.65H441.80M382.20 386.50H441.80M382.20 392.35H441.80M382.20 398.20H441.80M382.20 404.05H441.80M382.20 409.90H441.80M382.20 415.75H441.80M382.20 421.60H441.80" stroke="#8e8e8e" stroke-width="0.85" fill="none"/>
<text transform="translate(412.00,302.20) scale(0.84,1)" font-size="11" text-anchor="middle" fill="#111">SVAR.21</text>
<text transform="translate(380.80,310.00) scale(0.9,1)" font-size="7" text-anchor="end" fill="#171c3a">A</text>
<text transform="translate(380.80,315.85) scale(0.9,1)" font-size="7" text-anchor="end" fill="#171c3a">R</text>
<text transform="translate(380.80,321.70) scale(0.9,1)" font-size="7" text-anchor="end" fill="#171c3a">N</text>
<text transform="translate(380.80,327.55) scale(0.9,1)" font-size="7" text-anchor="end" fill="#171c3a">D</text>
<text transform="translate(380.80,333.40) scale(0.9,1)" font-size="7" text-anchor="end" fill="#171c3a">C</text>
<text transform="translate(380.80,339.25) scale(0.9,1)" font-size="7" text-anchor="end" fill="#171c3a">E</text>
<text transform="translate(380.80,345.10) scale(0.9,1)" font-size="7" text-anchor="end" fill="#171c3a">Q</text>
<text transform="translate(380.80,350.95) scale(0.9,1)" font-size="7" text-anchor="end" fill="#171c3a">G</text>
<text transform="translate(380.80,356.80) scale(0.9,1)" font-size="7" text-anchor="end" fill="#171c3a">H</text>
<text transform="translate(380.80,362.65) scale(0.9,1)" font-size="7" text-anchor="end" fill="#171c3a">I</text>
<text transform="translate(380.80,368.50) scale(0.9,1)" font-size="7" text-anchor="end" fill="#171c3a">L</text>
<text transform="translate(380.80,374.35) scale(0.9,1)" font-size="7" text-anchor="end" fill="#171c3a">K</text>
<text transform="translate(380.80,380.20) scale(0.9,1)" font-size="7" text-anchor="end" fill="#171c3a">M</text>
<text transform="translate(380.80,386.05) scale(0.9,1)" font-size="7" text-anchor="end" fill="#171c3a">F</text>
<text transform="translate(380.80,391.90) scale(0.9,1)" font-size="7" text-anchor="end" fill="#171c3a">P</text>
<text transform="translate(380.80,397.75) scale(0.9,1)" font-size="7" text-anchor="end" fill="#171c3a">S</text>
<text transform="translate(380.80,403.60) scale(0.9,1)" font-size="7" text-anchor="end" fill="#171c3a">T</text>
<text transform="translate(380.80,409.45) scale(0.9,1)" font-size="7" text-anchor="end" fill="#171c3a">W</text>
<text transform="translate(380.80,415.30) scale(0.9,1)" font-size="7" text-anchor="end" fill="#171c3a">V</text>
<text transform="translate(380.80,421.15) scale(0.9,1)" font-size="7" text-anchor="end" fill="#171c3a">Y</text>
<text x="385.51" y="428.20" font-size="6.3" text-anchor="middle" font-weight="normal" fill="#1c2b52" >1</text>
<text x="392.13" y="428.20" font-size="6.3" text-anchor="middle" font-weight="normal" fill="#1c2b52" >2</text>
<text x="398.76" y="428.20" font-size="6.3" text-anchor="middle" font-weight="normal" fill="#1c2b52" >3</text>
<text x="405.38" y="428.20" font-size="6.3" text-anchor="middle" font-weight="normal" fill="#1c2b52" >4</text>
<text x="412.00" y="428.20" font-size="6.3" text-anchor="middle" font-weight="normal" fill="#1c2b52" >5</text>
<text x="418.62" y="428.20" font-size="6.3" text-anchor="middle" font-weight="normal" fill="#1c2b52" >6</text>
<text x="425.24" y="428.20" font-size="6.3" text-anchor="middle" font-weight="normal" fill="#1c2b52" >7</text>
<text x="431.87" y="428.20" font-size="6.3" text-anchor="middle" font-weight="normal" fill="#1c2b52" >8</text>
<text x="438.49" y="428.20" font-size="6.3" text-anchor="middle" font-weight="normal" fill="#1c2b52" >9</text>
<path fill="#a20314" d="M473.4 304.6h6.67v5.90h-6.67zM480.0 304.6h6.67v5.90h-6.67zM486.6 304.6h6.67v5.90h-6.67zM493.3 304.6h6.67v5.90h-6.67zM526.4 304.6h6.67v5.90h-6.67zM473.4 310.5h6.67v5.90h-6.67zM493.3 310.5h6.67v5.90h-6.67zM499.9 310.5h6.67v5.90h-6.67zM526.4 310.5h6.67v5.90h-6.67zM473.4 316.3h6.67v5.90h-6.67zM480.0 316.3h6.67v5.90h-6.67zM493.3 316.3h6.67v5.90h-6.67zM526.4 316.3h6.67v5.90h-6.67zM473.4 322.2h6.67v5.90h-6.67zM526.4 322.2h6.67v5.90h-6.67zM473.4 328.0h6.67v5.90h-6.67zM480.0 328.0h6.67v5.90h-6.67zM486.6 328.0h6.67v5.90h-6.67zM493.3 328.0h6.67v5.90h-6.67zM506.5 328.0h6.67v5.90h-6.67zM513.1 328.0h6.67v5.90h-6.67zM519.8 328.0h6.67v5.90h-6.67zM526.4 328.0h6.67v5.90h-6.67zM473.4 333.9h6.67v5.90h-6.67zM480.0 333.9h6.67v5.90h-6.67zM526.4 333.9h6.67v5.90h-6.67zM473.4 339.7h6.67v5.90h-6.67zM480.0 339.7h6.67v5.90h-6.67zM486.6 339.7h6.67v5.90h-6.67zM493.3 339.7h6.67v5.90h-6.67zM513.1 339.7h6.67v5.90h-6.67zM519.8 339.7h6.67v5.90h-6.67zM526.4 339.7h6.67v5.90h-6.67zM473.4 345.6h6.67v5.90h-6.67zM480.0 345.6h6.67v5.90h-6.67zM486.6 345.6h6.67v5.90h-6.67zM493.3 345.6h6.67v5.90h-6.67zM506.5 345.6h6.67v5.90h-6.67zM526.4 345.6h6.67v5.90h-6.67zM473.4 351.4h6.67v5.90h-6.67zM480.0 351.4h6.67v5.90h-6.67zM493.3 351.4h6.67v5.90h-6.67zM513.1 351.4h6.67v5.90h-6.67zM519.8 351.4h6.67v5.90h-6.67zM526.4 351.4h6.67v5.90h-6.67zM473.4 357.2h6.67v5.90h-6.67zM480.0 357.2h6.67v5.90h-6.67zM486.6 357.2h6.67v5.90h-6.67zM493.3 357.2h6.67v5.90h-6.67zM506.5 357.2h6.67v5.90h-6.67zM513.1 357.2h6.67v5.90h-6.67zM519.8 357.2h6.67v5.90h-6.67zM526.4 357.2h6.67v5.90h-6.67zM473.4 363.1h6.67v5.90h-6.67zM480.0 363.1h6.67v5.90h-6.67zM486.6 363.1h6.67v5.90h-6.67zM513.1 363.1h6.67v5.90h-6.67zM519.8 363.1h6.67v5.90h-6.67zM526.4 363.1h6.67v5.90h-6.67zM473.4 369.0h6.67v5.90h-6.67zM480.0 369.0h6.67v5.90h-6.67zM526.4 369.0h6.67v5.90h-6.67zM473.4 374.8h6.67v5.90h-6.67zM480.0 374.8h6.67v5.90h-6.67zM486.6 374.8h6.67v5.90h-6.67zM513.1 374.8h6.67v5.90h-6.67zM519.8 374.8h6.67v5.90h-6.67zM526.4 374.8h6.67v5.90h-6.67zM473.4 380.7h6.67v5.90h-6.67zM480.0 380.7h6.67v5.90h-6.67zM513.1 380.7h6.67v5.90h-6.67zM519.8 380.7h6.67v5.90h-6.67zM526.4 380.7h6.67v5.90h-6.67zM473.4 386.5h6.67v5.90h-6.67zM480.0 386.5h6.67v5.90h-6.67zM486.6 386.5h6.67v5.90h-6.67zM493.3 386.5h6.67v5.90h-6.67zM526.4 386.5h6.67v5.90h-6.67zM473.4 392.4h6.67v5.90h-6.67zM480.0 392.4h6.67v5.90h-6.67zM486.6 392.4h6.67v5.90h-6.67zM493.3 392.4h6.67v5.90h-6.67zM506.5 392.4h6.67v5.90h-6.67zM519.8 392.4h6.67v5.90h-6.67zM526.4 392.4h6.67v5.90h-6.67zM473.4 398.2h6.67v5.90h-6.67zM480.0 398.2h6.67v5.90h-6.67zM486.6 398.2h6.67v5.90h-6.67zM506.5 398.2h6.67v5.90h-6.67zM519.8 398.2h6.67v5.90h-6.67zM526.4 398.2h6.67v5.90h-6.67zM473.4 404.1h6.67v5.90h-6.67zM480.0 404.1h6.67v5.90h-6.67zM513.1 404.1h6.67v5.90h-6.67zM519.8 404.1h6.67v5.90h-6.67zM526.4 404.1h6.67v5.90h-6.67zM473.4 409.9h6.67v5.90h-6.67zM480.0 409.9h6.67v5.90h-6.67zM486.6 409.9h6.67v5.90h-6.67zM506.5 409.9h6.67v5.90h-6.67zM513.1 409.9h6.67v5.90h-6.67zM519.8 409.9h6.67v5.90h-6.67zM526.4 409.9h6.67v5.90h-6.67zM473.4 415.8h6.67v5.90h-6.67zM480.0 415.8h6.67v5.90h-6.67zM513.1 415.8h6.67v5.90h-6.67zM526.4 415.8h6.67v5.90h-6.67z"/>
<path fill="#97cdef" d="M499.9 304.6h6.67v5.90h-6.67zM513.1 310.5h6.67v5.90h-6.67zM499.9 316.3h6.67v5.90h-6.67zM493.3 322.2h6.67v5.90h-6.67zM499.9 322.2h6.67v5.90h-6.67zM513.1 322.2h6.67v5.90h-6.67zM499.9 328.0h6.67v5.90h-6.67zM493.3 333.9h6.67v5.90h-6.67zM499.9 333.9h6.67v5.90h-6.67zM506.5 333.9h6.67v5.90h-6.67zM513.1 333.9h6.67v5.90h-6.67zM499.9 339.7h6.67v5.90h-6.67zM499.9 345.6h6.67v5.90h-6.67zM499.9 351.4h6.67v5.90h-6.67zM499.9 357.2h6.67v5.90h-6.67zM499.9 363.1h6.67v5.90h-6.67zM493.3 369.0h6.67v5.90h-6.67zM506.5 369.0h6.67v5.90h-6.67zM513.1 369.0h6.67v5.90h-6.67zM499.9 374.8h6.67v5.90h-6.67zM486.6 380.7h6.67v5.90h-6.67zM499.9 380.7h6.67v5.90h-6.67zM499.9 386.5h6.67v5.90h-6.67zM499.9 392.4h6.67v5.90h-6.67zM499.9 398.2h6.67v5.90h-6.67zM486.6 404.1h6.67v5.90h-6.67zM493.3 404.1h6.67v5.90h-6.67zM499.9 404.1h6.67v5.90h-6.67zM486.6 415.8h6.67v5.90h-6.67zM499.9 415.8h6.67v5.90h-6.67z"/>
<path fill="#d62a27" d="M506.5 304.6h6.67v5.90h-6.67zM506.5 316.3h6.67v5.90h-6.67zM519.8 316.3h6.67v5.90h-6.67zM486.6 333.9h6.67v5.90h-6.67zM506.5 363.1h6.67v5.90h-6.67zM486.6 369.0h6.67v5.90h-6.67zM499.9 369.0h6.67v5.90h-6.67zM513.1 398.2h6.67v5.90h-6.67zM493.3 409.9h6.67v5.90h-6.67zM519.8 415.8h6.67v5.90h-6.67z"/>
<path fill="#fcb094" d="M513.1 304.6h6.67v5.90h-6.67zM480.0 310.5h6.67v5.90h-6.67zM486.6 310.5h6.67v5.90h-6.67zM519.8 345.6h6.67v5.90h-6.67zM486.6 351.4h6.67v5.90h-6.67zM519.8 369.0h6.67v5.90h-6.67zM506.5 374.8h6.67v5.90h-6.67zM493.3 380.7h6.67v5.90h-6.67zM513.1 386.5h6.67v5.90h-6.67zM506.5 404.1h6.67v5.90h-6.67z"/>
<path fill="#f66a47" d="M519.8 304.6h6.67v5.90h-6.67zM519.8 310.5h6.67v5.90h-6.67zM486.6 316.3h6.67v5.90h-6.67zM480.0 322.2h6.67v5.90h-6.67zM513.1 345.6h6.67v5.90h-6.67zM506.5 351.4h6.67v5.90h-6.67zM493.3 374.8h6.67v5.90h-6.67zM513.1 392.4h6.67v5.90h-6.67zM493.3 398.2h6.67v5.90h-6.67z"/>
<path fill="#fde0d3" d="M506.5 310.5h6.67v5.90h-6.67zM513.1 316.3h6.67v5.90h-6.67zM506.5 339.7h6.67v5.90h-6.67z"/>
<path fill="#cae4f5" d="M486.6 322.2h6.67v5.90h-6.67zM506.5 322.2h6.67v5.90h-6.67zM493.3 363.1h6.67v5.90h-6.67zM506.5 380.7h6.67v5.90h-6.67zM506.5 386.5h6.67v5.90h-6.67zM499.9 409.9h6.67v5.90h-6.67z"/>
<path fill="#fbf9f8" d="M519.8 322.2h6.67v5.90h-6.67zM519.8 333.9h6.67v5.90h-6.67zM519.8 386.5h6.67v5.90h-6.67zM493.3 415.8h6.67v5.90h-6.67zM506.5 415.8h6.67v5.90h-6.67z"/>
<path d="M473.40 304.60V421.60M480.02 304.60V421.60M486.64 304.60V421.60M493.27 304.60V421.60M499.89 304.60V421.60M506.51 304.60V421.60M513.13 304.60V421.60M519.76 304.60V421.60M526.38 304.60V421.60M533.00 304.60V421.60M473.40 304.60H533.00M473.40 310.45H533.00M473.40 316.30H533.00M473.40 322.15H533.00M473.40 328.00H533.00M473.40 333.85H533.00M473.40 339.70H533.00M473.40 345.55H533.00M473.40 351.40H533.00M473.40 357.25H533.00M473.40 363.10H533.00M473.40 368.95H533.00M473.40 374.80H533.00M473.40 380.65H533.00M473.40 386.50H533.00M473.40 392.35H533.00M473.40 398.20H533.00M473.40 404.05H533.00M473.40 409.90H533.00M473.40 415.75H533.00M473.40 421.60H533.00" stroke="#8e8e8e" stroke-width="0.85" fill="none"/>
<text transform="translate(503.20,302.20) scale(0.84,1)" font-size="11" text-anchor="middle" fill="#111">SVAR.26</text>
<text transform="translate(472.00,310.00) scale(0.9,1)" font-size="7" text-anchor="end" fill="#171c3a">A</text>
<text transform="translate(472.00,315.85) scale(0.9,1)" font-size="7" text-anchor="end" fill="#171c3a">R</text>
<text transform="translate(472.00,321.70) scale(0.9,1)" font-size="7" text-anchor="end" fill="#171c3a">N</text>
<text transform="translate(472.00,327.55) scale(0.9,1)" font-size="7" text-anchor="end" fill="#171c3a">D</text>
<text transform="translate(472.00,333.40) scale(0.9,1)" font-size="7" text-anchor="end" fill="#171c3a">C</text>
<text transform="translate(472.00,339.25) scale(0.9,1)" font-size="7" text-anchor="end" fill="#171c3a">E</text>
<text transform="translate(472.00,345.10) scale(0.9,1)" font-size="7" text-anchor="end" fill="#171c3a">Q</text>
<text transform="translate(472.00,350.95) scale(0.9,1)" font-size="7" text-anchor="end" fill="#171c3a">G</text>
<text transform="translate(472.00,356.80) scale(0.9,1)" font-size="7" text-anchor="end" fill="#171c3a">H</text>
<text transform="translate(472.00,362.65) scale(0.9,1)" font-size="7" text-anchor="end" fill="#171c3a">I</text>
<text transform="translate(472.00,368.50) scale(0.9,1)" font-size="7" text-anchor="end" fill="#171c3a">L</text>
<text transform="translate(472.00,374.35) scale(0.9,1)" font-size="7" text-anchor="end" fill="#171c3a">K</text>
<text transform="translate(472.00,380.20) scale(0.9,1)" font-size="7" text-anchor="end" fill="#171c3a">M</text>
<text transform="translate(472.00,386.05) scale(0.9,1)" font-size="7" text-anchor="end" fill="#171c3a">F</text>
<text transform="translate(472.00,391.90) scale(0.9,1)" font-size="7" text-anchor="end" fill="#171c3a">P</text>
<text transform="translate(472.00,397.75) scale(0.9,1)" font-size="7" text-anchor="end" fill="#171c3a">S</text>
<text transform="translate(472.00,403.60) scale(0.9,1)" font-size="7" text-anchor="end" fill="#171c3a">T</text>
<text transform="translate(472.00,409.45) scale(0.9,1)" font-size="7" text-anchor="end" fill="#171c3a">W</text>
<text transform="translate(472.00,415.30) scale(0.9,1)" font-size="7" text-anchor="end" fill="#171c3a">V</text>
<text transform="translate(472.00,421.15) scale(0.9,1)" font-size="7" text-anchor="end" fill="#171c3a">Y</text>
<text x="476.71" y="428.20" font-size="6.3" text-anchor="middle" font-weight="normal" fill="#1c2b52" >1</text>
<text x="483.33" y="428.20" font-size="6.3" text-anchor="middle" font-weight="normal" fill="#1c2b52" >2</text>
<text x="489.96" y="428.20" font-size="6.3" text-anchor="middle" font-weight="normal" fill="#1c2b52" >3</text>
<text x="496.58" y="428.20" font-size="6.3" text-anchor="middle" font-weight="normal" fill="#1c2b52" >4</text>
<text x="503.20" y="428.20" font-size="6.3" text-anchor="middle" font-weight="normal" fill="#1c2b52" >5</text>
<text x="509.82" y="428.20" font-size="6.3" text-anchor="middle" font-weight="normal" fill="#1c2b52" >6</text>
<text x="516.44" y="428.20" font-size="6.3" text-anchor="middle" font-weight="normal" fill="#1c2b52" >7</text>
<text x="523.07" y="428.20" font-size="6.3" text-anchor="middle" font-weight="normal" fill="#1c2b52" >8</text>
<text x="529.69" y="428.20" font-size="6.3" text-anchor="middle" font-weight="normal" fill="#1c2b52" >9</text>
<path fill="#a20314" d="M565.5 304.6h6.67v5.90h-6.67zM572.1 304.6h6.67v5.90h-6.67zM592.0 310.5h6.67v5.90h-6.67zM611.9 316.3h6.67v5.90h-6.67zM565.5 328.0h6.67v5.90h-6.67zM598.6 328.0h6.67v5.90h-6.67zM578.7 339.7h6.67v5.90h-6.67zM611.9 339.7h6.67v5.90h-6.67zM585.4 345.6h6.67v5.90h-6.67zM611.9 351.4h6.67v5.90h-6.67zM598.6 357.2h6.67v5.90h-6.67zM565.5 363.1h6.67v5.90h-6.67zM572.1 363.1h6.67v5.90h-6.67zM611.9 363.1h6.67v5.90h-6.67zM618.5 363.1h6.67v5.90h-6.67zM565.5 374.8h6.67v5.90h-6.67zM572.1 374.8h6.67v5.90h-6.67zM578.7 374.8h6.67v5.90h-6.67zM605.2 374.8h6.67v5.90h-6.67zM611.9 374.8h6.67v5.90h-6.67zM565.5 380.7h6.67v5.90h-6.67zM572.1 380.7h6.67v5.90h-6.67zM605.2 380.7h6.67v5.90h-6.67zM585.4 386.5h6.67v5.90h-6.67zM572.1 392.4h6.67v5.90h-6.67zM611.9 392.4h6.67v5.90h-6.67zM598.6 398.2h6.67v5.90h-6.67zM565.5 404.1h6.67v5.90h-6.67zM598.6 409.9h6.67v5.90h-6.67zM565.5 415.8h6.67v5.90h-6.67zM605.2 415.8h6.67v5.90h-6.67z"/>
<path fill="#fde0d3" d="M578.7 304.6h6.67v5.90h-6.67zM572.1 316.3h6.67v5.90h-6.67zM618.5 316.3h6.67v5.90h-6.67zM598.6 322.2h6.67v5.90h-6.67zM618.5 328.0h6.67v5.90h-6.67zM618.5 339.7h6.67v5.90h-6.67zM585.4 351.4h6.67v5.90h-6.67zM578.7 363.1h6.67v5.90h-6.67zM618.5 374.8h6.67v5.90h-6.67zM611.9 386.5h6.67v5.90h-6.67zM585.4 404.1h6.67v5.90h-6.67zM611.9 404.1h6.67v5.90h-6.67zM578.7 409.9h6.67v5.90h-6.67zM618.5 409.9h6.67v5.90h-6.67zM572.1 415.8h6.67v5.90h-6.67z"/>
<path fill="#fcb094" d="M585.4 304.6h6.67v5.90h-6.67zM611.9 310.5h6.67v5.90h-6.67zM565.5 322.2h6.67v5.90h-6.67zM578.7 328.0h6.67v5.90h-6.67zM565.5 333.9h6.67v5.90h-6.67zM618.5 333.9h6.67v5.90h-6.67zM572.1 345.6h6.67v5.90h-6.67zM578.7 345.6h6.67v5.90h-6.67zM618.5 351.4h6.67v5.90h-6.67zM598.6 374.8h6.67v5.90h-6.67zM611.9 380.7h6.67v5.90h-6.67zM572.1 386.5h6.67v5.90h-6.67zM605.2 386.5h6.67v5.90h-6.67zM578.7 392.4h6.67v5.90h-6.67zM598.6 392.4h6.67v5.90h-6.67zM605.2 404.1h6.67v5.90h-6.67z"/>
<path fill="#5ab0e6" d="M592.0 304.6h6.67v5.90h-6.67zM618.5 304.6h6.67v5.90h-6.67zM605.2 310.5h6.67v5.90h-6.67zM605.2 322.2h6.67v5.90h-6.67zM605.2 333.9h6.67v5.90h-6.67zM592.0 363.1h6.67v5.90h-6.67zM605.2 363.1h6.67v5.90h-6.67zM592.0 374.8h6.67v5.90h-6.67zM592.0 380.7h6.67v5.90h-6.67zM598.6 380.7h6.67v5.90h-6.67zM592.0 392.4h6.67v5.90h-6.67zM592.0 404.1h6.67v5.90h-6.67z"/>
<path fill="#f66a47" d="M598.6 304.6h6.67v5.90h-6.67zM611.9 304.6h6.67v5.90h-6.67zM598.6 316.3h6.67v5.90h-6.67zM605.2 328.0h6.67v5.90h-6.67zM611.9 328.0h6.67v5.90h-6.67zM572.1 339.7h6.67v5.90h-6.67zM605.2 339.7h6.67v5.90h-6.67zM611.9 345.6h6.67v5.90h-6.67zM565.5 351.4h6.67v5.90h-6.67zM572.1 351.4h6.67v5.90h-6.67zM605.2 351.4h6.67v5.90h-6.67zM578.7 357.2h6.67v5.90h-6.67zM618.5 357.2h6.67v5.90h-6.67zM598.6 363.1h6.67v5.90h-6.67zM572.1 369.0h6.67v5.90h-6.67zM565.5 386.5h6.67v5.90h-6.67zM618.5 398.2h6.67v5.90h-6.67zM611.9 409.9h6.67v5.90h-6.67z"/>
<path fill="#fbf9f8" d="M605.2 304.6h6.67v5.90h-6.67zM572.1 310.5h6.67v5.90h-6.67zM611.9 333.9h6.67v5.90h-6.67zM585.4 339.7h6.67v5.90h-6.67zM598.6 339.7h6.67v5.90h-6.67zM598.6 345.6h6.67v5.90h-6.67zM578.7 369.0h6.67v5.90h-6.67zM611.9 369.0h6.67v5.90h-6.67zM585.4 374.8h6.67v5.90h-6.67zM618.5 380.7h6.67v5.90h-6.67zM578.7 398.2h6.67v5.90h-6.67zM572.1 404.1h6.67v5.90h-6.67zM605.2 409.9h6.67v5.90h-6.67z"/>
<path fill="#d62a27" d="M565.5 310.5h6.67v5.90h-6.67zM565.5 316.3h6.67v5.90h-6.67zM572.1 328.0h6.67v5.90h-6.67zM565.5 339.7h6.67v5.90h-6.67zM565.5 345.6h6.67v5.90h-6.67zM565.5 357.2h6.67v5.90h-6.67zM572.1 357.2h6.67v5.90h-6.67zM611.9 357.2h6.67v5.90h-6.67zM565.5 369.0h6.67v5.90h-6.67zM565.5 392.4h6.67v5.90h-6.67zM565.5 398.2h6.67v5.90h-6.67zM572.1 398.2h6.67v5.90h-6.67zM611.9 398.2h6.67v5.90h-6.67zM565.5 409.9h6.67v5.90h-6.67zM572.1 409.9h6.67v5.90h-6.67z"/>
<path fill="#97cdef" d="M578.7 310.5h6.67v5.90h-6.67zM585.4 310.5h6.67v5.90h-6.67zM598.6 310.5h6.67v5.90h-6.67zM618.5 310.5h6.67v5.90h-6.67zM578.7 316.3h6.67v5.90h-6.67zM585.4 316.3h6.67v5.90h-6.67zM592.0 316.3h6.67v5.90h-6.67zM605.2 316.3h6.67v5.90h-6.67zM585.4 322.2h6.67v5.90h-6.67zM592.0 322.2h6.67v5.90h-6.67zM585.4 328.0h6.67v5.90h-6.67zM592.0 328.0h6.67v5.90h-6.67zM585.4 333.9h6.67v5.90h-6.67zM592.0 333.9h6.67v5.90h-6.67zM598.6 333.9h6.67v5.90h-6.67zM592.0 339.7h6.67v5.90h-6.67zM592.0 345.6h6.67v5.90h-6.67zM618.5 345.6h6.67v5.90h-6.67zM578.7 351.4h6.67v5.90h-6.67zM585.4 357.2h6.67v5.90h-6.67zM592.0 357.2h6.67v5.90h-6.67zM605.2 357.2h6.67v5.90h-6.67zM585.4 363.1h6.67v5.90h-6.67zM585.4 369.0h6.67v5.90h-6.67zM592.0 369.0h6.67v5.90h-6.67zM598.6 369.0h6.67v5.90h-6.67zM605.2 369.0h6.67v5.90h-6.67zM618.5 369.0h6.67v5.90h-6.67zM578.7 380.7h6.67v5.90h-6.67zM592.0 386.5h6.67v5.90h-6.67zM598.6 386.5h6.67v5.90h-6.67zM618.5 392.4h6.67v5.90h-6.67zM585.4 398.2h6.67v5.90h-6.67zM592.0 398.2h6.67v5.90h-6.67zM605.2 398.2h6.67v5.90h-6.67zM578.7 404.1h6.67v5.90h-6.67zM598.6 404.1h6.67v5.90h-6.67zM585.4 409.9h6.67v5.90h-6.67zM592.0 409.9h6.67v5.90h-6.67zM585.4 415.8h6.67v5.90h-6.67zM592.0 415.8h6.67v5.90h-6.67zM598.6 415.8h6.67v5.90h-6.67zM611.9 415.8h6.67v5.90h-6.67zM618.5 415.8h6.67v5.90h-6.67z"/>
<path fill="#cae4f5" d="M572.1 322.2h6.67v5.90h-6.67zM578.7 322.2h6.67v5.90h-6.67zM611.9 322.2h6.67v5.90h-6.67zM618.5 322.2h6.67v5.90h-6.67zM572.1 333.9h6.67v5.90h-6.67zM578.7 333.9h6.67v5.90h-6.67zM605.2 345.6h6.67v5.90h-6.67zM592.0 351.4h6.67v5.90h-6.67zM598.6 351.4h6.67v5.90h-6.67zM585.4 380.7h6.67v5.90h-6.67zM578.7 386.5h6.67v5.90h-6.67zM618.5 386.5h6.67v5.90h-6.67zM585.4 392.4h6.67v5.90h-6.67zM605.2 392.4h6.67v5.90h-6.67zM618.5 404.1h6.67v5.90h-6.67zM578.7 415.8h6.67v5.90h-6.67z"/>
<path d="M565.50 304.60V421.60M572.12 304.60V421.60M578.74 304.60V421.60M585.37 304.60V421.60M591.99 304.60V421.60M598.61 304.60V421.60M605.23 304.60V421.60M611.86 304.60V421.60M618.48 304.60V421.60M625.10 304.60V421.60M565.50 304.60H625.10M565.50 310.45H625.10M565.50 316.30H625.10M565.50 322.15H625.10M565.50 328.00H625.10M565.50 333.85H625.10M565.50 339.70H625.10M565.50 345.55H625.10M565.50 351.40H625.10M565.50 357.25H625.10M565.50 363.10H625.10M565.50 368.95H625.10M565.50 374.80H625.10M565.50 380.65H625.10M565.50 386.50H625.10M565.50 392.35H625.10M565.50 398.20H625.10M565.50 404.05H625.10M565.50 409.90H625.10M565.50 415.75H625.10M565.50 421.60H625.10" stroke="#8e8e8e" stroke-width="0.85" fill="none"/>
<text transform="translate(595.30,302.20) scale(0.84,1)" font-size="11" text-anchor="middle" fill="#111">SVAR.56</text>
<text transform="translate(564.10,310.00) scale(0.9,1)" font-size="7" text-anchor="end" fill="#171c3a">A</text>
<text transform="translate(564.10,315.85) scale(0.9,1)" font-size="7" text-anchor="end" fill="#171c3a">R</text>
<text transform="translate(564.10,321.70) scale(0.9,1)" font-size="7" text-anchor="end" fill="#171c3a">N</text>
<text transform="translate(564.10,327.55) scale(0.9,1)" font-size="7" text-anchor="end" fill="#171c3a">D</text>
<text transform="translate(564.10,333.40) scale(0.9,1)" font-size="7" text-anchor="end" fill="#171c3a">C</text>
<text transform="translate(564.10,339.25) scale(0.9,1)" font-size="7" text-anchor="end" fill="#171c3a">E</text>
<text transform="translate(564.10,345.10) scale(0.9,1)" font-size="7" text-anchor="end" fill="#171c3a">Q</text>
<text transform="translate(564.10,350.95) scale(0.9,1)" font-size="7" text-anchor="end" fill="#171c3a">G</text>
<text transform="translate(564.10,356.80) scale(0.9,1)" font-size="7" text-anchor="end" fill="#171c3a">H</text>
<text transform="translate(564.10,362.65) scale(0.9,1)" font-size="7" text-anchor="end" fill="#171c3a">I</text>
<text transform="translate(564.10,368.50) scale(0.9,1)" font-size="7" text-anchor="end" fill="#171c3a">L</text>
<text transform="translate(564.10,374.35) scale(0.9,1)" font-size="7" text-anchor="end" fill="#171c3a">K</text>
<text transform="translate(564.10,380.20) scale(0.9,1)" font-size="7" text-anchor="end" fill="#171c3a">M</text>
<text transform="translate(564.10,386.05) scale(0.9,1)" font-size="7" text-anchor="end" fill="#171c3a">F</text>
<text transform="translate(564.10,391.90) scale(0.9,1)" font-size="7" text-anchor="end" fill="#171c3a">P</text>
<text transform="translate(564.10,397.75) scale(0.9,1)" font-size="7" text-anchor="end" fill="#171c3a">S</text>
<text transform="translate(564.10,403.60) scale(0.9,1)" font-size="7" text-anchor="end" fill="#171c3a">T</text>
<text transform="translate(564.10,409.45) scale(0.9,1)" font-size="7" text-anchor="end" fill="#171c3a">W</text>
<text transform="translate(564.10,415.30) scale(0.9,1)" font-size="7" text-anchor="end" fill="#171c3a">V</text>
<text transform="translate(564.10,421.15) scale(0.9,1)" font-size="7" text-anchor="end" fill="#171c3a">Y</text>
<text x="568.81" y="428.20" font-size="6.3" text-anchor="middle" font-weight="normal" fill="#1c2b52" >1</text>
<text x="575.43" y="428.20" font-size="6.3" text-anchor="middle" font-weight="normal" fill="#1c2b52" >2</text>
<text x="582.06" y="428.20" font-size="6.3" text-anchor="middle" font-weight="normal" fill="#1c2b52" >3</text>
<text x="588.68" y="428.20" font-size="6.3" text-anchor="middle" font-weight="normal" fill="#1c2b52" >4</text>
<text x="595.30" y="428.20" font-size="6.3" text-anchor="middle" font-weight="normal" fill="#1c2b52" >5</text>
<text x="601.92" y="428.20" font-size="6.3" text-anchor="middle" font-weight="normal" fill="#1c2b52" >6</text>
<text x="608.54" y="428.20" font-size="6.3" text-anchor="middle" font-weight="normal" fill="#1c2b52" >7</text>
<text x="615.17" y="428.20" font-size="6.3" text-anchor="middle" font-weight="normal" fill="#1c2b52" >8</text>
<text x="621.79" y="428.20" font-size="6.3" text-anchor="middle" font-weight="normal" fill="#1c2b52" >9</text>
<path fill="#a20314" d="M290.0 447.8h6.67v5.90h-6.67zM296.6 447.8h6.67v5.90h-6.67zM309.9 447.8h6.67v5.90h-6.67zM290.0 453.7h6.67v5.90h-6.67zM316.5 453.7h6.67v5.90h-6.67zM290.0 459.5h6.67v5.90h-6.67zM290.0 465.4h6.67v5.90h-6.67zM290.0 471.2h6.67v5.90h-6.67zM296.6 471.2h6.67v5.90h-6.67zM290.0 477.1h6.67v5.90h-6.67zM290.0 482.9h6.67v5.90h-6.67zM303.2 482.9h6.67v5.90h-6.67zM309.9 482.9h6.67v5.90h-6.67zM343.0 482.9h6.67v5.90h-6.67zM290.0 488.8h6.67v5.90h-6.67zM303.2 488.8h6.67v5.90h-6.67zM309.9 488.8h6.67v5.90h-6.67zM290.0 494.6h6.67v5.90h-6.67zM296.6 494.6h6.67v5.90h-6.67zM290.0 500.4h6.67v5.90h-6.67zM296.6 500.4h6.67v5.90h-6.67zM303.2 500.4h6.67v5.90h-6.67zM336.4 500.4h6.67v5.90h-6.67zM290.0 506.3h6.67v5.90h-6.67zM296.6 506.3h6.67v5.90h-6.67zM336.4 506.3h6.67v5.90h-6.67zM343.0 506.3h6.67v5.90h-6.67zM290.0 512.1h6.67v5.90h-6.67zM290.0 518.0h6.67v5.90h-6.67zM296.6 518.0h6.67v5.90h-6.67zM303.2 518.0h6.67v5.90h-6.67zM336.4 518.0h6.67v5.90h-6.67zM290.0 523.9h6.67v5.90h-6.67zM296.6 523.9h6.67v5.90h-6.67zM329.7 523.9h6.67v5.90h-6.67zM336.4 523.9h6.67v5.90h-6.67zM290.0 529.7h6.67v5.90h-6.67zM309.9 529.7h6.67v5.90h-6.67zM290.0 535.5h6.67v5.90h-6.67zM296.6 535.5h6.67v5.90h-6.67zM303.2 535.5h6.67v5.90h-6.67zM309.9 535.5h6.67v5.90h-6.67zM323.1 535.5h6.67v5.90h-6.67zM290.0 541.4h6.67v5.90h-6.67zM296.6 541.4h6.67v5.90h-6.67zM309.9 541.4h6.67v5.90h-6.67zM323.1 541.4h6.67v5.90h-6.67zM343.0 541.4h6.67v5.90h-6.67zM290.0 547.2h6.67v5.90h-6.67zM309.9 547.2h6.67v5.90h-6.67zM290.0 553.1h6.67v5.90h-6.67zM296.6 553.1h6.67v5.90h-6.67zM303.2 553.1h6.67v5.90h-6.67zM336.4 553.1h6.67v5.90h-6.67zM290.0 559.0h6.67v5.90h-6.67zM329.7 559.0h6.67v5.90h-6.67z"/>
<path fill="#fcb094" d="M303.2 447.8h6.67v5.90h-6.67zM343.0 459.5h6.67v5.90h-6.67zM309.9 471.2h6.67v5.90h-6.67zM323.1 488.8h6.67v5.90h-6.67zM343.0 494.6h6.67v5.90h-6.67zM329.7 500.4h6.67v5.90h-6.67zM329.7 506.3h6.67v5.90h-6.67zM343.0 523.9h6.67v5.90h-6.67zM296.6 529.7h6.67v5.90h-6.67zM303.2 541.4h6.67v5.90h-6.67zM296.6 559.0h6.67v5.90h-6.67z"/>
<path fill="#5ab0e6" d="M316.5 447.8h6.67v5.90h-6.67zM323.1 447.8h6.67v5.90h-6.67zM329.7 447.8h6.67v5.90h-6.67zM336.4 447.8h6.67v5.90h-6.67zM309.9 453.7h6.67v5.90h-6.67zM323.1 453.7h6.67v5.90h-6.67zM329.7 453.7h6.67v5.90h-6.67zM343.0 453.7h6.67v5.90h-6.67zM316.5 459.5h6.67v5.90h-6.67zM329.7 459.5h6.67v5.90h-6.67zM336.4 459.5h6.67v5.90h-6.67zM303.2 465.4h6.67v5.90h-6.67zM309.9 465.4h6.67v5.90h-6.67zM316.5 465.4h6.67v5.90h-6.67zM323.1 465.4h6.67v5.90h-6.67zM329.7 465.4h6.67v5.90h-6.67zM336.4 465.4h6.67v5.90h-6.67zM316.5 471.2h6.67v5.90h-6.67zM323.1 471.2h6.67v5.90h-6.67zM316.5 477.1h6.67v5.90h-6.67zM323.1 477.1h6.67v5.90h-6.67zM329.7 477.1h6.67v5.90h-6.67zM336.4 477.1h6.67v5.90h-6.67zM316.5 482.9h6.67v5.90h-6.67zM323.1 482.9h6.67v5.90h-6.67zM316.5 488.8h6.67v5.90h-6.67zM329.7 488.8h6.67v5.90h-6.67zM336.4 488.8h6.67v5.90h-6.67zM303.2 494.6h6.67v5.90h-6.67zM316.5 494.6h6.67v5.90h-6.67zM323.1 494.6h6.67v5.90h-6.67zM316.5 500.4h6.67v5.90h-6.67zM323.1 500.4h6.67v5.90h-6.67zM316.5 506.3h6.67v5.90h-6.67zM323.1 506.3h6.67v5.90h-6.67zM309.9 512.1h6.67v5.90h-6.67zM316.5 512.1h6.67v5.90h-6.67zM323.1 512.1h6.67v5.90h-6.67zM329.7 512.1h6.67v5.90h-6.67zM316.5 518.0h6.67v5.90h-6.67zM323.1 518.0h6.67v5.90h-6.67zM303.2 523.9h6.67v5.90h-6.67zM316.5 523.9h6.67v5.90h-6.67zM323.1 523.9h6.67v5.90h-6.67zM316.5 529.7h6.67v5.90h-6.67zM323.1 529.7h6.67v5.90h-6.67zM329.7 529.7h6.67v5.90h-6.67zM336.4 529.7h6.67v5.90h-6.67zM316.5 535.5h6.67v5.90h-6.67zM329.7 535.5h6.67v5.90h-6.67zM316.5 541.4h6.67v5.90h-6.67zM329.7 541.4h6.67v5.90h-6.67zM303.2 547.2h6.67v5.90h-6.67zM316.5 547.2h6.67v5.90h-6.67zM323.1 547.2h6.67v5.90h-6.67zM329.7 547.2h6.67v5.90h-6.67zM316.5 553.1h6.67v5.90h-6.67zM323.1 553.1h6.67v5.90h-6.67zM303.2 559.0h6.67v5.90h-6.67zM309.9 559.0h6.67v5.90h-6.67zM316.5 559.0h6.67v5.90h-6.67zM323.1 559.0h6.67v5.90h-6.67z"/>
<path fill="#fbf9f8" d="M343.0 447.8h6.67v5.90h-6.67zM336.4 453.7h6.67v5.90h-6.67zM309.9 459.5h6.67v5.90h-6.67zM323.1 459.5h6.67v5.90h-6.67zM296.6 465.4h6.67v5.90h-6.67zM343.0 465.4h6.67v5.90h-6.67zM336.4 482.9h6.67v5.90h-6.67zM343.0 488.8h6.67v5.90h-6.67zM329.7 518.0h6.67v5.90h-6.67z"/>
<path fill="#97cdef" d="M296.6 453.7h6.67v5.90h-6.67zM329.7 471.2h6.67v5.90h-6.67zM303.2 477.1h6.67v5.90h-6.67zM329.7 482.9h6.67v5.90h-6.67zM309.9 494.6h6.67v5.90h-6.67zM329.7 494.6h6.67v5.90h-6.67zM303.2 512.1h6.67v5.90h-6.67zM336.4 512.1h6.67v5.90h-6.67zM309.9 523.9h6.67v5.90h-6.67zM309.9 553.1h6.67v5.90h-6.67zM336.4 559.0h6.67v5.90h-6.67zM343.0 559.0h6.67v5.90h-6.67z"/>
<path fill="#cae4f5" d="M303.2 453.7h6.67v5.90h-6.67zM303.2 459.5h6.67v5.90h-6.67zM296.6 477.1h6.67v5.90h-6.67zM309.9 506.3h6.67v5.90h-6.67zM343.0 512.1h6.67v5.90h-6.67zM336.4 535.5h6.67v5.90h-6.67zM343.0 535.5h6.67v5.90h-6.67zM343.0 547.2h6.67v5.90h-6.67z"/>
<path fill="#d62a27" d="M296.6 459.5h6.67v5.90h-6.67zM303.2 471.2h6.67v5.90h-6.67zM296.6 488.8h6.67v5.90h-6.67zM303.2 506.3h6.67v5.90h-6.67zM296.6 512.1h6.67v5.90h-6.67zM336.4 541.4h6.67v5.90h-6.67zM336.4 547.2h6.67v5.90h-6.67z"/>
<path fill="#f66a47" d="M336.4 471.2h6.67v5.90h-6.67zM343.0 471.2h6.67v5.90h-6.67zM309.9 477.1h6.67v5.90h-6.67zM343.0 477.1h6.67v5.90h-6.67zM296.6 482.9h6.67v5.90h-6.67zM343.0 500.4h6.67v5.90h-6.67zM343.0 518.0h6.67v5.90h-6.67zM343.0 553.1h6.67v5.90h-6.67z"/>
<path fill="#fde0d3" d="M336.4 494.6h6.67v5.90h-6.67zM309.9 500.4h6.67v5.90h-6.67zM309.9 518.0h6.67v5.90h-6.67zM303.2 529.7h6.67v5.90h-6.67zM343.0 529.7h6.67v5.90h-6.67zM296.6 547.2h6.67v5.90h-6.67zM329.7 553.1h6.67v5.90h-6.67z"/>
<path d="M290.00 447.80V564.80M296.62 447.80V564.80M303.24 447.80V564.80M309.87 447.80V564.80M316.49 447.80V564.80M323.11 447.80V564.80M329.73 447.80V564.80M336.36 447.80V564.80M342.98 447.80V564.80M349.60 447.80V564.80M290.00 447.80H349.60M290.00 453.65H349.60M290.00 459.50H349.60M290.00 465.35H349.60M290.00 471.20H349.60M290.00 477.05H349.60M290.00 482.90H349.60M290.00 488.75H349.60M290.00 494.60H349.60M290.00 500.45H349.60M290.00 506.30H349.60M290.00 512.15H349.60M290.00 518.00H349.60M290.00 523.85H349.60M290.00 529.70H349.60M290.00 535.55H349.60M290.00 541.40H349.60M290.00 547.25H349.60M290.00 553.10H349.60M290.00 558.95H349.60M290.00 564.80H349.60" stroke="#8e8e8e" stroke-width="0.85" fill="none"/>
<text transform="translate(319.80,445.40) scale(0.84,1)" font-size="11" text-anchor="middle" fill="#111">SVAR.57</text>
<text transform="translate(288.60,453.20) scale(0.9,1)" font-size="7" text-anchor="end" fill="#171c3a">A</text>
<text transform="translate(288.60,459.05) scale(0.9,1)" font-size="7" text-anchor="end" fill="#171c3a">R</text>
<text transform="translate(288.60,464.90) scale(0.9,1)" font-size="7" text-anchor="end" fill="#171c3a">N</text>
<text transform="translate(288.60,470.75) scale(0.9,1)" font-size="7" text-anchor="end" fill="#171c3a">D</text>
<text transform="translate(288.60,476.60) scale(0.9,1)" font-size="7" text-anchor="end" fill="#171c3a">C</text>
<text transform="translate(288.60,482.45) scale(0.9,1)" font-size="7" text-anchor="end" fill="#171c3a">E</text>
<text transform="translate(288.60,488.30) scale(0.9,1)" font-size="7" text-anchor="end" fill="#171c3a">Q</text>
<text transform="translate(288.60,494.15) scale(0.9,1)" font-size="7" text-anchor="end" fill="#171c3a">G</text>
<text transform="translate(288.60,500.00) scale(0.9,1)" font-size="7" text-anchor="end" fill="#171c3a">H</text>
<text transform="translate(288.60,505.85) scale(0.9,1)" font-size="7" text-anchor="end" fill="#171c3a">I</text>
<text transform="translate(288.60,511.70) scale(0.9,1)" font-size="7" text-anchor="end" fill="#171c3a">L</text>
<text transform="translate(288.60,517.55) scale(0.9,1)" font-size="7" text-anchor="end" fill="#171c3a">K</text>
<text transform="translate(288.60,523.40) scale(0.9,1)" font-size="7" text-anchor="end" fill="#171c3a">M</text>
<text transform="translate(288.60,529.25) scale(0.9,1)" font-size="7" text-anchor="end" fill="#171c3a">F</text>
<text transform="translate(288.60,535.10) scale(0.9,1)" font-size="7" text-anchor="end" fill="#171c3a">P</text>
<text transform="translate(288.60,540.95) scale(0.9,1)" font-size="7" text-anchor="end" fill="#171c3a">S</text>
<text transform="translate(288.60,546.80) scale(0.9,1)" font-size="7" text-anchor="end" fill="#171c3a">T</text>
<text transform="translate(288.60,552.65) scale(0.9,1)" font-size="7" text-anchor="end" fill="#171c3a">W</text>
<text transform="translate(288.60,558.50) scale(0.9,1)" font-size="7" text-anchor="end" fill="#171c3a">V</text>
<text transform="translate(288.60,564.35) scale(0.9,1)" font-size="7" text-anchor="end" fill="#171c3a">Y</text>
<text x="293.31" y="571.40" font-size="6.3" text-anchor="middle" font-weight="normal" fill="#1c2b52" >1</text>
<text x="299.93" y="571.40" font-size="6.3" text-anchor="middle" font-weight="normal" fill="#1c2b52" >2</text>
<text x="306.56" y="571.40" font-size="6.3" text-anchor="middle" font-weight="normal" fill="#1c2b52" >3</text>
<text x="313.18" y="571.40" font-size="6.3" text-anchor="middle" font-weight="normal" fill="#1c2b52" >4</text>
<text x="319.80" y="571.40" font-size="6.3" text-anchor="middle" font-weight="normal" fill="#1c2b52" >5</text>
<text x="326.42" y="571.40" font-size="6.3" text-anchor="middle" font-weight="normal" fill="#1c2b52" >6</text>
<text x="333.04" y="571.40" font-size="6.3" text-anchor="middle" font-weight="normal" fill="#1c2b52" >7</text>
<text x="339.67" y="571.40" font-size="6.3" text-anchor="middle" font-weight="normal" fill="#1c2b52" >8</text>
<text x="346.29" y="571.40" font-size="6.3" text-anchor="middle" font-weight="normal" fill="#1c2b52" >9</text>
<path fill="#f66a47" d="M382.2 447.8h6.67v5.90h-6.67zM382.2 453.7h6.67v5.90h-6.67zM382.2 459.5h6.67v5.90h-6.67zM388.8 471.2h6.67v5.90h-6.67zM382.2 477.1h6.67v5.90h-6.67zM435.2 482.9h6.67v5.90h-6.67zM382.2 494.6h6.67v5.90h-6.67zM388.8 494.6h6.67v5.90h-6.67zM402.1 494.6h6.67v5.90h-6.67zM415.3 494.6h6.67v5.90h-6.67zM382.2 512.1h6.67v5.90h-6.67zM382.2 541.4h6.67v5.90h-6.67zM388.8 541.4h6.67v5.90h-6.67zM435.2 541.4h6.67v5.90h-6.67zM435.2 553.1h6.67v5.90h-6.67z"/>
<path fill="#d62a27" d="M388.8 447.8h6.67v5.90h-6.67zM402.1 447.8h6.67v5.90h-6.67zM382.2 482.9h6.67v5.90h-6.67zM382.2 488.8h6.67v5.90h-6.67zM382.2 500.4h6.67v5.90h-6.67zM428.6 500.4h6.67v5.90h-6.67zM395.4 518.0h6.67v5.90h-6.67zM428.6 518.0h6.67v5.90h-6.67zM388.8 523.9h6.67v5.90h-6.67zM382.2 535.5h6.67v5.90h-6.67zM388.8 535.5h6.67v5.90h-6.67zM382.2 553.1h6.67v5.90h-6.67zM421.9 559.0h6.67v5.90h-6.67z"/>
<path fill="#fbf9f8" d="M395.4 447.8h6.67v5.90h-6.67zM435.2 447.8h6.67v5.90h-6.67zM388.8 459.5h6.67v5.90h-6.67zM435.2 465.4h6.67v5.90h-6.67zM395.4 471.2h6.67v5.90h-6.67zM402.1 471.2h6.67v5.90h-6.67zM415.3 471.2h6.67v5.90h-6.67zM395.4 488.8h6.67v5.90h-6.67zM395.4 500.4h6.67v5.90h-6.67zM415.3 500.4h6.67v5.90h-6.67zM421.9 506.3h6.67v5.90h-6.67zM435.2 512.1h6.67v5.90h-6.67zM402.1 518.0h6.67v5.90h-6.67zM415.3 518.0h6.67v5.90h-6.67zM421.9 518.0h6.67v5.90h-6.67zM435.2 535.5h6.67v5.90h-6.67zM402.1 541.4h6.67v5.90h-6.67zM435.2 547.2h6.67v5.90h-6.67zM421.9 553.1h6.67v5.90h-6.67zM388.8 559.0h6.67v5.90h-6.67zM415.3 559.0h6.67v5.90h-6.67z"/>
<path fill="#97cdef" d="M408.7 447.8h6.67v5.90h-6.67zM421.9 447.8h6.67v5.90h-6.67zM428.6 447.8h6.67v5.90h-6.67zM395.4 453.7h6.67v5.90h-6.67zM402.1 453.7h6.67v5.90h-6.67zM415.3 453.7h6.67v5.90h-6.67zM421.9 453.7h6.67v5.90h-6.67zM428.6 453.7h6.67v5.90h-6.67zM435.2 453.7h6.67v5.90h-6.67zM408.7 459.5h6.67v5.90h-6.67zM421.9 459.5h6.67v5.90h-6.67zM428.6 459.5h6.67v5.90h-6.67zM395.4 465.4h6.67v5.90h-6.67zM408.7 465.4h6.67v5.90h-6.67zM415.3 465.4h6.67v5.90h-6.67zM428.6 465.4h6.67v5.90h-6.67zM408.7 471.2h6.67v5.90h-6.67zM395.4 477.1h6.67v5.90h-6.67zM402.1 477.1h6.67v5.90h-6.67zM408.7 477.1h6.67v5.90h-6.67zM415.3 477.1h6.67v5.90h-6.67zM421.9 477.1h6.67v5.90h-6.67zM428.6 477.1h6.67v5.90h-6.67zM408.7 482.9h6.67v5.90h-6.67zM415.3 482.9h6.67v5.90h-6.67zM408.7 488.8h6.67v5.90h-6.67zM421.9 488.8h6.67v5.90h-6.67zM428.6 488.8h6.67v5.90h-6.67zM395.4 494.6h6.67v5.90h-6.67zM408.7 494.6h6.67v5.90h-6.67zM421.9 494.6h6.67v5.90h-6.67zM428.6 494.6h6.67v5.90h-6.67zM408.7 500.4h6.67v5.90h-6.67zM421.9 500.4h6.67v5.90h-6.67zM395.4 506.3h6.67v5.90h-6.67zM408.7 506.3h6.67v5.90h-6.67zM395.4 512.1h6.67v5.90h-6.67zM402.1 512.1h6.67v5.90h-6.67zM408.7 512.1h6.67v5.90h-6.67zM415.3 512.1h6.67v5.90h-6.67zM421.9 512.1h6.67v5.90h-6.67zM428.6 512.1h6.67v5.90h-6.67zM408.7 518.0h6.67v5.90h-6.67zM395.4 523.9h6.67v5.90h-6.67zM408.7 523.9h6.67v5.90h-6.67zM428.6 523.9h6.67v5.90h-6.67zM408.7 529.7h6.67v5.90h-6.67zM415.3 529.7h6.67v5.90h-6.67zM421.9 529.7h6.67v5.90h-6.67zM428.6 529.7h6.67v5.90h-6.67zM408.7 535.5h6.67v5.90h-6.67zM421.9 535.5h6.67v5.90h-6.67zM408.7 541.4h6.67v5.90h-6.67zM421.9 541.4h6.67v5.90h-6.67zM395.4 547.2h6.67v5.90h-6.67zM408.7 547.2h6.67v5.90h-6.67zM415.3 547.2h6.67v5.90h-6.67zM421.9 547.2h6.67v5.90h-6.67zM428.6 547.2h6.67v5.90h-6.67zM408.7 553.1h6.67v5.90h-6.67zM395.4 559.0h6.67v5.90h-6.67zM408.7 559.0h6.67v5.90h-6.67zM428.6 559.0h6.67v5.90h-6.67zM435.2 559.0h6.67v5.90h-6.67z"/>
<path fill="#cae4f5" d="M415.3 447.8h6.67v5.90h-6.67zM388.8 453.7h6.67v5.90h-6.67zM395.4 459.5h6.67v5.90h-6.67zM388.8 465.4h6.67v5.90h-6.67zM402.1 465.4h6.67v5.90h-6.67zM388.8 477.1h6.67v5.90h-6.67zM421.9 482.9h6.67v5.90h-6.67zM435.2 488.8h6.67v5.90h-6.67zM415.3 523.9h6.67v5.90h-6.67zM395.4 529.7h6.67v5.90h-6.67zM415.3 535.5h6.67v5.90h-6.67zM428.6 535.5h6.67v5.90h-6.67zM395.4 541.4h6.67v5.90h-6.67zM388.8 547.2h6.67v5.90h-6.67zM395.4 553.1h6.67v5.90h-6.67z"/>
<path fill="#a20314" d="M408.7 453.7h6.67v5.90h-6.67zM382.2 471.2h6.67v5.90h-6.67zM395.4 482.9h6.67v5.90h-6.67zM402.1 488.8h6.67v5.90h-6.67zM388.8 500.4h6.67v5.90h-6.67zM382.2 506.3h6.67v5.90h-6.67zM388.8 506.3h6.67v5.90h-6.67zM428.6 506.3h6.67v5.90h-6.67zM435.2 506.3h6.67v5.90h-6.67zM382.2 518.0h6.67v5.90h-6.67zM388.8 518.0h6.67v5.90h-6.67zM382.2 523.9h6.67v5.90h-6.67zM421.9 523.9h6.67v5.90h-6.67zM402.1 529.7h6.67v5.90h-6.67zM415.3 541.4h6.67v5.90h-6.67zM382.2 547.2h6.67v5.90h-6.67zM388.8 553.1h6.67v5.90h-6.67zM382.2 559.0h6.67v5.90h-6.67z"/>
<path fill="#fcb094" d="M402.1 459.5h6.67v5.90h-6.67zM435.2 459.5h6.67v5.90h-6.67zM382.2 465.4h6.67v5.90h-6.67zM421.9 471.2h6.67v5.90h-6.67zM435.2 471.2h6.67v5.90h-6.67zM435.2 477.1h6.67v5.90h-6.67zM388.8 482.9h6.67v5.90h-6.67zM402.1 482.9h6.67v5.90h-6.67zM388.8 488.8h6.67v5.90h-6.67zM415.3 488.8h6.67v5.90h-6.67zM435.2 494.6h6.67v5.90h-6.67zM402.1 500.4h6.67v5.90h-6.67zM435.2 500.4h6.67v5.90h-6.67zM402.1 506.3h6.67v5.90h-6.67zM388.8 512.1h6.67v5.90h-6.67zM435.2 518.0h6.67v5.90h-6.67zM402.1 523.9h6.67v5.90h-6.67zM435.2 523.9h6.67v5.90h-6.67zM382.2 529.7h6.67v5.90h-6.67zM435.2 529.7h6.67v5.90h-6.67zM395.4 535.5h6.67v5.90h-6.67zM402.1 535.5h6.67v5.90h-6.67zM428.6 541.4h6.67v5.90h-6.67zM428.6 553.1h6.67v5.90h-6.67z"/>
<path fill="#fde0d3" d="M415.3 459.5h6.67v5.90h-6.67zM428.6 471.2h6.67v5.90h-6.67zM428.6 482.9h6.67v5.90h-6.67zM415.3 506.3h6.67v5.90h-6.67zM388.8 529.7h6.67v5.90h-6.67zM402.1 547.2h6.67v5.90h-6.67zM402.1 553.1h6.67v5.90h-6.67zM415.3 553.1h6.67v5.90h-6.67zM402.1 559.0h6.67v5.90h-6.67z"/>
<path fill="#5ab0e6" d="M421.9 465.4h6.67v5.90h-6.67z"/>
<path d="M382.20 447.80V564.80M388.82 447.80V564.80M395.44 447.80V564.80M402.07 447.80V564.80M408.69 447.80V564.80M415.31 447.80V564.80M421.93 447.80V564.80M428.56 447.80V564.80M435.18 447.80V564.80M441.80 447.80V564.80M382.20 447.80H441.80M382.20 453.65H441.80M382.20 459.50H441.80M382.20 465.35H441.80M382.20 471.20H441.80M382.20 477.05H441.80M382.20 482.90H441.80M382.20 488.75H441.80M382.20 494.60H441.80M382.20 500.45H441.80M382.20 506.30H441.80M382.20 512.15H441.80M382.20 518.00H441.80M382.20 523.85H441.80M382.20 529.70H441.80M382.20 535.55H441.80M382.20 541.40H441.80M382.20 547.25H441.80M382.20 553.10H441.80M382.20 558.95H441.80M382.20 564.80H441.80" stroke="#8e8e8e" stroke-width="0.85" fill="none"/>
<text transform="translate(412.00,445.40) scale(0.84,1)" font-size="11" text-anchor="middle" fill="#111">SVAR.59</text>
<text transform="translate(380.80,453.20) scale(0.9,1)" font-size="7" text-anchor="end" fill="#171c3a">A</text>
<text transform="translate(380.80,459.05) scale(0.9,1)" font-size="7" text-anchor="end" fill="#171c3a">R</text>
<text transform="translate(380.80,464.90) scale(0.9,1)" font-size="7" text-anchor="end" fill="#171c3a">N</text>
<text transform="translate(380.80,470.75) scale(0.9,1)" font-size="7" text-anchor="end" fill="#171c3a">D</text>
<text transform="translate(380.80,476.60) scale(0.9,1)" font-size="7" text-anchor="end" fill="#171c3a">C</text>
<text transform="translate(380.80,482.45) scale(0.9,1)" font-size="7" text-anchor="end" fill="#171c3a">E</text>
<text transform="translate(380.80,488.30) scale(0.9,1)" font-size="7" text-anchor="end" fill="#171c3a">Q</text>
<text transform="translate(380.80,494.15) scale(0.9,1)" font-size="7" text-anchor="end" fill="#171c3a">G</text>
<text transform="translate(380.80,500.00) scale(0.9,1)" font-size="7" text-anchor="end" fill="#171c3a">H</text>
<text transform="translate(380.80,505.85) scale(0.9,1)" font-size="7" text-anchor="end" fill="#171c3a">I</text>
<text transform="translate(380.80,511.70) scale(0.9,1)" font-size="7" text-anchor="end" fill="#171c3a">L</text>
<text transform="translate(380.80,517.55) scale(0.9,1)" font-size="7" text-anchor="end" fill="#171c3a">K</text>
<text transform="translate(380.80,523.40) scale(0.9,1)" font-size="7" text-anchor="end" fill="#171c3a">M</text>
<text transform="translate(380.80,529.25) scale(0.9,1)" font-size="7" text-anchor="end" fill="#171c3a">F</text>
<text transform="translate(380.80,535.10) scale(0.9,1)" font-size="7" text-anchor="end" fill="#171c3a">P</text>
<text transform="translate(380.80,540.95) scale(0.9,1)" font-size="7" text-anchor="end" fill="#171c3a">S</text>
<text transform="translate(380.80,546.80) scale(0.9,1)" font-size="7" text-anchor="end" fill="#171c3a">T</text>
<text transform="translate(380.80,552.65) scale(0.9,1)" font-size="7" text-anchor="end" fill="#171c3a">W</text>
<text transform="translate(380.80,558.50) scale(0.9,1)" font-size="7" text-anchor="end" fill="#171c3a">V</text>
<text transform="translate(380.80,564.35) scale(0.9,1)" font-size="7" text-anchor="end" fill="#171c3a">Y</text>
<text x="385.51" y="571.40" font-size="6.3" text-anchor="middle" font-weight="normal" fill="#1c2b52" >1</text>
<text x="392.13" y="571.40" font-size="6.3" text-anchor="middle" font-weight="normal" fill="#1c2b52" >2</text>
<text x="398.76" y="571.40" font-size="6.3" text-anchor="middle" font-weight="normal" fill="#1c2b52" >3</text>
<text x="405.38" y="571.40" font-size="6.3" text-anchor="middle" font-weight="normal" fill="#1c2b52" >4</text>
<text x="412.00" y="571.40" font-size="6.3" text-anchor="middle" font-weight="normal" fill="#1c2b52" >5</text>
<text x="418.62" y="571.40" font-size="6.3" text-anchor="middle" font-weight="normal" fill="#1c2b52" >6</text>
<text x="425.24" y="571.40" font-size="6.3" text-anchor="middle" font-weight="normal" fill="#1c2b52" >7</text>
<text x="431.87" y="571.40" font-size="6.3" text-anchor="middle" font-weight="normal" fill="#1c2b52" >8</text>
<text x="438.49" y="571.40" font-size="6.3" text-anchor="middle" font-weight="normal" fill="#1c2b52" >9</text>
<path fill="#a20314" d="M473.4 447.8h6.67v5.90h-6.67zM480.0 447.8h6.67v5.90h-6.67zM519.8 447.8h6.67v5.90h-6.67zM473.4 453.7h6.67v5.90h-6.67zM499.9 453.7h6.67v5.90h-6.67zM473.4 459.5h6.67v5.90h-6.67zM519.8 459.5h6.67v5.90h-6.67zM473.4 471.2h6.67v5.90h-6.67zM480.0 471.2h6.67v5.90h-6.67zM486.6 471.2h6.67v5.90h-6.67zM519.8 471.2h6.67v5.90h-6.67zM473.4 482.9h6.67v5.90h-6.67zM480.0 482.9h6.67v5.90h-6.67zM486.6 482.9h6.67v5.90h-6.67zM519.8 482.9h6.67v5.90h-6.67zM526.4 482.9h6.67v5.90h-6.67zM473.4 488.8h6.67v5.90h-6.67zM486.6 488.8h6.67v5.90h-6.67zM493.3 488.8h6.67v5.90h-6.67zM473.4 494.6h6.67v5.90h-6.67zM480.0 494.6h6.67v5.90h-6.67zM519.8 494.6h6.67v5.90h-6.67zM473.4 500.4h6.67v5.90h-6.67zM480.0 500.4h6.67v5.90h-6.67zM519.8 500.4h6.67v5.90h-6.67zM473.4 506.3h6.67v5.90h-6.67zM480.0 506.3h6.67v5.90h-6.67zM519.8 506.3h6.67v5.90h-6.67zM526.4 506.3h6.67v5.90h-6.67zM473.4 512.1h6.67v5.90h-6.67zM473.4 518.0h6.67v5.90h-6.67zM480.0 518.0h6.67v5.90h-6.67zM486.6 518.0h6.67v5.90h-6.67zM519.8 518.0h6.67v5.90h-6.67zM473.4 523.9h6.67v5.90h-6.67zM480.0 523.9h6.67v5.90h-6.67zM513.1 523.9h6.67v5.90h-6.67zM493.3 529.7h6.67v5.90h-6.67zM473.4 535.5h6.67v5.90h-6.67zM480.0 535.5h6.67v5.90h-6.67zM486.6 535.5h6.67v5.90h-6.67zM519.8 535.5h6.67v5.90h-6.67zM473.4 541.4h6.67v5.90h-6.67zM480.0 541.4h6.67v5.90h-6.67zM506.5 541.4h6.67v5.90h-6.67zM519.8 541.4h6.67v5.90h-6.67zM526.4 541.4h6.67v5.90h-6.67zM473.4 547.2h6.67v5.90h-6.67zM519.8 547.2h6.67v5.90h-6.67zM473.4 553.1h6.67v5.90h-6.67zM480.0 553.1h6.67v5.90h-6.67zM519.8 553.1h6.67v5.90h-6.67zM473.4 559.0h6.67v5.90h-6.67zM513.1 559.0h6.67v5.90h-6.67z"/>
<path fill="#fcb094" d="M486.6 447.8h6.67v5.90h-6.67zM526.4 447.8h6.67v5.90h-6.67zM480.0 459.5h6.67v5.90h-6.67zM486.6 500.4h6.67v5.90h-6.67zM486.6 506.3h6.67v5.90h-6.67zM513.1 506.3h6.67v5.90h-6.67zM480.0 529.7h6.67v5.90h-6.67zM486.6 553.1h6.67v5.90h-6.67z"/>
<path fill="#cae4f5" d="M493.3 447.8h6.67v5.90h-6.67zM526.4 453.7h6.67v5.90h-6.67zM493.3 459.5h6.67v5.90h-6.67zM480.0 477.1h6.67v5.90h-6.67zM506.5 482.9h6.67v5.90h-6.67zM506.5 506.3h6.67v5.90h-6.67zM526.4 559.0h6.67v5.90h-6.67z"/>
<path fill="#5ab0e6" d="M499.9 447.8h6.67v5.90h-6.67zM513.1 447.8h6.67v5.90h-6.67zM493.3 453.7h6.67v5.90h-6.67zM506.5 453.7h6.67v5.90h-6.67zM513.1 453.7h6.67v5.90h-6.67zM499.9 459.5h6.67v5.90h-6.67zM513.1 459.5h6.67v5.90h-6.67zM486.6 465.4h6.67v5.90h-6.67zM493.3 465.4h6.67v5.90h-6.67zM499.9 465.4h6.67v5.90h-6.67zM506.5 465.4h6.67v5.90h-6.67zM513.1 465.4h6.67v5.90h-6.67zM499.9 471.2h6.67v5.90h-6.67zM493.3 477.1h6.67v5.90h-6.67zM499.9 477.1h6.67v5.90h-6.67zM506.5 477.1h6.67v5.90h-6.67zM513.1 477.1h6.67v5.90h-6.67zM499.9 482.9h6.67v5.90h-6.67zM499.9 488.8h6.67v5.90h-6.67zM513.1 488.8h6.67v5.90h-6.67zM499.9 494.6h6.67v5.90h-6.67zM506.5 494.6h6.67v5.90h-6.67zM499.9 500.4h6.67v5.90h-6.67zM506.5 500.4h6.67v5.90h-6.67zM493.3 506.3h6.67v5.90h-6.67zM499.9 506.3h6.67v5.90h-6.67zM493.3 512.1h6.67v5.90h-6.67zM506.5 512.1h6.67v5.90h-6.67zM513.1 512.1h6.67v5.90h-6.67zM499.9 518.0h6.67v5.90h-6.67zM506.5 518.0h6.67v5.90h-6.67zM486.6 523.9h6.67v5.90h-6.67zM499.9 523.9h6.67v5.90h-6.67zM506.5 523.9h6.67v5.90h-6.67zM499.9 529.7h6.67v5.90h-6.67zM506.5 529.7h6.67v5.90h-6.67zM513.1 529.7h6.67v5.90h-6.67zM493.3 535.5h6.67v5.90h-6.67zM499.9 535.5h6.67v5.90h-6.67zM513.1 535.5h6.67v5.90h-6.67zM493.3 541.4h6.67v5.90h-6.67zM499.9 541.4h6.67v5.90h-6.67zM513.1 541.4h6.67v5.90h-6.67zM486.6 547.2h6.67v5.90h-6.67zM493.3 547.2h6.67v5.90h-6.67zM499.9 547.2h6.67v5.90h-6.67zM506.5 547.2h6.67v5.90h-6.67zM493.3 553.1h6.67v5.90h-6.67zM499.9 553.1h6.67v5.90h-6.67zM506.5 553.1h6.67v5.90h-6.67zM493.3 559.0h6.67v5.90h-6.67zM499.9 559.0h6.67v5.90h-6.67zM506.5 559.0h6.67v5.90h-6.67z"/>
<path fill="#fbf9f8" d="M506.5 447.8h6.67v5.90h-6.67zM480.0 465.4h6.67v5.90h-6.67zM493.3 482.9h6.67v5.90h-6.67zM513.1 494.6h6.67v5.90h-6.67zM513.1 500.4h6.67v5.90h-6.67zM480.0 547.2h6.67v5.90h-6.67zM513.1 547.2h6.67v5.90h-6.67zM513.1 553.1h6.67v5.90h-6.67z"/>
<path fill="#97cdef" d="M480.0 453.7h6.67v5.90h-6.67zM486.6 453.7h6.67v5.90h-6.67zM519.8 465.4h6.67v5.90h-6.67zM493.3 471.2h6.67v5.90h-6.67zM486.6 477.1h6.67v5.90h-6.67zM513.1 482.9h6.67v5.90h-6.67zM486.6 494.6h6.67v5.90h-6.67zM493.3 494.6h6.67v5.90h-6.67zM493.3 500.4h6.67v5.90h-6.67zM486.6 512.1h6.67v5.90h-6.67zM499.9 512.1h6.67v5.90h-6.67zM493.3 518.0h6.67v5.90h-6.67zM493.3 523.9h6.67v5.90h-6.67zM486.6 529.7h6.67v5.90h-6.67zM519.8 529.7h6.67v5.90h-6.67zM486.6 559.0h6.67v5.90h-6.67z"/>
<path fill="#d62a27" d="M519.8 453.7h6.67v5.90h-6.67zM473.4 477.1h6.67v5.90h-6.67zM526.4 477.1h6.67v5.90h-6.67zM506.5 488.8h6.67v5.90h-6.67zM526.4 500.4h6.67v5.90h-6.67zM480.0 512.1h6.67v5.90h-6.67zM526.4 518.0h6.67v5.90h-6.67zM519.8 523.9h6.67v5.90h-6.67zM473.4 529.7h6.67v5.90h-6.67zM526.4 553.1h6.67v5.90h-6.67z"/>
<path fill="#fde0d3" d="M486.6 459.5h6.67v5.90h-6.67zM526.4 465.4h6.67v5.90h-6.67zM513.1 471.2h6.67v5.90h-6.67zM519.8 477.1h6.67v5.90h-6.67zM526.4 488.8h6.67v5.90h-6.67zM526.4 512.1h6.67v5.90h-6.67zM513.1 518.0h6.67v5.90h-6.67zM506.5 535.5h6.67v5.90h-6.67zM486.6 541.4h6.67v5.90h-6.67zM526.4 547.2h6.67v5.90h-6.67zM480.0 559.0h6.67v5.90h-6.67z"/>
<path fill="#f66a47" d="M506.5 459.5h6.67v5.90h-6.67zM526.4 459.5h6.67v5.90h-6.67zM473.4 465.4h6.67v5.90h-6.67zM506.5 471.2h6.67v5.90h-6.67zM526.4 471.2h6.67v5.90h-6.67zM480.0 488.8h6.67v5.90h-6.67zM519.8 488.8h6.67v5.90h-6.67zM526.4 494.6h6.67v5.90h-6.67zM519.8 512.1h6.67v5.90h-6.67zM526.4 523.9h6.67v5.90h-6.67zM526.4 529.7h6.67v5.90h-6.67zM526.4 535.5h6.67v5.90h-6.67zM519.8 559.0h6.67v5.90h-6.67z"/>
<path d="M473.40 447.80V564.80M480.02 447.80V564.80M486.64 447.80V564.80M493.27 447.80V564.80M499.89 447.80V564.80M506.51 447.80V564.80M513.13 447.80V564.80M519.76 447.80V564.80M526.38 447.80V564.80M533.00 447.80V564.80M473.40 447.80H533.00M473.40 453.65H533.00M473.40 459.50H533.00M473.40 465.35H533.00M473.40 471.20H533.00M473.40 477.05H533.00M473.40 482.90H533.00M473.40 488.75H533.00M473.40 494.60H533.00M473.40 500.45H533.00M473.40 506.30H533.00M473.40 512.15H533.00M473.40 518.00H533.00M473.40 523.85H533.00M473.40 529.70H533.00M473.40 535.55H533.00M473.40 541.40H533.00M473.40 547.25H533.00M473.40 553.10H533.00M473.40 558.95H533.00M473.40 564.80H533.00" stroke="#8e8e8e" stroke-width="0.85" fill="none"/>
<text transform="translate(503.20,445.40) scale(0.84,1)" font-size="11" text-anchor="middle" fill="#111">SVAR.73</text>
<text transform="translate(472.00,453.20) scale(0.9,1)" font-size="7" text-anchor="end" fill="#171c3a">A</text>
<text transform="translate(472.00,459.05) scale(0.9,1)" font-size="7" text-anchor="end" fill="#171c3a">R</text>
<text transform="translate(472.00,464.90) scale(0.9,1)" font-size="7" text-anchor="end" fill="#171c3a">N</text>
<text transform="translate(472.00,470.75) scale(0.9,1)" font-size="7" text-anchor="end" fill="#171c3a">D</text>
<text transform="translate(472.00,476.60) scale(0.9,1)" font-size="7" text-anchor="end" fill="#171c3a">C</text>
<text transform="translate(472.00,482.45) scale(0.9,1)" font-size="7" text-anchor="end" fill="#171c3a">E</text>
<text transform="translate(472.00,488.30) scale(0.9,1)" font-size="7" text-anchor="end" fill="#171c3a">Q</text>
<text transform="translate(472.00,494.15) scale(0.9,1)" font-size="7" text-anchor="end" fill="#171c3a">G</text>
<text transform="translate(472.00,500.00) scale(0.9,1)" font-size="7" text-anchor="end" fill="#171c3a">H</text>
<text transform="translate(472.00,505.85) scale(0.9,1)" font-size="7" text-anchor="end" fill="#171c3a">I</text>
<text transform="translate(472.00,511.70) scale(0.9,1)" font-size="7" text-anchor="end" fill="#171c3a">L</text>
<text transform="translate(472.00,517.55) scale(0.9,1)" font-size="7" text-anchor="end" fill="#171c3a">K</text>
<text transform="translate(472.00,523.40) scale(0.9,1)" font-size="7" text-anchor="end" fill="#171c3a">M</text>
<text transform="translate(472.00,529.25) scale(0.9,1)" font-size="7" text-anchor="end" fill="#171c3a">F</text>
<text transform="translate(472.00,535.10) scale(0.9,1)" font-size="7" text-anchor="end" fill="#171c3a">P</text>
<text transform="translate(472.00,540.95) scale(0.9,1)" font-size="7" text-anchor="end" fill="#171c3a">S</text>
<text transform="translate(472.00,546.80) scale(0.9,1)" font-size="7" text-anchor="end" fill="#171c3a">T</text>
<text transform="translate(472.00,552.65) scale(0.9,1)" font-size="7" text-anchor="end" fill="#171c3a">W</text>
<text transform="translate(472.00,558.50) scale(0.9,1)" font-size="7" text-anchor="end" fill="#171c3a">V</text>
<text transform="translate(472.00,564.35) scale(0.9,1)" font-size="7" text-anchor="end" fill="#171c3a">Y</text>
<text x="476.71" y="571.40" font-size="6.3" text-anchor="middle" font-weight="normal" fill="#1c2b52" >1</text>
<text x="483.33" y="571.40" font-size="6.3" text-anchor="middle" font-weight="normal" fill="#1c2b52" >2</text>
<text x="489.96" y="571.40" font-size="6.3" text-anchor="middle" font-weight="normal" fill="#1c2b52" >3</text>
<text x="496.58" y="571.40" font-size="6.3" text-anchor="middle" font-weight="normal" fill="#1c2b52" >4</text>
<text x="503.20" y="571.40" font-size="6.3" text-anchor="middle" font-weight="normal" fill="#1c2b52" >5</text>
<text x="509.82" y="571.40" font-size="6.3" text-anchor="middle" font-weight="normal" fill="#1c2b52" >6</text>
<text x="516.44" y="571.40" font-size="6.3" text-anchor="middle" font-weight="normal" fill="#1c2b52" >7</text>
<text x="523.07" y="571.40" font-size="6.3" text-anchor="middle" font-weight="normal" fill="#1c2b52" >8</text>
<text x="529.69" y="571.40" font-size="6.3" text-anchor="middle" font-weight="normal" fill="#1c2b52" >9</text>
<path fill="#a20314" d="M565.5 447.8h6.67v5.90h-6.67zM572.1 447.8h6.67v5.90h-6.67zM592.0 453.7h6.67v5.90h-6.67zM565.5 471.2h6.67v5.90h-6.67zM578.7 482.9h6.67v5.90h-6.67zM585.4 488.8h6.67v5.90h-6.67zM565.5 500.4h6.67v5.90h-6.67zM572.1 500.4h6.67v5.90h-6.67zM565.5 506.3h6.67v5.90h-6.67zM572.1 506.3h6.67v5.90h-6.67zM611.9 506.3h6.67v5.90h-6.67zM618.5 506.3h6.67v5.90h-6.67zM565.5 518.0h6.67v5.90h-6.67zM572.1 518.0h6.67v5.90h-6.67zM578.7 518.0h6.67v5.90h-6.67zM611.9 518.0h6.67v5.90h-6.67zM565.5 523.9h6.67v5.90h-6.67zM572.1 523.9h6.67v5.90h-6.67zM605.2 523.9h6.67v5.90h-6.67zM611.9 523.9h6.67v5.90h-6.67zM585.4 529.7h6.67v5.90h-6.67zM572.1 535.5h6.67v5.90h-6.67zM598.6 541.4h6.67v5.90h-6.67zM565.5 547.2h6.67v5.90h-6.67zM611.9 553.1h6.67v5.90h-6.67zM565.5 559.0h6.67v5.90h-6.67z"/>
<path fill="#fde0d3" d="M578.7 447.8h6.67v5.90h-6.67zM585.4 447.8h6.67v5.90h-6.67zM572.1 459.5h6.67v5.90h-6.67zM618.5 465.4h6.67v5.90h-6.67zM605.2 471.2h6.67v5.90h-6.67zM618.5 488.8h6.67v5.90h-6.67zM578.7 500.4h6.67v5.90h-6.67zM618.5 523.9h6.67v5.90h-6.67zM572.1 529.7h6.67v5.90h-6.67zM605.2 547.2h6.67v5.90h-6.67zM618.5 547.2h6.67v5.90h-6.67zM578.7 553.1h6.67v5.90h-6.67z"/>
<path fill="#97cdef" d="M592.0 447.8h6.67v5.90h-6.67zM598.6 447.8h6.67v5.90h-6.67zM578.7 453.7h6.67v5.90h-6.67zM585.4 453.7h6.67v5.90h-6.67zM598.6 453.7h6.67v5.90h-6.67zM605.2 453.7h6.67v5.90h-6.67zM611.9 453.7h6.67v5.90h-6.67zM618.5 453.7h6.67v5.90h-6.67zM578.7 459.5h6.67v5.90h-6.67zM585.4 459.5h6.67v5.90h-6.67zM578.7 465.4h6.67v5.90h-6.67zM585.4 465.4h6.67v5.90h-6.67zM592.0 465.4h6.67v5.90h-6.67zM598.6 465.4h6.67v5.90h-6.67zM605.2 465.4h6.67v5.90h-6.67zM592.0 471.2h6.67v5.90h-6.67zM578.7 477.1h6.67v5.90h-6.67zM585.4 477.1h6.67v5.90h-6.67zM592.0 477.1h6.67v5.90h-6.67zM598.6 477.1h6.67v5.90h-6.67zM605.2 477.1h6.67v5.90h-6.67zM611.9 477.1h6.67v5.90h-6.67zM592.0 482.9h6.67v5.90h-6.67zM598.6 482.9h6.67v5.90h-6.67zM605.2 488.8h6.67v5.90h-6.67zM611.9 488.8h6.67v5.90h-6.67zM578.7 494.6h6.67v5.90h-6.67zM598.6 494.6h6.67v5.90h-6.67zM585.4 500.4h6.67v5.90h-6.67zM598.6 500.4h6.67v5.90h-6.67zM585.4 506.3h6.67v5.90h-6.67zM592.0 506.3h6.67v5.90h-6.67zM598.6 506.3h6.67v5.90h-6.67zM605.2 506.3h6.67v5.90h-6.67zM578.7 512.1h6.67v5.90h-6.67zM585.4 512.1h6.67v5.90h-6.67zM592.0 512.1h6.67v5.90h-6.67zM598.6 512.1h6.67v5.90h-6.67zM605.2 512.1h6.67v5.90h-6.67zM611.9 512.1h6.67v5.90h-6.67zM585.4 518.0h6.67v5.90h-6.67zM592.0 518.0h6.67v5.90h-6.67zM598.6 518.0h6.67v5.90h-6.67zM585.4 523.9h6.67v5.90h-6.67zM592.0 523.9h6.67v5.90h-6.67zM598.6 523.9h6.67v5.90h-6.67zM578.7 529.7h6.67v5.90h-6.67zM592.0 529.7h6.67v5.90h-6.67zM598.6 529.7h6.67v5.90h-6.67zM605.2 529.7h6.67v5.90h-6.67zM585.4 535.5h6.67v5.90h-6.67zM592.0 535.5h6.67v5.90h-6.67zM605.2 535.5h6.67v5.90h-6.67zM592.0 541.4h6.67v5.90h-6.67zM605.2 541.4h6.67v5.90h-6.67zM578.7 547.2h6.67v5.90h-6.67zM585.4 547.2h6.67v5.90h-6.67zM592.0 547.2h6.67v5.90h-6.67zM598.6 547.2h6.67v5.90h-6.67zM585.4 553.1h6.67v5.90h-6.67zM592.0 553.1h6.67v5.90h-6.67zM598.6 553.1h6.67v5.90h-6.67zM578.7 559.0h6.67v5.90h-6.67zM585.4 559.0h6.67v5.90h-6.67zM592.0 559.0h6.67v5.90h-6.67zM598.6 559.0h6.67v5.90h-6.67zM618.5 559.0h6.67v5.90h-6.67z"/>
<path fill="#5ab0e6" d="M605.2 447.8h6.67v5.90h-6.67zM592.0 459.5h6.67v5.90h-6.67zM605.2 459.5h6.67v5.90h-6.67zM611.9 465.4h6.67v5.90h-6.67zM592.0 488.8h6.67v5.90h-6.67zM592.0 494.6h6.67v5.90h-6.67zM592.0 500.4h6.67v5.90h-6.67zM578.7 523.9h6.67v5.90h-6.67zM585.4 541.4h6.67v5.90h-6.67z"/>
<path fill="#cae4f5" d="M611.9 447.8h6.67v5.90h-6.67zM572.1 453.7h6.67v5.90h-6.67zM572.1 465.4h6.67v5.90h-6.67zM585.4 471.2h6.67v5.90h-6.67zM598.6 471.2h6.67v5.90h-6.67zM572.1 477.1h6.67v5.90h-6.67zM605.2 482.9h6.67v5.90h-6.67zM598.6 488.8h6.67v5.90h-6.67zM585.4 494.6h6.67v5.90h-6.67zM605.2 500.4h6.67v5.90h-6.67zM578.7 506.3h6.67v5.90h-6.67zM598.6 535.5h6.67v5.90h-6.67zM578.7 541.4h6.67v5.90h-6.67z"/>
<path fill="#fcb094" d="M618.5 447.8h6.67v5.90h-6.67zM618.5 459.5h6.67v5.90h-6.67zM565.5 465.4h6.67v5.90h-6.67zM605.2 494.6h6.67v5.90h-6.67zM611.9 494.6h6.67v5.90h-6.67zM611.9 529.7h6.67v5.90h-6.67zM578.7 535.5h6.67v5.90h-6.67zM618.5 535.5h6.67v5.90h-6.67zM611.9 541.4h6.67v5.90h-6.67z"/>
<path fill="#d62a27" d="M565.5 453.7h6.67v5.90h-6.67zM565.5 459.5h6.67v5.90h-6.67zM572.1 471.2h6.67v5.90h-6.67zM565.5 482.9h6.67v5.90h-6.67zM572.1 482.9h6.67v5.90h-6.67zM611.9 482.9h6.67v5.90h-6.67zM565.5 488.8h6.67v5.90h-6.67zM565.5 494.6h6.67v5.90h-6.67zM572.1 494.6h6.67v5.90h-6.67zM611.9 500.4h6.67v5.90h-6.67zM565.5 512.1h6.67v5.90h-6.67zM565.5 535.5h6.67v5.90h-6.67zM565.5 541.4h6.67v5.90h-6.67zM572.1 541.4h6.67v5.90h-6.67zM618.5 541.4h6.67v5.90h-6.67zM565.5 553.1h6.67v5.90h-6.67zM572.1 553.1h6.67v5.90h-6.67zM605.2 559.0h6.67v5.90h-6.67z"/>
<path fill="#fbf9f8" d="M598.6 459.5h6.67v5.90h-6.67zM611.9 459.5h6.67v5.90h-6.67zM585.4 482.9h6.67v5.90h-6.67zM618.5 512.1h6.67v5.90h-6.67zM611.9 535.5h6.67v5.90h-6.67zM572.1 547.2h6.67v5.90h-6.67zM611.9 547.2h6.67v5.90h-6.67zM605.2 553.1h6.67v5.90h-6.67zM572.1 559.0h6.67v5.90h-6.67z"/>
<path fill="#f66a47" d="M578.7 471.2h6.67v5.90h-6.67zM611.9 471.2h6.67v5.90h-6.67zM618.5 471.2h6.67v5.90h-6.67zM565.5 477.1h6.67v5.90h-6.67zM618.5 477.1h6.67v5.90h-6.67zM618.5 482.9h6.67v5.90h-6.67zM572.1 488.8h6.67v5.90h-6.67zM578.7 488.8h6.67v5.90h-6.67zM618.5 494.6h6.67v5.90h-6.67zM618.5 500.4h6.67v5.90h-6.67zM572.1 512.1h6.67v5.90h-6.67zM605.2 518.0h6.67v5.90h-6.67zM618.5 518.0h6.67v5.90h-6.67zM565.5 529.7h6.67v5.90h-6.67zM618.5 529.7h6.67v5.90h-6.67zM618.5 553.1h6.67v5.90h-6.67zM611.9 559.0h6.67v5.90h-6.67z"/>
<path d="M565.50 447.80V564.80M572.12 447.80V564.80M578.74 447.80V564.80M585.37 447.80V564.80M591.99 447.80V564.80M598.61 447.80V564.80M605.23 447.80V564.80M611.86 447.80V564.80M618.48 447.80V564.80M625.10 447.80V564.80M565.50 447.80H625.10M565.50 453.65H625.10M565.50 459.50H625.10M565.50 465.35H625.10M565.50 471.20H625.10M565.50 477.05H625.10M565.50 482.90H625.10M565.50 488.75H625.10M565.50 494.60H625.10M565.50 500.45H625.10M565.50 506.30H625.10M565.50 512.15H625.10M565.50 518.00H625.10M565.50 523.85H625.10M565.50 529.70H625.10M565.50 535.55H625.10M565.50 541.40H625.10M565.50 547.25H625.10M565.50 553.10H625.10M565.50 558.95H625.10M565.50 564.80H625.10" stroke="#8e8e8e" stroke-width="0.85" fill="none"/>
<text transform="translate(595.30,445.40) scale(0.84,1)" font-size="11" text-anchor="middle" fill="#111">SVAR.74</text>
<text transform="translate(564.10,453.20) scale(0.9,1)" font-size="7" text-anchor="end" fill="#171c3a">A</text>
<text transform="translate(564.10,459.05) scale(0.9,1)" font-size="7" text-anchor="end" fill="#171c3a">R</text>
<text transform="translate(564.10,464.90) scale(0.9,1)" font-size="7" text-anchor="end" fill="#171c3a">N</text>
<text transform="translate(564.10,470.75) scale(0.9,1)" font-size="7" text-anchor="end" fill="#171c3a">D</text>
<text transform="translate(564.10,476.60) scale(0.9,1)" font-size="7" text-anchor="end" fill="#171c3a">C</text>
<text transform="translate(564.10,482.45) scale(0.9,1)" font-size="7" text-anchor="end" fill="#171c3a">E</text>
<text transform="translate(564.10,488.30) scale(0.9,1)" font-size="7" text-anchor="end" fill="#171c3a">Q</text>
<text transform="translate(564.10,494.15) scale(0.9,1)" font-size="7" text-anchor="end" fill="#171c3a">G</text>
<text transform="translate(564.10,500.00) scale(0.9,1)" font-size="7" text-anchor="end" fill="#171c3a">H</text>
<text transform="translate(564.10,505.85) scale(0.9,1)" font-size="7" text-anchor="end" fill="#171c3a">I</text>
<text transform="translate(564.10,511.70) scale(0.9,1)" font-size="7" text-anchor="end" fill="#171c3a">L</text>
<text transform="translate(564.10,517.55) scale(0.9,1)" font-size="7" text-anchor="end" fill="#171c3a">K</text>
<text transform="translate(564.10,523.40) scale(0.9,1)" font-size="7" text-anchor="end" fill="#171c3a">M</text>
<text transform="translate(564.10,529.25) scale(0.9,1)" font-size="7" text-anchor="end" fill="#171c3a">F</text>
<text transform="translate(564.10,535.10) scale(0.9,1)" font-size="7" text-anchor="end" fill="#171c3a">P</text>
<text transform="translate(564.10,540.95) scale(0.9,1)" font-size="7" text-anchor="end" fill="#171c3a">S</text>
<text transform="translate(564.10,546.80) scale(0.9,1)" font-size="7" text-anchor="end" fill="#171c3a">T</text>
<text transform="translate(564.10,552.65) scale(0.9,1)" font-size="7" text-anchor="end" fill="#171c3a">W</text>
<text transform="translate(564.10,558.50) scale(0.9,1)" font-size="7" text-anchor="end" fill="#171c3a">V</text>
<text transform="translate(564.10,564.35) scale(0.9,1)" font-size="7" text-anchor="end" fill="#171c3a">Y</text>
<text x="568.81" y="571.40" font-size="6.3" text-anchor="middle" font-weight="normal" fill="#1c2b52" >1</text>
<text x="575.43" y="571.40" font-size="6.3" text-anchor="middle" font-weight="normal" fill="#1c2b52" >2</text>
<text x="582.06" y="571.40" font-size="6.3" text-anchor="middle" font-weight="normal" fill="#1c2b52" >3</text>
<text x="588.68" y="571.40" font-size="6.3" text-anchor="middle" font-weight="normal" fill="#1c2b52" >4</text>
<text x="595.30" y="571.40" font-size="6.3" text-anchor="middle" font-weight="normal" fill="#1c2b52" >5</text>
<text x="601.92" y="571.40" font-size="6.3" text-anchor="middle" font-weight="normal" fill="#1c2b52" >6</text>
<text x="608.54" y="571.40" font-size="6.3" text-anchor="middle" font-weight="normal" fill="#1c2b52" >7</text>
<text x="615.17" y="571.40" font-size="6.3" text-anchor="middle" font-weight="normal" fill="#1c2b52" >8</text>
<text x="621.79" y="571.40" font-size="6.3" text-anchor="middle" font-weight="normal" fill="#1c2b52" >9</text>
<path fill="#a20314" d="M290.0 591.3h6.67v5.90h-6.67zM290.0 597.1h6.67v5.90h-6.67zM316.5 597.1h6.67v5.90h-6.67zM290.0 614.7h6.67v5.90h-6.67zM290.0 626.4h6.67v5.90h-6.67zM303.2 626.4h6.67v5.90h-6.67zM290.0 632.2h6.67v5.90h-6.67zM309.9 632.2h6.67v5.90h-6.67zM309.9 638.1h6.67v5.90h-6.67zM290.0 643.9h6.67v5.90h-6.67zM296.6 643.9h6.67v5.90h-6.67zM336.4 643.9h6.67v5.90h-6.67zM290.0 649.8h6.67v5.90h-6.67zM296.6 649.8h6.67v5.90h-6.67zM336.4 649.8h6.67v5.90h-6.67zM343.0 649.8h6.67v5.90h-6.67zM290.0 655.6h6.67v5.90h-6.67zM290.0 661.5h6.67v5.90h-6.67zM296.6 661.5h6.67v5.90h-6.67zM303.2 661.5h6.67v5.90h-6.67zM290.0 667.3h6.67v5.90h-6.67zM296.6 667.3h6.67v5.90h-6.67zM329.7 667.3h6.67v5.90h-6.67zM309.9 673.2h6.67v5.90h-6.67zM290.0 684.9h6.67v5.90h-6.67zM323.1 684.9h6.67v5.90h-6.67zM290.0 690.8h6.67v5.90h-6.67zM290.0 696.6h6.67v5.90h-6.67zM336.4 696.6h6.67v5.90h-6.67zM290.0 702.4h6.67v5.90h-6.67z"/>
<path fill="#d62a27" d="M296.6 591.3h6.67v5.90h-6.67zM309.9 597.1h6.67v5.90h-6.67zM290.0 603.0h6.67v5.90h-6.67zM296.6 614.7h6.67v5.90h-6.67zM290.0 620.5h6.67v5.90h-6.67zM290.0 638.1h6.67v5.90h-6.67zM296.6 638.1h6.67v5.90h-6.67zM336.4 661.5h6.67v5.90h-6.67zM290.0 673.2h6.67v5.90h-6.67zM290.0 679.0h6.67v5.90h-6.67zM296.6 679.0h6.67v5.90h-6.67zM296.6 684.9h6.67v5.90h-6.67zM336.4 684.9h6.67v5.90h-6.67zM343.0 684.9h6.67v5.90h-6.67zM296.6 696.6h6.67v5.90h-6.67zM329.7 702.4h6.67v5.90h-6.67z"/>
<path fill="#fde0d3" d="M303.2 591.3h6.67v5.90h-6.67zM336.4 591.3h6.67v5.90h-6.67zM296.6 603.0h6.67v5.90h-6.67zM343.0 608.8h6.67v5.90h-6.67zM309.9 614.7h6.67v5.90h-6.67zM323.1 614.7h6.67v5.90h-6.67zM309.9 626.4h6.67v5.90h-6.67zM303.2 632.2h6.67v5.90h-6.67zM343.0 632.2h6.67v5.90h-6.67zM303.2 643.9h6.67v5.90h-6.67zM323.1 643.9h6.67v5.90h-6.67zM323.1 649.8h6.67v5.90h-6.67zM296.6 673.2h6.67v5.90h-6.67zM343.0 690.8h6.67v5.90h-6.67zM303.2 696.6h6.67v5.90h-6.67z"/>
<path fill="#fcb094" d="M309.9 591.3h6.67v5.90h-6.67zM343.0 591.3h6.67v5.90h-6.67zM309.9 603.0h6.67v5.90h-6.67zM343.0 603.0h6.67v5.90h-6.67zM303.2 614.7h6.67v5.90h-6.67zM296.6 626.4h6.67v5.90h-6.67zM296.6 632.2h6.67v5.90h-6.67zM329.7 638.1h6.67v5.90h-6.67zM296.6 655.6h6.67v5.90h-6.67zM309.9 655.6h6.67v5.90h-6.67zM329.7 661.5h6.67v5.90h-6.67zM343.0 667.3h6.67v5.90h-6.67zM343.0 679.0h6.67v5.90h-6.67zM329.7 690.8h6.67v5.90h-6.67zM323.1 696.6h6.67v5.90h-6.67z"/>
<path fill="#97cdef" d="M316.5 591.3h6.67v5.90h-6.67zM329.7 591.3h6.67v5.90h-6.67zM303.2 597.1h6.67v5.90h-6.67zM323.1 597.1h6.67v5.90h-6.67zM329.7 597.1h6.67v5.90h-6.67zM303.2 603.0h6.67v5.90h-6.67zM316.5 603.0h6.67v5.90h-6.67zM329.7 603.0h6.67v5.90h-6.67zM303.2 608.8h6.67v5.90h-6.67zM309.9 608.8h6.67v5.90h-6.67zM316.5 608.8h6.67v5.90h-6.67zM323.1 608.8h6.67v5.90h-6.67zM329.7 608.8h6.67v5.90h-6.67zM336.4 608.8h6.67v5.90h-6.67zM316.5 614.7h6.67v5.90h-6.67zM309.9 620.5h6.67v5.90h-6.67zM316.5 620.5h6.67v5.90h-6.67zM323.1 620.5h6.67v5.90h-6.67zM329.7 620.5h6.67v5.90h-6.67zM316.5 626.4h6.67v5.90h-6.67zM323.1 626.4h6.67v5.90h-6.67zM329.7 626.4h6.67v5.90h-6.67zM316.5 632.2h6.67v5.90h-6.67zM329.7 632.2h6.67v5.90h-6.67zM303.2 638.1h6.67v5.90h-6.67zM316.5 638.1h6.67v5.90h-6.67zM323.1 638.1h6.67v5.90h-6.67zM316.5 643.9h6.67v5.90h-6.67zM316.5 649.8h6.67v5.90h-6.67zM316.5 655.6h6.67v5.90h-6.67zM323.1 655.6h6.67v5.90h-6.67zM329.7 655.6h6.67v5.90h-6.67zM336.4 655.6h6.67v5.90h-6.67zM316.5 661.5h6.67v5.90h-6.67zM303.2 667.3h6.67v5.90h-6.67zM316.5 667.3h6.67v5.90h-6.67zM316.5 673.2h6.67v5.90h-6.67zM323.1 673.2h6.67v5.90h-6.67zM329.7 673.2h6.67v5.90h-6.67zM336.4 673.2h6.67v5.90h-6.67zM316.5 679.0h6.67v5.90h-6.67zM329.7 679.0h6.67v5.90h-6.67zM316.5 684.9h6.67v5.90h-6.67zM329.7 684.9h6.67v5.90h-6.67zM303.2 690.8h6.67v5.90h-6.67zM309.9 690.8h6.67v5.90h-6.67zM316.5 690.8h6.67v5.90h-6.67zM323.1 690.8h6.67v5.90h-6.67zM309.9 696.6h6.67v5.90h-6.67zM316.5 696.6h6.67v5.90h-6.67zM303.2 702.4h6.67v5.90h-6.67zM309.9 702.4h6.67v5.90h-6.67zM316.5 702.4h6.67v5.90h-6.67zM336.4 702.4h6.67v5.90h-6.67z"/>
<path fill="#cae4f5" d="M323.1 591.3h6.67v5.90h-6.67zM296.6 597.1h6.67v5.90h-6.67zM336.4 597.1h6.67v5.90h-6.67zM343.0 597.1h6.67v5.90h-6.67zM323.1 603.0h6.67v5.90h-6.67zM296.6 620.5h6.67v5.90h-6.67zM303.2 620.5h6.67v5.90h-6.67zM336.4 632.2h6.67v5.90h-6.67zM336.4 638.1h6.67v5.90h-6.67zM309.9 643.9h6.67v5.90h-6.67zM329.7 643.9h6.67v5.90h-6.67zM309.9 649.8h6.67v5.90h-6.67zM329.7 649.8h6.67v5.90h-6.67zM303.2 655.6h6.67v5.90h-6.67zM309.9 661.5h6.67v5.90h-6.67zM309.9 667.3h6.67v5.90h-6.67zM303.2 673.2h6.67v5.90h-6.67zM323.1 679.0h6.67v5.90h-6.67zM309.9 684.9h6.67v5.90h-6.67zM336.4 690.8h6.67v5.90h-6.67zM343.0 702.4h6.67v5.90h-6.67z"/>
<path fill="#fbf9f8" d="M336.4 603.0h6.67v5.90h-6.67zM296.6 608.8h6.67v5.90h-6.67zM329.7 614.7h6.67v5.90h-6.67zM336.4 620.5h6.67v5.90h-6.67zM323.1 632.2h6.67v5.90h-6.67zM303.2 649.8h6.67v5.90h-6.67zM343.0 655.6h6.67v5.90h-6.67zM323.1 661.5h6.67v5.90h-6.67zM336.4 667.3h6.67v5.90h-6.67zM309.9 679.0h6.67v5.90h-6.67zM303.2 684.9h6.67v5.90h-6.67zM296.6 690.8h6.67v5.90h-6.67zM329.7 696.6h6.67v5.90h-6.67zM296.6 702.4h6.67v5.90h-6.67z"/>
<path fill="#f66a47" d="M290.0 608.8h6.67v5.90h-6.67zM336.4 614.7h6.67v5.90h-6.67zM343.0 614.7h6.67v5.90h-6.67zM343.0 620.5h6.67v5.90h-6.67zM336.4 626.4h6.67v5.90h-6.67zM343.0 626.4h6.67v5.90h-6.67zM343.0 638.1h6.67v5.90h-6.67zM343.0 643.9h6.67v5.90h-6.67zM343.0 661.5h6.67v5.90h-6.67zM323.1 667.3h6.67v5.90h-6.67zM343.0 673.2h6.67v5.90h-6.67zM303.2 679.0h6.67v5.90h-6.67zM336.4 679.0h6.67v5.90h-6.67zM343.0 696.6h6.67v5.90h-6.67zM323.1 702.4h6.67v5.90h-6.67z"/>
<path d="M290.00 591.30V708.30M296.62 591.30V708.30M303.24 591.30V708.30M309.87 591.30V708.30M316.49 591.30V708.30M323.11 591.30V708.30M329.73 591.30V708.30M336.36 591.30V708.30M342.98 591.30V708.30M349.60 591.30V708.30M290.00 591.30H349.60M290.00 597.15H349.60M290.00 603.00H349.60M290.00 608.85H349.60M290.00 614.70H349.60M290.00 620.55H349.60M290.00 626.40H349.60M290.00 632.25H349.60M290.00 638.10H349.60M290.00 643.95H349.60M290.00 649.80H349.60M290.00 655.65H349.60M290.00 661.50H349.60M290.00 667.35H349.60M290.00 673.20H349.60M290.00 679.05H349.60M290.00 684.90H349.60M290.00 690.75H349.60M290.00 696.60H349.60M290.00 702.45H349.60M290.00 708.30H349.60" stroke="#8e8e8e" stroke-width="0.85" fill="none"/>
<text transform="translate(319.80,588.90) scale(0.84,1)" font-size="11" text-anchor="middle" fill="#111">SVAR.75</text>
<text transform="translate(288.60,596.70) scale(0.9,1)" font-size="7" text-anchor="end" fill="#171c3a">A</text>
<text transform="translate(288.60,602.55) scale(0.9,1)" font-size="7" text-anchor="end" fill="#171c3a">R</text>
<text transform="translate(288.60,608.40) scale(0.9,1)" font-size="7" text-anchor="end" fill="#171c3a">N</text>
<text transform="translate(288.60,614.25) scale(0.9,1)" font-size="7" text-anchor="end" fill="#171c3a">D</text>
<text transform="translate(288.60,620.10) scale(0.9,1)" font-size="7" text-anchor="end" fill="#171c3a">C</text>
<text transform="translate(288.60,625.95) scale(0.9,1)" font-size="7" text-anchor="end" fill="#171c3a">E</text>
<text transform="translate(288.60,631.80) scale(0.9,1)" font-size="7" text-anchor="end" fill="#171c3a">Q</text>
<text transform="translate(288.60,637.65) scale(0.9,1)" font-size="7" text-anchor="end" fill="#171c3a">G</text>
<text transform="translate(288.60,643.50) scale(0.9,1)" font-size="7" text-anchor="end" fill="#171c3a">H</text>
<text transform="translate(288.60,649.35) scale(0.9,1)" font-size="7" text-anchor="end" fill="#171c3a">I</text>
<text transform="translate(288.60,655.20) scale(0.9,1)" font-size="7" text-anchor="end" fill="#171c3a">L</text>
<text transform="translate(288.60,661.05) scale(0.9,1)" font-size="7" text-anchor="end" fill="#171c3a">K</text>
<text transform="translate(288.60,666.90) scale(0.9,1)" font-size="7" text-anchor="end" fill="#171c3a">M</text>
<text transform="translate(288.60,672.75) scale(0.9,1)" font-size="7" text-anchor="end" fill="#171c3a">F</text>
<text transform="translate(288.60,678.60) scale(0.9,1)" font-size="7" text-anchor="end" fill="#171c3a">P</text>
<text transform="translate(288.60,684.45) scale(0.9,1)" font-size="7" text-anchor="end" fill="#171c3a">S</text>
<text transform="translate(288.60,690.30) scale(0.9,1)" font-size="7" text-anchor="end" fill="#171c3a">T</text>
<text transform="translate(288.60,696.15) scale(0.9,1)" font-size="7" text-anchor="end" fill="#171c3a">W</text>
<text transform="translate(288.60,702.00) scale(0.9,1)" font-size="7" text-anchor="end" fill="#171c3a">V</text>
<text transform="translate(288.60,707.85) scale(0.9,1)" font-size="7" text-anchor="end" fill="#171c3a">Y</text>
<text x="293.31" y="714.90" font-size="6.3" text-anchor="middle" font-weight="normal" fill="#1c2b52" >1</text>
<text x="299.93" y="714.90" font-size="6.3" text-anchor="middle" font-weight="normal" fill="#1c2b52" >2</text>
<text x="306.56" y="714.90" font-size="6.3" text-anchor="middle" font-weight="normal" fill="#1c2b52" >3</text>
<text x="313.18" y="714.90" font-size="6.3" text-anchor="middle" font-weight="normal" fill="#1c2b52" >4</text>
<text x="319.80" y="714.90" font-size="6.3" text-anchor="middle" font-weight="normal" fill="#1c2b52" >5</text>
<text x="326.42" y="714.90" font-size="6.3" text-anchor="middle" font-weight="normal" fill="#1c2b52" >6</text>
<text x="333.04" y="714.90" font-size="6.3" text-anchor="middle" font-weight="normal" fill="#1c2b52" >7</text>
<text x="339.67" y="714.90" font-size="6.3" text-anchor="middle" font-weight="normal" fill="#1c2b52" >8</text>
<text x="346.29" y="714.90" font-size="6.3" text-anchor="middle" font-weight="normal" fill="#1c2b52" >9</text>
<path fill="#fcb094" d="M382.2 591.3h6.67v5.90h-6.67zM388.8 591.3h6.67v5.90h-6.67zM388.8 614.7h6.67v5.90h-6.67zM435.2 620.5h6.67v5.90h-6.67zM382.2 643.9h6.67v5.90h-6.67zM382.2 696.6h6.67v5.90h-6.67zM435.2 696.6h6.67v5.90h-6.67z"/>
<path fill="#5ab0e6" d="M395.4 591.3h6.67v5.90h-6.67zM408.7 591.3h6.67v5.90h-6.67zM428.6 591.3h6.67v5.90h-6.67zM435.2 591.3h6.67v5.90h-6.67zM388.8 597.1h6.67v5.90h-6.67zM395.4 597.1h6.67v5.90h-6.67zM402.1 597.1h6.67v5.90h-6.67zM415.3 597.1h6.67v5.90h-6.67zM395.4 603.0h6.67v5.90h-6.67zM408.7 603.0h6.67v5.90h-6.67zM415.3 603.0h6.67v5.90h-6.67zM428.6 603.0h6.67v5.90h-6.67zM395.4 608.8h6.67v5.90h-6.67zM402.1 608.8h6.67v5.90h-6.67zM408.7 608.8h6.67v5.90h-6.67zM415.3 608.8h6.67v5.90h-6.67zM395.4 614.7h6.67v5.90h-6.67zM408.7 614.7h6.67v5.90h-6.67zM415.3 614.7h6.67v5.90h-6.67zM395.4 620.5h6.67v5.90h-6.67zM402.1 620.5h6.67v5.90h-6.67zM408.7 620.5h6.67v5.90h-6.67zM408.7 626.4h6.67v5.90h-6.67zM421.9 626.4h6.67v5.90h-6.67zM408.7 632.2h6.67v5.90h-6.67zM415.3 632.2h6.67v5.90h-6.67zM428.6 632.2h6.67v5.90h-6.67zM395.4 638.1h6.67v5.90h-6.67zM402.1 638.1h6.67v5.90h-6.67zM408.7 638.1h6.67v5.90h-6.67zM415.3 638.1h6.67v5.90h-6.67zM428.6 638.1h6.67v5.90h-6.67zM395.4 643.9h6.67v5.90h-6.67zM402.1 643.9h6.67v5.90h-6.67zM408.7 643.9h6.67v5.90h-6.67zM421.9 643.9h6.67v5.90h-6.67zM395.4 649.8h6.67v5.90h-6.67zM402.1 649.8h6.67v5.90h-6.67zM408.7 649.8h6.67v5.90h-6.67zM421.9 649.8h6.67v5.90h-6.67zM395.4 655.6h6.67v5.90h-6.67zM402.1 655.6h6.67v5.90h-6.67zM428.6 655.6h6.67v5.90h-6.67zM402.1 661.5h6.67v5.90h-6.67zM408.7 661.5h6.67v5.90h-6.67zM421.9 661.5h6.67v5.90h-6.67zM395.4 667.3h6.67v5.90h-6.67zM402.1 667.3h6.67v5.90h-6.67zM415.3 667.3h6.67v5.90h-6.67zM428.6 667.3h6.67v5.90h-6.67zM395.4 673.2h6.67v5.90h-6.67zM415.3 673.2h6.67v5.90h-6.67zM428.6 673.2h6.67v5.90h-6.67zM415.3 679.0h6.67v5.90h-6.67zM421.9 679.0h6.67v5.90h-6.67zM428.6 679.0h6.67v5.90h-6.67zM395.4 684.9h6.67v5.90h-6.67zM428.6 684.9h6.67v5.90h-6.67zM388.8 690.8h6.67v5.90h-6.67zM395.4 690.8h6.67v5.90h-6.67zM435.2 690.8h6.67v5.90h-6.67zM395.4 696.6h6.67v5.90h-6.67zM402.1 696.6h6.67v5.90h-6.67zM415.3 696.6h6.67v5.90h-6.67zM421.9 696.6h6.67v5.90h-6.67zM395.4 702.4h6.67v5.90h-6.67zM402.1 702.4h6.67v5.90h-6.67zM415.3 702.4h6.67v5.90h-6.67zM428.6 702.4h6.67v5.90h-6.67z"/>
<path fill="#fbf9f8" d="M402.1 591.3h6.67v5.90h-6.67zM382.2 603.0h6.67v5.90h-6.67zM435.2 603.0h6.67v5.90h-6.67zM435.2 614.7h6.67v5.90h-6.67zM382.2 620.5h6.67v5.90h-6.67zM388.8 626.4h6.67v5.90h-6.67zM388.8 632.2h6.67v5.90h-6.67zM382.2 638.1h6.67v5.90h-6.67zM388.8 638.1h6.67v5.90h-6.67zM435.2 661.5h6.67v5.90h-6.67zM435.2 667.3h6.67v5.90h-6.67zM382.2 673.2h6.67v5.90h-6.67zM388.8 684.9h6.67v5.90h-6.67z"/>
<path fill="#3e9cdc" d="M415.3 591.3h6.67v5.90h-6.67zM421.9 597.1h6.67v5.90h-6.67zM428.6 597.1h6.67v5.90h-6.67zM435.2 597.1h6.67v5.90h-6.67zM421.9 603.0h6.67v5.90h-6.67zM428.6 608.8h6.67v5.90h-6.67zM435.2 608.8h6.67v5.90h-6.67zM428.6 614.7h6.67v5.90h-6.67zM415.3 620.5h6.67v5.90h-6.67zM421.9 620.5h6.67v5.90h-6.67zM428.6 620.5h6.67v5.90h-6.67zM415.3 626.4h6.67v5.90h-6.67zM428.6 626.4h6.67v5.90h-6.67zM421.9 632.2h6.67v5.90h-6.67zM435.2 632.2h6.67v5.90h-6.67zM421.9 638.1h6.67v5.90h-6.67zM415.3 643.9h6.67v5.90h-6.67zM415.3 649.8h6.67v5.90h-6.67zM408.7 655.6h6.67v5.90h-6.67zM415.3 655.6h6.67v5.90h-6.67zM415.3 661.5h6.67v5.90h-6.67zM408.7 667.3h6.67v5.90h-6.67zM408.7 673.2h6.67v5.90h-6.67zM421.9 673.2h6.67v5.90h-6.67zM408.7 679.0h6.67v5.90h-6.67zM435.2 679.0h6.67v5.90h-6.67zM421.9 684.9h6.67v5.90h-6.67zM408.7 690.8h6.67v5.90h-6.67zM415.3 690.8h6.67v5.90h-6.67zM421.9 690.8h6.67v5.90h-6.67zM408.7 696.6h6.67v5.90h-6.67zM408.7 702.4h6.67v5.90h-6.67zM435.2 702.4h6.67v5.90h-6.67z"/>
<path fill="#2a88cd" d="M421.9 591.3h6.67v5.90h-6.67zM421.9 608.8h6.67v5.90h-6.67zM421.9 655.6h6.67v5.90h-6.67zM408.7 684.9h6.67v5.90h-6.67zM428.6 690.8h6.67v5.90h-6.67z"/>
<path fill="#ec4331" d="M382.2 597.1h6.67v5.90h-6.67zM408.7 597.1h6.67v5.90h-6.67zM395.4 626.4h6.67v5.90h-6.67zM382.2 649.8h6.67v5.90h-6.67zM388.8 649.8h6.67v5.90h-6.67zM428.6 649.8h6.67v5.90h-6.67zM435.2 649.8h6.67v5.90h-6.67zM382.2 667.3h6.67v5.90h-6.67zM421.9 667.3h6.67v5.90h-6.67zM402.1 673.2h6.67v5.90h-6.67zM415.3 684.9h6.67v5.90h-6.67zM382.2 702.4h6.67v5.90h-6.67z"/>
<path fill="#97cdef" d="M388.8 603.0h6.67v5.90h-6.67zM402.1 603.0h6.67v5.90h-6.67zM388.8 608.8h6.67v5.90h-6.67zM402.1 614.7h6.67v5.90h-6.67zM421.9 614.7h6.67v5.90h-6.67zM388.8 620.5h6.67v5.90h-6.67zM395.4 632.2h6.67v5.90h-6.67zM435.2 655.6h6.67v5.90h-6.67zM388.8 673.2h6.67v5.90h-6.67zM402.1 684.9h6.67v5.90h-6.67zM388.8 702.4h6.67v5.90h-6.67z"/>
<path fill="#cae4f5" d="M382.2 608.8h6.67v5.90h-6.67zM402.1 626.4h6.67v5.90h-6.67zM388.8 655.6h6.67v5.90h-6.67zM435.2 673.2h6.67v5.90h-6.67zM395.4 679.0h6.67v5.90h-6.67zM402.1 679.0h6.67v5.90h-6.67zM402.1 690.8h6.67v5.90h-6.67z"/>
<path fill="#fde0d3" d="M382.2 614.7h6.67v5.90h-6.67zM382.2 626.4h6.67v5.90h-6.67zM382.2 632.2h6.67v5.90h-6.67zM435.2 638.1h6.67v5.90h-6.67zM435.2 643.9h6.67v5.90h-6.67zM428.6 661.5h6.67v5.90h-6.67zM382.2 679.0h6.67v5.90h-6.67zM388.8 679.0h6.67v5.90h-6.67zM382.2 684.9h6.67v5.90h-6.67zM428.6 696.6h6.67v5.90h-6.67z"/>
<path fill="#f66a47" d="M435.2 626.4h6.67v5.90h-6.67zM402.1 632.2h6.67v5.90h-6.67zM388.8 643.9h6.67v5.90h-6.67zM428.6 643.9h6.67v5.90h-6.67zM382.2 655.6h6.67v5.90h-6.67zM382.2 661.5h6.67v5.90h-6.67zM388.8 661.5h6.67v5.90h-6.67zM395.4 661.5h6.67v5.90h-6.67zM388.8 667.3h6.67v5.90h-6.67zM435.2 684.9h6.67v5.90h-6.67zM382.2 690.8h6.67v5.90h-6.67zM388.8 696.6h6.67v5.90h-6.67zM421.9 702.4h6.67v5.90h-6.67z"/>
<path d="M382.20 591.30V708.30M388.82 591.30V708.30M395.44 591.30V708.30M402.07 591.30V708.30M408.69 591.30V708.30M415.31 591.30V708.30M421.93 591.30V708.30M428.56 591.30V708.30M435.18 591.30V708.30M441.80 591.30V708.30M382.20 591.30H441.80M382.20 597.15H441.80M382.20 603.00H441.80M382.20 608.85H441.80M382.20 614.70H441.80M382.20 620.55H441.80M382.20 626.40H441.80M382.20 632.25H441.80M382.20 638.10H441.80M382.20 643.95H441.80M382.20 649.80H441.80M382.20 655.65H441.80M382.20 661.50H441.80M382.20 667.35H441.80M382.20 673.20H441.80M382.20 679.05H441.80M382.20 684.90H441.80M382.20 690.75H441.80M382.20 696.60H441.80M382.20 702.45H441.80M382.20 708.30H441.80" stroke="#8e8e8e" stroke-width="0.85" fill="none"/>
<text transform="translate(412.00,588.90) scale(0.84,1)" font-size="11" text-anchor="middle" fill="#111">SVAR.76</text>
<text transform="translate(380.80,596.70) scale(0.9,1)" font-size="7" text-anchor="end" fill="#171c3a">A</text>
<text transform="translate(380.80,602.55) scale(0.9,1)" font-size="7" text-anchor="end" fill="#171c3a">R</text>
<text transform="translate(380.80,608.40) scale(0.9,1)" font-size="7" text-anchor="end" fill="#171c3a">N</text>
<text transform="translate(380.80,614.25) scale(0.9,1)" font-size="7" text-anchor="end" fill="#171c3a">D</text>
<text transform="translate(380.80,620.10) scale(0.9,1)" font-size="7" text-anchor="end" fill="#171c3a">C</text>
<text transform="translate(380.80,625.95) scale(0.9,1)" font-size="7" text-anchor="end" fill="#171c3a">E</text>
<text transform="translate(380.80,631.80) scale(0.9,1)" font-size="7" text-anchor="end" fill="#171c3a">Q</text>
<text transform="translate(380.80,637.65) scale(0.9,1)" font-size="7" text-anchor="end" fill="#171c3a">G</text>
<text transform="translate(380.80,643.50) scale(0.9,1)" font-size="7" text-anchor="end" fill="#171c3a">H</text>
<text transform="translate(380.80,649.35) scale(0.9,1)" font-size="7" text-anchor="end" fill="#171c3a">I</text>
<text transform="translate(380.80,655.20) scale(0.9,1)" font-size="7" text-anchor="end" fill="#171c3a">L</text>
<text transform="translate(380.80,661.05) scale(0.9,1)" font-size="7" text-anchor="end" fill="#171c3a">K</text>
<text transform="translate(380.80,666.90) scale(0.9,1)" font-size="7" text-anchor="end" fill="#171c3a">M</text>
<text transform="translate(380.80,672.75) scale(0.9,1)" font-size="7" text-anchor="end" fill="#171c3a">F</text>
<text transform="translate(380.80,678.60) scale(0.9,1)" font-size="7" text-anchor="end" fill="#171c3a">P</text>
<text transform="translate(380.80,684.45) scale(0.9,1)" font-size="7" text-anchor="end" fill="#171c3a">S</text>
<text transform="translate(380.80,690.30) scale(0.9,1)" font-size="7" text-anchor="end" fill="#171c3a">T</text>
<text transform="translate(380.80,696.15) scale(0.9,1)" font-size="7" text-anchor="end" fill="#171c3a">W</text>
<text transform="translate(380.80,702.00) scale(0.9,1)" font-size="7" text-anchor="end" fill="#171c3a">V</text>
<text transform="translate(380.80,707.85) scale(0.9,1)" font-size="7" text-anchor="end" fill="#171c3a">Y</text>
<text x="385.51" y="714.90" font-size="6.3" text-anchor="middle" font-weight="normal" fill="#1c2b52" >1</text>
<text x="392.13" y="714.90" font-size="6.3" text-anchor="middle" font-weight="normal" fill="#1c2b52" >2</text>
<text x="398.76" y="714.90" font-size="6.3" text-anchor="middle" font-weight="normal" fill="#1c2b52" >3</text>
<text x="405.38" y="714.90" font-size="6.3" text-anchor="middle" font-weight="normal" fill="#1c2b52" >4</text>
<text x="412.00" y="714.90" font-size="6.3" text-anchor="middle" font-weight="normal" fill="#1c2b52" >5</text>
<text x="418.62" y="714.90" font-size="6.3" text-anchor="middle" font-weight="normal" fill="#1c2b52" >6</text>
<text x="425.24" y="714.90" font-size="6.3" text-anchor="middle" font-weight="normal" fill="#1c2b52" >7</text>
<text x="431.87" y="714.90" font-size="6.3" text-anchor="middle" font-weight="normal" fill="#1c2b52" >8</text>
<text x="438.49" y="714.90" font-size="6.3" text-anchor="middle" font-weight="normal" fill="#1c2b52" >9</text>
<path fill="#fde0d3" d="M473.4 591.3h6.67v5.90h-6.67zM480.0 591.3h6.67v5.90h-6.67zM519.8 597.1h6.67v5.90h-6.67zM480.0 614.7h6.67v5.90h-6.67zM473.4 632.2h6.67v5.90h-6.67zM473.4 638.1h6.67v5.90h-6.67zM473.4 643.9h6.67v5.90h-6.67zM473.4 661.5h6.67v5.90h-6.67zM486.6 661.5h6.67v5.90h-6.67zM473.4 679.0h6.67v5.90h-6.67zM473.4 684.9h6.67v5.90h-6.67zM480.0 696.6h6.67v5.90h-6.67zM513.1 702.4h6.67v5.90h-6.67z"/>
<path fill="#97cdef" d="M486.6 591.3h6.67v5.90h-6.67zM506.5 603.0h6.67v5.90h-6.67zM526.4 603.0h6.67v5.90h-6.67zM473.4 620.5h6.67v5.90h-6.67zM526.4 620.5h6.67v5.90h-6.67zM480.0 626.4h6.67v5.90h-6.67zM480.0 632.2h6.67v5.90h-6.67zM486.6 632.2h6.67v5.90h-6.67zM506.5 638.1h6.67v5.90h-6.67zM519.8 638.1h6.67v5.90h-6.67zM526.4 638.1h6.67v5.90h-6.67zM526.4 643.9h6.67v5.90h-6.67zM473.4 655.6h6.67v5.90h-6.67zM519.8 655.6h6.67v5.90h-6.67zM526.4 661.5h6.67v5.90h-6.67zM506.5 667.3h6.67v5.90h-6.67zM486.6 679.0h6.67v5.90h-6.67zM506.5 679.0h6.67v5.90h-6.67zM519.8 679.0h6.67v5.90h-6.67zM480.0 684.9h6.67v5.90h-6.67zM480.0 690.8h6.67v5.90h-6.67zM493.3 690.8h6.67v5.90h-6.67zM480.0 702.4h6.67v5.90h-6.67z"/>
<path fill="#cae4f5" d="M493.3 591.3h6.67v5.90h-6.67zM473.4 608.8h6.67v5.90h-6.67zM519.8 626.4h6.67v5.90h-6.67zM480.0 638.1h6.67v5.90h-6.67zM480.0 655.6h6.67v5.90h-6.67zM473.4 673.2h6.67v5.90h-6.67zM526.4 673.2h6.67v5.90h-6.67z"/>
<path fill="#5ab0e6" d="M499.9 591.3h6.67v5.90h-6.67zM519.8 591.3h6.67v5.90h-6.67zM486.6 597.1h6.67v5.90h-6.67zM493.3 597.1h6.67v5.90h-6.67zM506.5 597.1h6.67v5.90h-6.67zM480.0 603.0h6.67v5.90h-6.67zM486.6 603.0h6.67v5.90h-6.67zM493.3 603.0h6.67v5.90h-6.67zM499.9 603.0h6.67v5.90h-6.67zM519.8 603.0h6.67v5.90h-6.67zM480.0 608.8h6.67v5.90h-6.67zM493.3 608.8h6.67v5.90h-6.67zM499.9 608.8h6.67v5.90h-6.67zM506.5 608.8h6.67v5.90h-6.67zM513.1 608.8h6.67v5.90h-6.67zM493.3 614.7h6.67v5.90h-6.67zM526.4 614.7h6.67v5.90h-6.67zM480.0 620.5h6.67v5.90h-6.67zM493.3 620.5h6.67v5.90h-6.67zM499.9 620.5h6.67v5.90h-6.67zM506.5 620.5h6.67v5.90h-6.67zM493.3 626.4h6.67v5.90h-6.67zM499.9 626.4h6.67v5.90h-6.67zM506.5 626.4h6.67v5.90h-6.67zM493.3 632.2h6.67v5.90h-6.67zM499.9 632.2h6.67v5.90h-6.67zM519.8 632.2h6.67v5.90h-6.67zM486.6 638.1h6.67v5.90h-6.67zM493.3 638.1h6.67v5.90h-6.67zM499.9 638.1h6.67v5.90h-6.67zM486.6 643.9h6.67v5.90h-6.67zM493.3 643.9h6.67v5.90h-6.67zM499.9 643.9h6.67v5.90h-6.67zM513.1 643.9h6.67v5.90h-6.67zM486.6 649.8h6.67v5.90h-6.67zM493.3 649.8h6.67v5.90h-6.67zM499.9 649.8h6.67v5.90h-6.67zM506.5 649.8h6.67v5.90h-6.67zM513.1 649.8h6.67v5.90h-6.67zM486.6 655.6h6.67v5.90h-6.67zM493.3 655.6h6.67v5.90h-6.67zM506.5 655.6h6.67v5.90h-6.67zM526.4 655.6h6.67v5.90h-6.67zM493.3 661.5h6.67v5.90h-6.67zM499.9 661.5h6.67v5.90h-6.67zM506.5 661.5h6.67v5.90h-6.67zM513.1 661.5h6.67v5.90h-6.67zM486.6 667.3h6.67v5.90h-6.67zM493.3 667.3h6.67v5.90h-6.67zM519.8 667.3h6.67v5.90h-6.67zM526.4 667.3h6.67v5.90h-6.67zM480.0 673.2h6.67v5.90h-6.67zM486.6 673.2h6.67v5.90h-6.67zM506.5 673.2h6.67v5.90h-6.67zM519.8 673.2h6.67v5.90h-6.67zM493.3 679.0h6.67v5.90h-6.67zM486.6 684.9h6.67v5.90h-6.67zM493.3 684.9h6.67v5.90h-6.67zM486.6 690.8h6.67v5.90h-6.67zM519.8 690.8h6.67v5.90h-6.67zM526.4 690.8h6.67v5.90h-6.67zM486.6 696.6h6.67v5.90h-6.67zM493.3 696.6h6.67v5.90h-6.67zM513.1 696.6h6.67v5.90h-6.67zM486.6 702.4h6.67v5.90h-6.67zM493.3 702.4h6.67v5.90h-6.67zM506.5 702.4h6.67v5.90h-6.67zM519.8 702.4h6.67v5.90h-6.67z"/>
<path fill="#fbf9f8" d="M506.5 591.3h6.67v5.90h-6.67zM473.4 597.1h6.67v5.90h-6.67zM473.4 603.0h6.67v5.90h-6.67zM519.8 614.7h6.67v5.90h-6.67zM473.4 626.4h6.67v5.90h-6.67zM526.4 626.4h6.67v5.90h-6.67zM506.5 632.2h6.67v5.90h-6.67zM506.5 643.9h6.67v5.90h-6.67zM519.8 661.5h6.67v5.90h-6.67zM480.0 679.0h6.67v5.90h-6.67zM526.4 684.9h6.67v5.90h-6.67zM473.4 696.6h6.67v5.90h-6.67zM526.4 696.6h6.67v5.90h-6.67z"/>
<path fill="#3e9cdc" d="M513.1 591.3h6.67v5.90h-6.67zM526.4 591.3h6.67v5.90h-6.67zM480.0 597.1h6.67v5.90h-6.67zM513.1 597.1h6.67v5.90h-6.67zM526.4 597.1h6.67v5.90h-6.67zM513.1 603.0h6.67v5.90h-6.67zM486.6 608.8h6.67v5.90h-6.67zM519.8 608.8h6.67v5.90h-6.67zM526.4 608.8h6.67v5.90h-6.67zM486.6 614.7h6.67v5.90h-6.67zM499.9 614.7h6.67v5.90h-6.67zM513.1 614.7h6.67v5.90h-6.67zM486.6 620.5h6.67v5.90h-6.67zM519.8 620.5h6.67v5.90h-6.67zM513.1 626.4h6.67v5.90h-6.67zM513.1 632.2h6.67v5.90h-6.67zM526.4 632.2h6.67v5.90h-6.67zM513.1 638.1h6.67v5.90h-6.67zM499.9 655.6h6.67v5.90h-6.67zM513.1 655.6h6.67v5.90h-6.67zM499.9 667.3h6.67v5.90h-6.67zM499.9 673.2h6.67v5.90h-6.67zM513.1 673.2h6.67v5.90h-6.67zM499.9 679.0h6.67v5.90h-6.67zM513.1 679.0h6.67v5.90h-6.67zM499.9 684.9h6.67v5.90h-6.67zM513.1 684.9h6.67v5.90h-6.67zM499.9 690.8h6.67v5.90h-6.67zM506.5 690.8h6.67v5.90h-6.67zM513.1 690.8h6.67v5.90h-6.67zM499.9 696.6h6.67v5.90h-6.67zM499.9 702.4h6.67v5.90h-6.67zM526.4 702.4h6.67v5.90h-6.67z"/>
<path fill="#fcb094" d="M499.9 597.1h6.67v5.90h-6.67zM506.5 614.7h6.67v5.90h-6.67zM486.6 626.4h6.67v5.90h-6.67zM480.0 643.9h6.67v5.90h-6.67zM473.4 649.8h6.67v5.90h-6.67zM480.0 649.8h6.67v5.90h-6.67zM519.8 649.8h6.67v5.90h-6.67zM526.4 649.8h6.67v5.90h-6.67zM480.0 661.5h6.67v5.90h-6.67zM473.4 667.3h6.67v5.90h-6.67zM513.1 667.3h6.67v5.90h-6.67zM493.3 673.2h6.67v5.90h-6.67zM506.5 684.9h6.67v5.90h-6.67zM519.8 684.9h6.67v5.90h-6.67zM473.4 702.4h6.67v5.90h-6.67z"/>
<path fill="#f66a47" d="M473.4 614.7h6.67v5.90h-6.67zM480.0 667.3h6.67v5.90h-6.67zM506.5 696.6h6.67v5.90h-6.67z"/>
<path fill="#2a88cd" d="M513.1 620.5h6.67v5.90h-6.67zM526.4 679.0h6.67v5.90h-6.67z"/>
<path fill="#ec4331" d="M519.8 643.9h6.67v5.90h-6.67zM473.4 690.8h6.67v5.90h-6.67z"/>
<path fill="#d62a27" d="M519.8 696.6h6.67v5.90h-6.67z"/>
<path d="M473.40 591.30V708.30M480.02 591.30V708.30M486.64 591.30V708.30M493.27 591.30V708.30M499.89 591.30V708.30M506.51 591.30V708.30M513.13 591.30V708.30M519.76 591.30V708.30M526.38 591.30V708.30M533.00 591.30V708.30M473.40 591.30H533.00M473.40 597.15H533.00M473.40 603.00H533.00M473.40 608.85H533.00M473.40 614.70H533.00M473.40 620.55H533.00M473.40 626.40H533.00M473.40 632.25H533.00M473.40 638.10H533.00M473.40 643.95H533.00M473.40 649.80H533.00M473.40 655.65H533.00M473.40 661.50H533.00M473.40 667.35H533.00M473.40 673.20H533.00M473.40 679.05H533.00M473.40 684.90H533.00M473.40 690.75H533.00M473.40 696.60H533.00M473.40 702.45H533.00M473.40 708.30H533.00" stroke="#8e8e8e" stroke-width="0.85" fill="none"/>
<text transform="translate(503.20,588.90) scale(0.84,1)" font-size="11" text-anchor="middle" fill="#111">SVAR.82</text>
<text transform="translate(472.00,596.70) scale(0.9,1)" font-size="7" text-anchor="end" fill="#171c3a">A</text>
<text transform="translate(472.00,602.55) scale(0.9,1)" font-size="7" text-anchor="end" fill="#171c3a">R</text>
<text transform="translate(472.00,608.40) scale(0.9,1)" font-size="7" text-anchor="end" fill="#171c3a">N</text>
<text transform="translate(472.00,614.25) scale(0.9,1)" font-size="7" text-anchor="end" fill="#171c3a">D</text>
<text transform="translate(472.00,620.10) scale(0.9,1)" font-size="7" text-anchor="end" fill="#171c3a">C</text>
<text transform="translate(472.00,625.95) scale(0.9,1)" font-size="7" text-anchor="end" fill="#171c3a">E</text>
<text transform="translate(472.00,631.80) scale(0.9,1)" font-size="7" text-anchor="end" fill="#171c3a">Q</text>
<text transform="translate(472.00,637.65) scale(0.9,1)" font-size="7" text-anchor="end" fill="#171c3a">G</text>
<text transform="translate(472.00,643.50) scale(0.9,1)" font-size="7" text-anchor="end" fill="#171c3a">H</text>
<text transform="translate(472.00,649.35) scale(0.9,1)" font-size="7" text-anchor="end" fill="#171c3a">I</text>
<text transform="translate(472.00,655.20) scale(0.9,1)" font-size="7" text-anchor="end" fill="#171c3a">L</text>
<text transform="translate(472.00,661.05) scale(0.9,1)" font-size="7" text-anchor="end" fill="#171c3a">K</text>
<text transform="translate(472.00,666.90) scale(0.9,1)" font-size="7" text-anchor="end" fill="#171c3a">M</text>
<text transform="translate(472.00,672.75) scale(0.9,1)" font-size="7" text-anchor="end" fill="#171c3a">F</text>
<text transform="translate(472.00,678.60) scale(0.9,1)" font-size="7" text-anchor="end" fill="#171c3a">P</text>
<text transform="translate(472.00,684.45) scale(0.9,1)" font-size="7" text-anchor="end" fill="#171c3a">S</text>
<text transform="translate(472.00,690.30) scale(0.9,1)" font-size="7" text-anchor="end" fill="#171c3a">T</text>
<text transform="translate(472.00,696.15) scale(0.9,1)" font-size="7" text-anchor="end" fill="#171c3a">W</text>
<text transform="translate(472.00,702.00) scale(0.9,1)" font-size="7" text-anchor="end" fill="#171c3a">V</text>
<text transform="translate(472.00,707.85) scale(0.9,1)" font-size="7" text-anchor="end" fill="#171c3a">Y</text>
<text x="476.71" y="714.90" font-size="6.3" text-anchor="middle" font-weight="normal" fill="#1c2b52" >1</text>
<text x="483.33" y="714.90" font-size="6.3" text-anchor="middle" font-weight="normal" fill="#1c2b52" >2</text>
<text x="489.96" y="714.90" font-size="6.3" text-anchor="middle" font-weight="normal" fill="#1c2b52" >3</text>
<text x="496.58" y="714.90" font-size="6.3" text-anchor="middle" font-weight="normal" fill="#1c2b52" >4</text>
<text x="503.20" y="714.90" font-size="6.3" text-anchor="middle" font-weight="normal" fill="#1c2b52" >5</text>
<text x="509.82" y="714.90" font-size="6.3" text-anchor="middle" font-weight="normal" fill="#1c2b52" >6</text>
<text x="516.44" y="714.90" font-size="6.3" text-anchor="middle" font-weight="normal" fill="#1c2b52" >7</text>
<text x="523.07" y="714.90" font-size="6.3" text-anchor="middle" font-weight="normal" fill="#1c2b52" >8</text>
<text x="529.69" y="714.90" font-size="6.3" text-anchor="middle" font-weight="normal" fill="#1c2b52" >9</text>
<path fill="#d62a27" d="M565.5 591.3h6.67v5.90h-6.67zM565.5 603.0h6.67v5.90h-6.67zM598.6 614.7h6.67v5.90h-6.67zM565.5 626.4h6.67v5.90h-6.67zM565.5 632.2h6.67v5.90h-6.67zM565.5 638.1h6.67v5.90h-6.67zM565.5 643.9h6.67v5.90h-6.67zM572.1 643.9h6.67v5.90h-6.67zM572.1 661.5h6.67v5.90h-6.67zM578.7 661.5h6.67v5.90h-6.67zM565.5 679.0h6.67v5.90h-6.67zM611.9 684.9h6.67v5.90h-6.67zM611.9 690.8h6.67v5.90h-6.67zM572.1 696.6h6.67v5.90h-6.67z"/>
<path fill="#f66a47" d="M572.1 591.3h6.67v5.90h-6.67zM585.4 591.3h6.67v5.90h-6.67zM565.5 597.1h6.67v5.90h-6.67zM611.9 597.1h6.67v5.90h-6.67zM565.5 608.8h6.67v5.90h-6.67zM572.1 614.7h6.67v5.90h-6.67zM611.9 614.7h6.67v5.90h-6.67zM565.5 620.5h6.67v5.90h-6.67zM611.9 626.4h6.67v5.90h-6.67zM618.5 626.4h6.67v5.90h-6.67zM572.1 638.1h6.67v5.90h-6.67zM611.9 638.1h6.67v5.90h-6.67zM611.9 661.5h6.67v5.90h-6.67zM618.5 673.2h6.67v5.90h-6.67zM572.1 679.0h6.67v5.90h-6.67zM565.5 684.9h6.67v5.90h-6.67zM618.5 684.9h6.67v5.90h-6.67zM565.5 696.6h6.67v5.90h-6.67zM598.6 696.6h6.67v5.90h-6.67zM611.9 702.4h6.67v5.90h-6.67z"/>
<path fill="#fbf9f8" d="M578.7 591.3h6.67v5.90h-6.67zM618.5 591.3h6.67v5.90h-6.67zM572.1 603.0h6.67v5.90h-6.67zM611.9 632.2h6.67v5.90h-6.67zM598.6 643.9h6.67v5.90h-6.67zM598.6 649.8h6.67v5.90h-6.67zM611.9 655.6h6.67v5.90h-6.67zM618.5 655.6h6.67v5.90h-6.67zM605.2 661.5h6.67v5.90h-6.67zM572.1 673.2h6.67v5.90h-6.67zM618.5 679.0h6.67v5.90h-6.67zM585.4 690.8h6.67v5.90h-6.67z"/>
<path fill="#5ab0e6" d="M592.0 591.3h6.67v5.90h-6.67zM572.1 597.1h6.67v5.90h-6.67zM578.7 597.1h6.67v5.90h-6.67zM585.4 597.1h6.67v5.90h-6.67zM598.6 597.1h6.67v5.90h-6.67zM618.5 597.1h6.67v5.90h-6.67zM578.7 603.0h6.67v5.90h-6.67zM592.0 603.0h6.67v5.90h-6.67zM578.7 608.8h6.67v5.90h-6.67zM585.4 608.8h6.67v5.90h-6.67zM592.0 608.8h6.67v5.90h-6.67zM611.9 608.8h6.67v5.90h-6.67zM585.4 614.7h6.67v5.90h-6.67zM592.0 614.7h6.67v5.90h-6.67zM605.2 614.7h6.67v5.90h-6.67zM578.7 620.5h6.67v5.90h-6.67zM585.4 620.5h6.67v5.90h-6.67zM592.0 620.5h6.67v5.90h-6.67zM598.6 620.5h6.67v5.90h-6.67zM585.4 626.4h6.67v5.90h-6.67zM592.0 626.4h6.67v5.90h-6.67zM598.6 626.4h6.67v5.90h-6.67zM592.0 632.2h6.67v5.90h-6.67zM578.7 638.1h6.67v5.90h-6.67zM585.4 638.1h6.67v5.90h-6.67zM592.0 638.1h6.67v5.90h-6.67zM598.6 638.1h6.67v5.90h-6.67zM585.4 643.9h6.67v5.90h-6.67zM592.0 643.9h6.67v5.90h-6.67zM578.7 649.8h6.67v5.90h-6.67zM585.4 649.8h6.67v5.90h-6.67zM592.0 649.8h6.67v5.90h-6.67zM578.7 655.6h6.67v5.90h-6.67zM585.4 655.6h6.67v5.90h-6.67zM598.6 655.6h6.67v5.90h-6.67zM585.4 661.5h6.67v5.90h-6.67zM592.0 661.5h6.67v5.90h-6.67zM578.7 667.3h6.67v5.90h-6.67zM585.4 667.3h6.67v5.90h-6.67zM592.0 667.3h6.67v5.90h-6.67zM598.6 667.3h6.67v5.90h-6.67zM578.7 673.2h6.67v5.90h-6.67zM592.0 673.2h6.67v5.90h-6.67zM598.6 673.2h6.67v5.90h-6.67zM605.2 673.2h6.67v5.90h-6.67zM611.9 673.2h6.67v5.90h-6.67zM592.0 679.0h6.67v5.90h-6.67zM605.2 679.0h6.67v5.90h-6.67zM578.7 684.9h6.67v5.90h-6.67zM585.4 684.9h6.67v5.90h-6.67zM605.2 684.9h6.67v5.90h-6.67zM578.7 690.8h6.67v5.90h-6.67zM598.6 690.8h6.67v5.90h-6.67zM585.4 696.6h6.67v5.90h-6.67zM578.7 702.4h6.67v5.90h-6.67zM585.4 702.4h6.67v5.90h-6.67zM592.0 702.4h6.67v5.90h-6.67zM598.6 702.4h6.67v5.90h-6.67zM618.5 702.4h6.67v5.90h-6.67z"/>
<path fill="#fcb094" d="M598.6 591.3h6.67v5.90h-6.67zM611.9 603.0h6.67v5.90h-6.67zM618.5 603.0h6.67v5.90h-6.67zM618.5 620.5h6.67v5.90h-6.67zM572.1 626.4h6.67v5.90h-6.67zM578.7 632.2h6.67v5.90h-6.67zM598.6 632.2h6.67v5.90h-6.67zM618.5 638.1h6.67v5.90h-6.67zM618.5 643.9h6.67v5.90h-6.67zM565.5 655.6h6.67v5.90h-6.67zM572.1 655.6h6.67v5.90h-6.67zM618.5 661.5h6.67v5.90h-6.67zM611.9 667.3h6.67v5.90h-6.67zM565.5 673.2h6.67v5.90h-6.67zM611.9 679.0h6.67v5.90h-6.67zM572.1 684.9h6.67v5.90h-6.67zM618.5 696.6h6.67v5.90h-6.67z"/>
<path fill="#2a88cd" d="M605.2 591.3h6.67v5.90h-6.67zM605.2 597.1h6.67v5.90h-6.67zM605.2 603.0h6.67v5.90h-6.67zM605.2 608.8h6.67v5.90h-6.67zM605.2 620.5h6.67v5.90h-6.67zM605.2 626.4h6.67v5.90h-6.67zM605.2 632.2h6.67v5.90h-6.67zM592.0 655.6h6.67v5.90h-6.67zM605.2 655.6h6.67v5.90h-6.67zM592.0 684.9h6.67v5.90h-6.67zM592.0 690.8h6.67v5.90h-6.67zM592.0 696.6h6.67v5.90h-6.67z"/>
<path fill="#fde0d3" d="M611.9 591.3h6.67v5.90h-6.67zM598.6 603.0h6.67v5.90h-6.67zM618.5 614.7h6.67v5.90h-6.67zM572.1 632.2h6.67v5.90h-6.67zM618.5 667.3h6.67v5.90h-6.67zM578.7 679.0h6.67v5.90h-6.67zM572.1 690.8h6.67v5.90h-6.67zM572.1 702.4h6.67v5.90h-6.67z"/>
<path fill="#a20314" d="M592.0 597.1h6.67v5.90h-6.67zM565.5 614.7h6.67v5.90h-6.67zM578.7 626.4h6.67v5.90h-6.67zM611.9 643.9h6.67v5.90h-6.67zM565.5 649.8h6.67v5.90h-6.67zM572.1 649.8h6.67v5.90h-6.67zM611.9 649.8h6.67v5.90h-6.67zM618.5 649.8h6.67v5.90h-6.67zM565.5 661.5h6.67v5.90h-6.67zM565.5 667.3h6.67v5.90h-6.67zM572.1 667.3h6.67v5.90h-6.67zM605.2 667.3h6.67v5.90h-6.67zM585.4 673.2h6.67v5.90h-6.67zM598.6 684.9h6.67v5.90h-6.67zM565.5 690.8h6.67v5.90h-6.67zM611.9 696.6h6.67v5.90h-6.67zM565.5 702.4h6.67v5.90h-6.67zM605.2 702.4h6.67v5.90h-6.67z"/>
<path fill="#97cdef" d="M585.4 603.0h6.67v5.90h-6.67zM598.6 608.8h6.67v5.90h-6.67zM618.5 608.8h6.67v5.90h-6.67zM572.1 620.5h6.67v5.90h-6.67zM611.9 620.5h6.67v5.90h-6.67zM605.2 638.1h6.67v5.90h-6.67zM578.7 643.9h6.67v5.90h-6.67zM605.2 649.8h6.67v5.90h-6.67zM598.6 661.5h6.67v5.90h-6.67zM605.2 690.8h6.67v5.90h-6.67zM618.5 690.8h6.67v5.90h-6.67zM578.7 696.6h6.67v5.90h-6.67z"/>
<path fill="#cae4f5" d="M572.1 608.8h6.67v5.90h-6.67zM578.7 614.7h6.67v5.90h-6.67zM585.4 632.2h6.67v5.90h-6.67zM618.5 632.2h6.67v5.90h-6.67zM605.2 643.9h6.67v5.90h-6.67zM585.4 679.0h6.67v5.90h-6.67zM598.6 679.0h6.67v5.90h-6.67zM605.2 696.6h6.67v5.90h-6.67z"/>
<path d="M565.50 591.30V708.30M572.12 591.30V708.30M578.74 591.30V708.30M585.37 591.30V708.30M591.99 591.30V708.30M598.61 591.30V708.30M605.23 591.30V708.30M611.86 591.30V708.30M618.48 591.30V708.30M625.10 591.30V708.30M565.50 591.30H625.10M565.50 597.15H625.10M565.50 603.00H625.10M565.50 608.85H625.10M565.50 614.70H625.10M565.50 620.55H625.10M565.50 626.40H625.10M565.50 632.25H625.10M565.50 638.10H625.10M565.50 643.95H625.10M565.50 649.80H625.10M565.50 655.65H625.10M565.50 661.50H625.10M565.50 667.35H625.10M565.50 673.20H625.10M565.50 679.05H625.10M565.50 684.90H625.10M565.50 690.75H625.10M565.50 696.60H625.10M565.50 702.45H625.10M565.50 708.30H625.10" stroke="#8e8e8e" stroke-width="0.85" fill="none"/>
<text transform="translate(595.30,588.90) scale(0.84,1)" font-size="11" text-anchor="middle" fill="#111">SVAR.85</text>
<text transform="translate(564.10,596.70) scale(0.9,1)" font-size="7" text-anchor="end" fill="#171c3a">A</text>
<text transform="translate(564.10,602.55) scale(0.9,1)" font-size="7" text-anchor="end" fill="#171c3a">R</text>
<text transform="translate(564.10,608.40) scale(0.9,1)" font-size="7" text-anchor="end" fill="#171c3a">N</text>
<text transform="translate(564.10,614.25) scale(0.9,1)" font-size="7" text-anchor="end" fill="#171c3a">D</text>
<text transform="translate(564.10,620.10) scale(0.9,1)" font-size="7" text-anchor="end" fill="#171c3a">C</text>
<text transform="translate(564.10,625.95) scale(0.9,1)" font-size="7" text-anchor="end" fill="#171c3a">E</text>
<text transform="translate(564.10,631.80) scale(0.9,1)" font-size="7" text-anchor="end" fill="#171c3a">Q</text>
<text transform="translate(564.10,637.65) scale(0.9,1)" font-size="7" text-anchor="end" fill="#171c3a">G</text>
<text transform="translate(564.10,643.50) scale(0.9,1)" font-size="7" text-anchor="end" fill="#171c3a">H</text>
<text transform="translate(564.10,649.35) scale(0.9,1)" font-size="7" text-anchor="end" fill="#171c3a">I</text>
<text transform="translate(564.10,655.20) scale(0.9,1)" font-size="7" text-anchor="end" fill="#171c3a">L</text>
<text transform="translate(564.10,661.05) scale(0.9,1)" font-size="7" text-anchor="end" fill="#171c3a">K</text>
<text transform="translate(564.10,666.90) scale(0.9,1)" font-size="7" text-anchor="end" fill="#171c3a">M</text>
<text transform="translate(564.10,672.75) scale(0.9,1)" font-size="7" text-anchor="end" fill="#171c3a">F</text>
<text transform="translate(564.10,678.60) scale(0.9,1)" font-size="7" text-anchor="end" fill="#171c3a">P</text>
<text transform="translate(564.10,684.45) scale(0.9,1)" font-size="7" text-anchor="end" fill="#171c3a">S</text>
<text transform="translate(564.10,690.30) scale(0.9,1)" font-size="7" text-anchor="end" fill="#171c3a">T</text>
<text transform="translate(564.10,696.15) scale(0.9,1)" font-size="7" text-anchor="end" fill="#171c3a">W</text>
<text transform="translate(564.10,702.00) scale(0.9,1)" font-size="7" text-anchor="end" fill="#171c3a">V</text>
<text transform="translate(564.10,707.85) scale(0.9,1)" font-size="7" text-anchor="end" fill="#171c3a">Y</text>
<text x="568.81" y="714.90" font-size="6.3" text-anchor="middle" font-weight="normal" fill="#1c2b52" >1</text>
<text x="575.43" y="714.90" font-size="6.3" text-anchor="middle" font-weight="normal" fill="#1c2b52" >2</text>
<text x="582.06" y="714.90" font-size="6.3" text-anchor="middle" font-weight="normal" fill="#1c2b52" >3</text>
<text x="588.68" y="714.90" font-size="6.3" text-anchor="middle" font-weight="normal" fill="#1c2b52" >4</text>
<text x="595.30" y="714.90" font-size="6.3" text-anchor="middle" font-weight="normal" fill="#1c2b52" >5</text>
<text x="601.92" y="714.90" font-size="6.3" text-anchor="middle" font-weight="normal" fill="#1c2b52" >6</text>
<text x="608.54" y="714.90" font-size="6.3" text-anchor="middle" font-weight="normal" fill="#1c2b52" >7</text>
<text x="615.17" y="714.90" font-size="6.3" text-anchor="middle" font-weight="normal" fill="#1c2b52" >8</text>
<text x="621.79" y="714.90" font-size="6.3" text-anchor="middle" font-weight="normal" fill="#1c2b52" >9</text>
<defs><linearGradient id="cbb" x1="0" y1="1" x2="0" y2="0"><stop offset="0" stop-color="#2474b8"/><stop offset="0.09" stop-color="#3f93d2"/><stop offset="0.2" stop-color="#a7d0ec"/><stop offset="0.3" stop-color="#f7f7f7"/><stop offset="0.45" stop-color="#fbc4ae"/><stop offset="0.62" stop-color="#f36b4f"/><stop offset="0.8" stop-color="#cf1f26"/><stop offset="1" stop-color="#9d0618"/></linearGradient></defs>
<rect x="644.7" y="304.3" width="7.9" height="104.0" fill="url(#cbb)"/>
<text x="655.50" y="319.60" font-size="10.2" text-anchor="start" font-weight="normal" fill="#111" >4</text>
<text x="655.50" y="339.90" font-size="10.2" text-anchor="start" font-weight="normal" fill="#111" >3</text>
<text x="655.50" y="360.90" font-size="10.2" text-anchor="start" font-weight="normal" fill="#111" >2</text>
<text x="655.50" y="381.60" font-size="10.2" text-anchor="start" font-weight="normal" fill="#111" >1</text>
<text x="655.50" y="402.60" font-size="10.2" text-anchor="start" font-weight="normal" fill="#111" >0</text>
<text x="656.20" y="290.70" font-size="9.2" text-anchor="middle" font-weight="normal" fill="#111" >Log2 <tspan font-weight="bold">FC</tspan></text>
<text x="626.80" y="302.40" font-size="9.4" text-anchor="start" font-weight="normal" fill="#111" >pMHC Binding</text>
<path fill="#a20314" d="M24.4 248.3h17.67v8.98h-17.67zM42.0 248.3h17.67v8.98h-17.67zM59.6 248.3h17.67v8.98h-17.67zM77.3 248.3h17.67v8.98h-17.67zM165.4 248.3h17.67v8.98h-17.67zM24.4 257.2h17.67v8.98h-17.67zM94.9 257.2h17.67v8.98h-17.67zM24.4 266.2h17.67v8.98h-17.67zM77.3 266.2h17.67v8.98h-17.67zM147.8 266.2h17.67v8.98h-17.67zM24.4 275.1h17.67v8.98h-17.67zM24.4 284.0h17.67v8.98h-17.67zM59.6 284.0h17.67v8.98h-17.67zM130.1 284.0h17.67v8.98h-17.67zM147.8 284.0h17.67v8.98h-17.67zM24.4 292.9h17.67v8.98h-17.67zM24.4 301.9h17.67v8.98h-17.67zM42.0 301.9h17.67v8.98h-17.67zM59.6 301.9h17.67v8.98h-17.67zM77.3 301.9h17.67v8.98h-17.67zM130.1 301.9h17.67v8.98h-17.67zM147.8 301.9h17.67v8.98h-17.67zM24.4 310.8h17.67v8.98h-17.67zM59.6 310.8h17.67v8.98h-17.67zM77.3 310.8h17.67v8.98h-17.67zM112.5 310.8h17.67v8.98h-17.67zM165.4 310.8h17.67v8.98h-17.67zM24.4 319.7h17.67v8.98h-17.67zM77.3 319.7h17.67v8.98h-17.67zM130.1 319.7h17.67v8.98h-17.67zM147.8 319.7h17.67v8.98h-17.67zM24.4 328.7h17.67v8.98h-17.67zM42.0 328.7h17.67v8.98h-17.67zM59.6 328.7h17.67v8.98h-17.67zM77.3 328.7h17.67v8.98h-17.67zM112.5 328.7h17.67v8.98h-17.67zM130.1 328.7h17.67v8.98h-17.67zM147.8 328.7h17.67v8.98h-17.67zM165.4 328.7h17.67v8.98h-17.67zM24.4 337.6h17.67v8.98h-17.67zM42.0 337.6h17.67v8.98h-17.67zM59.6 337.6h17.67v8.98h-17.67zM130.1 337.6h17.67v8.98h-17.67zM147.8 337.6h17.67v8.98h-17.67zM165.4 337.6h17.67v8.98h-17.67zM24.4 346.5h17.67v8.98h-17.67zM24.4 355.5h17.67v8.98h-17.67zM42.0 355.5h17.67v8.98h-17.67zM59.6 355.5h17.67v8.98h-17.67zM130.1 355.5h17.67v8.98h-17.67zM147.8 355.5h17.67v8.98h-17.67zM165.4 355.5h17.67v8.98h-17.67zM24.4 364.4h17.67v8.98h-17.67zM130.1 364.4h17.67v8.98h-17.67zM147.8 364.4h17.67v8.98h-17.67zM165.4 364.4h17.67v8.98h-17.67zM24.4 373.3h17.67v8.98h-17.67zM59.6 373.3h17.67v8.98h-17.67zM77.3 373.3h17.67v8.98h-17.67zM24.4 382.2h17.67v8.98h-17.67zM59.6 382.2h17.67v8.98h-17.67zM77.3 382.2h17.67v8.98h-17.67zM112.5 382.2h17.67v8.98h-17.67zM130.1 382.2h17.67v8.98h-17.67zM147.8 382.2h17.67v8.98h-17.67zM165.4 382.2h17.67v8.98h-17.67zM24.4 391.2h17.67v8.98h-17.67zM42.0 391.2h17.67v8.98h-17.67zM59.6 391.2h17.67v8.98h-17.67zM77.3 391.2h17.67v8.98h-17.67zM112.5 391.2h17.67v8.98h-17.67zM130.1 391.2h17.67v8.98h-17.67zM147.8 391.2h17.67v8.98h-17.67zM165.4 391.2h17.67v8.98h-17.67zM24.4 400.1h17.67v8.98h-17.67zM77.3 400.1h17.67v8.98h-17.67zM130.1 400.1h17.67v8.98h-17.67zM147.8 400.1h17.67v8.98h-17.67zM24.4 409.0h17.67v8.98h-17.67zM42.0 409.0h17.67v8.98h-17.67zM59.6 409.0h17.67v8.98h-17.67zM112.5 409.0h17.67v8.98h-17.67zM130.1 409.0h17.67v8.98h-17.67zM147.8 409.0h17.67v8.98h-17.67zM165.4 409.0h17.67v8.98h-17.67zM24.4 418.0h17.67v8.98h-17.67zM42.0 418.0h17.67v8.98h-17.67zM130.1 418.0h17.67v8.98h-17.67zM165.4 418.0h17.67v8.98h-17.67z"/>
<path fill="#a0d0ee" d="M94.9 248.3h17.67v8.98h-17.67zM130.1 257.2h17.67v8.98h-17.67zM94.9 266.2h17.67v8.98h-17.67zM94.9 275.1h17.67v8.98h-17.67zM130.1 275.1h17.67v8.98h-17.67zM94.9 284.0h17.67v8.98h-17.67zM94.9 292.9h17.67v8.98h-17.67zM130.1 292.9h17.67v8.98h-17.67zM94.9 301.9h17.67v8.98h-17.67zM94.9 310.8h17.67v8.98h-17.67zM94.9 328.7h17.67v8.98h-17.67zM59.6 364.4h17.67v8.98h-17.67zM94.9 364.4h17.67v8.98h-17.67zM94.9 373.3h17.67v8.98h-17.67zM94.9 382.2h17.67v8.98h-17.67zM94.9 391.2h17.67v8.98h-17.67zM59.6 400.1h17.67v8.98h-17.67zM94.9 400.1h17.67v8.98h-17.67zM94.9 418.0h17.67v8.98h-17.67z"/>
<path fill="#d62a27" d="M112.5 248.3h17.67v8.98h-17.67zM147.8 248.3h17.67v8.98h-17.67zM77.3 257.2h17.67v8.98h-17.67zM147.8 257.2h17.67v8.98h-17.67zM59.6 266.2h17.67v8.98h-17.67zM112.5 266.2h17.67v8.98h-17.67zM130.1 266.2h17.67v8.98h-17.67zM59.6 292.9h17.67v8.98h-17.67zM112.5 337.6h17.67v8.98h-17.67zM59.6 346.5h17.67v8.98h-17.67zM94.9 346.5h17.67v8.98h-17.67zM77.3 355.5h17.67v8.98h-17.67zM147.8 373.3h17.67v8.98h-17.67zM77.3 409.0h17.67v8.98h-17.67zM147.8 418.0h17.67v8.98h-17.67z"/>
<path fill="#fcb094" d="M130.1 248.3h17.67v8.98h-17.67zM77.3 275.1h17.67v8.98h-17.67zM147.8 292.9h17.67v8.98h-17.67zM59.6 319.7h17.67v8.98h-17.67zM112.5 355.5h17.67v8.98h-17.67zM77.3 364.4h17.67v8.98h-17.67zM130.1 373.3h17.67v8.98h-17.67z"/>
<path fill="#7d7676" d="M42.0 257.2h17.67v8.98h-17.67zM59.6 257.2h17.67v8.98h-17.67zM165.4 257.2h17.67v8.98h-17.67zM42.0 266.2h17.67v8.98h-17.67zM165.4 266.2h17.67v8.98h-17.67zM42.0 275.1h17.67v8.98h-17.67zM165.4 275.1h17.67v8.98h-17.67zM42.0 284.0h17.67v8.98h-17.67zM77.3 284.0h17.67v8.98h-17.67zM112.5 284.0h17.67v8.98h-17.67zM165.4 284.0h17.67v8.98h-17.67zM42.0 292.9h17.67v8.98h-17.67zM165.4 292.9h17.67v8.98h-17.67zM165.4 301.9h17.67v8.98h-17.67zM42.0 310.8h17.67v8.98h-17.67zM130.1 310.8h17.67v8.98h-17.67zM42.0 319.7h17.67v8.98h-17.67zM165.4 319.7h17.67v8.98h-17.67zM42.0 346.5h17.67v8.98h-17.67zM130.1 346.5h17.67v8.98h-17.67zM165.4 346.5h17.67v8.98h-17.67zM42.0 364.4h17.67v8.98h-17.67zM42.0 373.3h17.67v8.98h-17.67zM165.4 373.3h17.67v8.98h-17.67zM42.0 382.2h17.67v8.98h-17.67zM42.0 400.1h17.67v8.98h-17.67zM165.4 400.1h17.67v8.98h-17.67z"/>
<path fill="#fde0d3" d="M112.5 257.2h17.67v8.98h-17.67zM112.5 275.1h17.67v8.98h-17.67zM112.5 301.9h17.67v8.98h-17.67zM77.3 337.6h17.67v8.98h-17.67zM77.3 346.5h17.67v8.98h-17.67zM77.3 418.0h17.67v8.98h-17.67z"/>
<path fill="#cae4f5" d="M59.6 275.1h17.67v8.98h-17.67zM112.5 292.9h17.67v8.98h-17.67zM94.9 319.7h17.67v8.98h-17.67zM94.9 337.6h17.67v8.98h-17.67zM112.5 346.5h17.67v8.98h-17.67zM94.9 355.5h17.67v8.98h-17.67zM94.9 409.0h17.67v8.98h-17.67z"/>
<path fill="#fbf9f8" d="M147.8 275.1h17.67v8.98h-17.67zM112.5 373.3h17.67v8.98h-17.67zM59.6 418.0h17.67v8.98h-17.67z"/>
<path fill="#f66a47" d="M77.3 292.9h17.67v8.98h-17.67zM147.8 310.8h17.67v8.98h-17.67zM112.5 319.7h17.67v8.98h-17.67zM147.8 346.5h17.67v8.98h-17.67zM112.5 364.4h17.67v8.98h-17.67zM112.5 400.1h17.67v8.98h-17.67zM112.5 418.0h17.67v8.98h-17.67z"/>
<path d="M24.40 248.30V426.90M42.02 248.30V426.90M59.64 248.30V426.90M77.27 248.30V426.90M94.89 248.30V426.90M112.51 248.30V426.90M130.13 248.30V426.90M147.76 248.30V426.90M165.38 248.30V426.90M183.00 248.30V426.90M24.40 248.30H183.00M24.40 257.23H183.00M24.40 266.16H183.00M24.40 275.09H183.00M24.40 284.02H183.00M24.40 292.95H183.00M24.40 301.88H183.00M24.40 310.81H183.00M24.40 319.74H183.00M24.40 328.67H183.00M24.40 337.60H183.00M24.40 346.53H183.00M24.40 355.46H183.00M24.40 364.39H183.00M24.40 373.32H183.00M24.40 382.25H183.00M24.40 391.18H183.00M24.40 400.11H183.00M24.40 409.04H183.00M24.40 417.97H183.00M24.40 426.90H183.00" stroke="#c89a9e" stroke-opacity="0.55" stroke-width="0.5" fill="none"/>
<rect x="95.59" y="257.93" width="16.22" height="7.53" fill="none" stroke="#1a1a1a" stroke-width="1.2"/>
<rect x="60.34" y="302.58" width="16.22" height="7.53" fill="none" stroke="#1a1a1a" stroke-width="1.2"/>
<rect x="113.21" y="320.44" width="16.22" height="7.53" fill="none" stroke="#66dd3a" stroke-width="1.2"/>
<rect x="42.72" y="338.30" width="16.22" height="7.53" fill="none" stroke="#1a1a1a" stroke-width="1.2"/>
<rect x="77.97" y="338.30" width="16.22" height="7.53" fill="none" stroke="#66dd3a" stroke-width="1.2"/>
<rect x="148.46" y="338.30" width="16.22" height="7.53" fill="none" stroke="#1a1a1a" stroke-width="1.2"/>
<rect x="166.08" y="338.30" width="16.22" height="7.53" fill="none" stroke="#1a1a1a" stroke-width="1.2"/>
<rect x="42.72" y="365.09" width="16.22" height="7.53" fill="none" stroke="#66dd3a" stroke-width="1.2"/>
<rect x="130.83" y="365.09" width="16.22" height="7.53" fill="none" stroke="#1a1a1a" stroke-width="1.2"/>
<rect x="166.08" y="365.09" width="16.22" height="7.53" fill="none" stroke="#66dd3a" stroke-width="1.2"/>
<rect x="77.97" y="374.02" width="16.22" height="7.53" fill="none" stroke="#1a1a1a" stroke-width="1.2"/>
<rect x="113.21" y="391.88" width="16.22" height="7.53" fill="none" stroke="#1a1a1a" stroke-width="1.2"/>
<rect x="25.10" y="418.67" width="16.22" height="7.53" fill="none" stroke="#1a1a1a" stroke-width="1.2"/>
<text x="22.60" y="255.27" font-size="7.0" text-anchor="end" font-weight="normal" fill="#333" >A</text>
<text x="22.60" y="264.19" font-size="7.0" text-anchor="end" font-weight="normal" fill="#333" >R</text>
<text x="22.60" y="273.12" font-size="7.0" text-anchor="end" font-weight="normal" fill="#333" >N</text>
<text x="22.60" y="282.06" font-size="7.0" text-anchor="end" font-weight="normal" fill="#333" >D</text>
<text x="22.60" y="290.99" font-size="7.0" text-anchor="end" font-weight="normal" fill="#333" >C</text>
<text x="22.60" y="299.92" font-size="7.0" text-anchor="end" font-weight="normal" fill="#333" >E</text>
<text x="22.60" y="308.85" font-size="7.0" text-anchor="end" font-weight="normal" fill="#333" >Q</text>
<text x="22.60" y="317.77" font-size="7.0" text-anchor="end" font-weight="normal" fill="#333" >G</text>
<text x="22.60" y="326.71" font-size="7.0" text-anchor="end" font-weight="normal" fill="#333" >H</text>
<text x="22.60" y="335.63" font-size="7.0" text-anchor="end" font-weight="normal" fill="#333" >I</text>
<text x="22.60" y="344.56" font-size="7.0" text-anchor="end" font-weight="normal" fill="#333" >L</text>
<text x="22.60" y="353.50" font-size="7.0" text-anchor="end" font-weight="normal" fill="#333" >K</text>
<text x="22.60" y="362.43" font-size="7.0" text-anchor="end" font-weight="normal" fill="#333" >M</text>
<text x="22.60" y="371.36" font-size="7.0" text-anchor="end" font-weight="normal" fill="#333" >F</text>
<text x="22.60" y="380.28" font-size="7.0" text-anchor="end" font-weight="normal" fill="#333" >P</text>
<text x="22.60" y="389.22" font-size="7.0" text-anchor="end" font-weight="normal" fill="#333" >S</text>
<text x="22.60" y="398.14" font-size="7.0" text-anchor="end" font-weight="normal" fill="#333" >T</text>
<text x="22.60" y="407.08" font-size="7.0" text-anchor="end" font-weight="normal" fill="#333" >W</text>
<text x="22.60" y="416.00" font-size="7.0" text-anchor="end" font-weight="normal" fill="#333" >V</text>
<text x="22.60" y="424.94" font-size="7.0" text-anchor="end" font-weight="normal" fill="#333" >Y</text>
<text x="33.21" y="434.00" font-size="6.6" text-anchor="middle" font-weight="normal" fill="#333" >1</text>
<text x="50.83" y="434.00" font-size="6.6" text-anchor="middle" font-weight="normal" fill="#333" >2</text>
<text x="68.46" y="434.00" font-size="6.6" text-anchor="middle" font-weight="normal" fill="#333" >3</text>
<text x="86.08" y="434.00" font-size="6.6" text-anchor="middle" font-weight="normal" fill="#333" >4</text>
<text x="103.70" y="434.00" font-size="6.6" text-anchor="middle" font-weight="normal" fill="#333" >5</text>
<text x="121.32" y="434.00" font-size="6.6" text-anchor="middle" font-weight="normal" fill="#333" >6</text>
<text x="138.94" y="434.00" font-size="6.6" text-anchor="middle" font-weight="normal" fill="#333" >7</text>
<text x="156.57" y="434.00" font-size="6.6" text-anchor="middle" font-weight="normal" fill="#333" >8</text>
<text x="174.19" y="434.00" font-size="6.6" text-anchor="middle" font-weight="normal" fill="#333" >9</text>
<defs><linearGradient id="cbc" x1="0" y1="1" x2="0" y2="0"><stop offset="0" stop-color="#2474b8"/><stop offset="0.09" stop-color="#3f93d2"/><stop offset="0.2" stop-color="#a7d0ec"/><stop offset="0.3" stop-color="#f7f7f7"/><stop offset="0.45" stop-color="#fbc4ae"/><stop offset="0.62" stop-color="#f36b4f"/><stop offset="0.8" stop-color="#cf1f26"/><stop offset="1" stop-color="#9d0618"/></linearGradient></defs>
<rect x="184.9" y="248.3" width="4.2" height="63.1" fill="url(#cbc)"/>
<text x="190.90" y="257.50" font-size="7.0" text-anchor="start" font-weight="normal" fill="#111" >4</text>
<text x="190.90" y="270.30" font-size="7.0" text-anchor="start" font-weight="normal" fill="#111" >3</text>
<text x="190.90" y="283.00" font-size="7.0" text-anchor="start" font-weight="normal" fill="#111" >2</text>
<text x="190.90" y="295.70" font-size="7.0" text-anchor="start" font-weight="normal" fill="#111" >1</text>
<text x="190.90" y="308.10" font-size="7.0" text-anchor="start" font-weight="normal" fill="#111" >0</text>
<text x="192.40" y="236.30" font-size="7.3" text-anchor="middle" font-weight="normal" fill="#111" >Log2 FC</text>
<text x="192.40" y="245.00" font-size="7.3" text-anchor="middle" font-weight="normal" fill="#111" >pMHC Binding</text>
<rect x="208.3" y="308.4" width="8" height="6.6" fill="none" stroke="#111" stroke-width="1.2"/>
<text x="221.00" y="313.90" font-size="7.2" text-anchor="start" font-weight="normal" fill="#111" >= WT</text>
<rect x="208.3" y="320.8" width="8" height="7" fill="none" stroke="#66dd3a" stroke-width="1.2"/>
<text x="221.00" y="326.90" font-size="7.2" text-anchor="start" font-weight="normal" fill="#111" >= Known</text>
<text x="226.40" y="335.10" font-size="7.2" text-anchor="start" font-weight="normal" fill="#111" >Mutations<tspan font-size="4.2" dy="-2.6">26</tspan></text>
<rect x="207.7" y="339.6" width="9.1" height="9.7" fill="#7b7f7f"/>
<text x="220.60" y="347.80" font-size="7.2" text-anchor="start" font-weight="normal" fill="#111" >Unstable pMHC</text>
<path d="M89.40 533.20L89.40 471.90A61.3 61.3 0 0 1 140.46 499.28Z" fill="#910b12" stroke="#333" stroke-width="0.5" stroke-linejoin="round"/>
<path d="M89.40 533.20L140.46 499.28A61.3 61.3 0 0 1 148.47 516.82Z" fill="#a30f15" stroke="#333" stroke-width="0.5" stroke-linejoin="round"/>
<path d="M89.40 533.20L148.47 516.82A61.3 61.3 0 0 1 150.41 527.22Z" fill="#b21218" stroke="#333" stroke-width="0.5" stroke-linejoin="round"/>
<path d="M89.40 533.20L150.41 527.22A61.3 61.3 0 0 1 150.68 534.80Z" fill="#c1161b" stroke="#333" stroke-width="0.5" stroke-linejoin="round"/>
<path d="M89.40 533.20L150.68 534.80A61.3 61.3 0 0 1 150.58 537.05Z" fill="#d01c1f" stroke="#333" stroke-width="0.5" stroke-linejoin="round"/>
<path d="M89.40 533.20L150.58 537.05A61.3 61.3 0 0 1 150.39 539.39Z" fill="#de2a25" stroke="#333" stroke-width="0.5" stroke-linejoin="round"/>
<path d="M89.40 533.20L150.39 539.39A61.3 61.3 0 0 1 148.80 548.34Z" fill="#ec382b" stroke="#333" stroke-width="0.5" stroke-linejoin="round"/>
<path d="M89.40 533.20L148.80 548.34A61.3 61.3 0 0 1 147.18 553.66Z" fill="#f34935" stroke="#333" stroke-width="0.5" stroke-linejoin="round"/>
<path d="M89.40 533.20L147.18 553.66A61.3 61.3 0 0 1 142.59 563.66Z" fill="#f75c41" stroke="#333" stroke-width="0.5" stroke-linejoin="round"/>
<path d="M89.40 533.20L142.59 563.66A61.3 61.3 0 0 1 137.71 570.94Z" fill="#fb6d4d" stroke="#333" stroke-width="0.5" stroke-linejoin="round"/>
<path d="M89.40 533.20L137.71 570.94A61.3 61.3 0 0 1 126.29 582.16Z" fill="#fb7d5d" stroke="#333" stroke-width="0.5" stroke-linejoin="round"/>
<path d="M89.40 533.20L126.29 582.16A61.3 61.3 0 0 1 116.66 588.11Z" fill="#fc8d6d" stroke="#333" stroke-width="0.5" stroke-linejoin="round"/>
<path d="M89.40 533.20L116.66 588.11A61.3 61.3 0 0 1 103.29 592.90Z" fill="#fc9d7e" stroke="#333" stroke-width="0.5" stroke-linejoin="round"/>
<path d="M89.40 533.20L103.29 592.90A61.3 61.3 0 0 1 87.47 594.47Z" fill="#fcad91" stroke="#333" stroke-width="0.5" stroke-linejoin="round"/>
<path d="M89.40 533.20L87.47 594.47A61.3 61.3 0 0 1 73.84 592.49Z" fill="#fcbda3" stroke="#333" stroke-width="0.5" stroke-linejoin="round"/>
<path d="M89.40 533.20L73.84 592.49A61.3 61.3 0 0 1 53.80 583.11Z" fill="#fdcbb6" stroke="#333" stroke-width="0.5" stroke-linejoin="round"/>
<path d="M89.40 533.20L53.80 583.11A61.3 61.3 0 0 1 39.68 569.06Z" fill="#fedac9" stroke="#333" stroke-width="0.5" stroke-linejoin="round"/>
<path d="M89.40 533.20L39.68 569.06A61.3 61.3 0 0 1 35.18 561.79Z" fill="#fee5d9" stroke="#333" stroke-width="0.5" stroke-linejoin="round"/>
<path d="M89.40 533.20L35.18 561.79A61.3 61.3 0 0 1 28.52 540.35Z" fill="#ffede4" stroke="#333" stroke-width="0.5" stroke-linejoin="round"/>
<path d="M89.40 533.20L28.52 540.35A61.3 61.3 0 0 1 31.17 514.05Z" fill="#fff5f0" stroke="#333" stroke-width="0.5" stroke-linejoin="round"/>
<path d="M89.40 533.20L31.17 514.05A61.3 61.3 0 0 1 89.40 471.90Z" fill="#1f7dc2" stroke="#333" stroke-width="0.5" stroke-linejoin="round"/>
<circle cx="89.4" cy="533.2" r="61.3" fill="none" stroke="#444" stroke-width="0.6"/>
<text x="182.60" y="464.30" font-size="7.5" text-anchor="middle" font-weight="normal" fill="#222" >TCR Mutation</text>
<text x="182.60" y="471.80" font-size="7.5" text-anchor="middle" font-weight="normal" fill="#222" >Coverage</text>
<rect x="172.7" y="476.70" width="4.3" height="5.2" fill="#1f7dc2" stroke="#888" stroke-width="0.4"/>
<text x="180.60" y="480.80" font-size="4.6" text-anchor="start" font-weight="normal" fill="#222" >0</text>
<rect x="172.7" y="482.43" width="4.3" height="5.2" fill="#fff5f0" stroke="#888" stroke-width="0.4"/>
<text x="180.60" y="486.53" font-size="4.6" text-anchor="start" font-weight="normal" fill="#222" >1</text>
<rect x="172.7" y="488.15" width="4.3" height="5.2" fill="#ffede4" stroke="#888" stroke-width="0.4"/>
<text x="180.60" y="492.25" font-size="4.6" text-anchor="start" font-weight="normal" fill="#222" >2</text>
<rect x="172.7" y="493.88" width="4.3" height="5.2" fill="#fee5d9" stroke="#888" stroke-width="0.4"/>
<text x="180.60" y="497.98" font-size="4.6" text-anchor="start" font-weight="normal" fill="#222" >3</text>
<rect x="172.7" y="499.60" width="4.3" height="5.2" fill="#fedac9" stroke="#888" stroke-width="0.4"/>
<text x="180.60" y="503.70" font-size="4.6" text-anchor="start" font-weight="normal" fill="#222" >4</text>
<rect x="172.7" y="505.32" width="4.3" height="5.2" fill="#fdcbb6" stroke="#888" stroke-width="0.4"/>
<text x="180.60" y="509.43" font-size="4.6" text-anchor="start" font-weight="normal" fill="#222" >5</text>
<rect x="172.7" y="511.05" width="4.3" height="5.2" fill="#fcbda3" stroke="#888" stroke-width="0.4"/>
<text x="180.60" y="515.15" font-size="4.6" text-anchor="start" font-weight="normal" fill="#222" >6</text>
<rect x="172.7" y="516.77" width="4.3" height="5.2" fill="#fcad91" stroke="#888" stroke-width="0.4"/>
<text x="180.60" y="520.88" font-size="4.6" text-anchor="start" font-weight="normal" fill="#222" >7</text>
<rect x="172.7" y="522.50" width="4.3" height="5.2" fill="#fc9d7e" stroke="#888" stroke-width="0.4"/>
<text x="180.60" y="526.60" font-size="4.6" text-anchor="start" font-weight="normal" fill="#222" >8</text>
<rect x="172.7" y="528.23" width="4.3" height="5.2" fill="#fc8d6d" stroke="#888" stroke-width="0.4"/>
<text x="180.60" y="532.33" font-size="4.6" text-anchor="start" font-weight="normal" fill="#222" >9</text>
<rect x="172.7" y="533.95" width="4.3" height="5.2" fill="#fb7d5d" stroke="#888" stroke-width="0.4"/>
<text x="180.60" y="538.05" font-size="4.6" text-anchor="start" font-weight="normal" fill="#222" >10</text>
<rect x="172.7" y="539.67" width="4.3" height="5.2" fill="#fb6d4d" stroke="#888" stroke-width="0.4"/>
<text x="180.60" y="543.77" font-size="4.6" text-anchor="start" font-weight="normal" fill="#222" >11</text>
<rect x="172.7" y="545.40" width="4.3" height="5.2" fill="#f75c41" stroke="#888" stroke-width="0.4"/>
<text x="180.60" y="549.50" font-size="4.6" text-anchor="start" font-weight="normal" fill="#222" >12</text>
<rect x="172.7" y="551.12" width="4.3" height="5.2" fill="#f34935" stroke="#888" stroke-width="0.4"/>
<text x="180.60" y="555.23" font-size="4.6" text-anchor="start" font-weight="normal" fill="#222" >13</text>
<rect x="172.7" y="556.85" width="4.3" height="5.2" fill="#ec382b" stroke="#888" stroke-width="0.4"/>
<text x="180.60" y="560.95" font-size="4.6" text-anchor="start" font-weight="normal" fill="#222" >14</text>
<rect x="172.7" y="562.58" width="4.3" height="5.2" fill="#de2a25" stroke="#888" stroke-width="0.4"/>
<text x="180.60" y="566.68" font-size="4.6" text-anchor="start" font-weight="normal" fill="#222" >15</text>
<rect x="172.7" y="568.30" width="4.3" height="5.2" fill="#d01c1f" stroke="#888" stroke-width="0.4"/>
<text x="180.60" y="572.40" font-size="4.6" text-anchor="start" font-weight="normal" fill="#222" >16</text>
<rect x="172.7" y="574.02" width="4.3" height="5.2" fill="#c1161b" stroke="#888" stroke-width="0.4"/>
<text x="180.60" y="578.12" font-size="4.6" text-anchor="start" font-weight="normal" fill="#222" >17</text>
<rect x="172.7" y="579.75" width="4.3" height="5.2" fill="#b21218" stroke="#888" stroke-width="0.4"/>
<text x="180.60" y="583.85" font-size="4.6" text-anchor="start" font-weight="normal" fill="#222" >18</text>
<rect x="172.7" y="585.48" width="4.3" height="5.2" fill="#a30f15" stroke="#888" stroke-width="0.4"/>
<text x="180.60" y="589.58" font-size="4.6" text-anchor="start" font-weight="normal" fill="#222" >19</text>
<rect x="172.7" y="591.20" width="4.3" height="5.2" fill="#910b12" stroke="#888" stroke-width="0.4"/>
<text x="180.60" y="595.30" font-size="4.6" text-anchor="start" font-weight="normal" fill="#222" >20</text>
<path d="M189 484.4H198.7V593.5H189M198.7 538.1H205.7" fill="none" stroke="#222" stroke-width="0.9"/>
<text x="209.00" y="541.50" font-size="9.8" text-anchor="start" font-weight="normal" fill="#111" >80%</text>
<path d="M10.70 622.60L9.43 613.59A9.1 9.1 0 0 1 16.60 629.53Z" fill="#2280c4" stroke="none" stroke-width="0" stroke-linejoin="round"/>
<path d="M10.70 622.60L16.60 629.53A9.1 9.1 0 1 1 9.43 613.59Z" fill="#e8402e" stroke="none" stroke-width="0" stroke-linejoin="round"/>
<text x="10.70" y="611.70" font-size="4.9" text-anchor="middle" font-weight="normal" fill="#3a3a3a" >SVAR.1</text>
<path d="M34.40 622.60L33.13 613.59A9.1 9.1 0 1 1 26.49 627.09Z" fill="#2280c4" stroke="none" stroke-width="0" stroke-linejoin="round"/>
<path d="M34.40 622.60L26.49 627.09A9.1 9.1 0 0 1 33.13 613.59Z" fill="#e8402e" stroke="none" stroke-width="0" stroke-linejoin="round"/>
<text x="34.40" y="611.70" font-size="4.9" text-anchor="middle" font-weight="normal" fill="#3a3a3a" >SVAR.2</text>
<path d="M58.10 622.60L56.83 613.59A9.1 9.1 0 1 1 51.96 629.32Z" fill="#2280c4" stroke="none" stroke-width="0" stroke-linejoin="round"/>
<path d="M58.10 622.60L51.96 629.32A9.1 9.1 0 0 1 56.83 613.59Z" fill="#e8402e" stroke="none" stroke-width="0" stroke-linejoin="round"/>
<text x="58.10" y="611.70" font-size="4.9" text-anchor="middle" font-weight="normal" fill="#3a3a3a" >SVAR.3</text>
<path d="M81.80 622.60L80.53 613.59A9.1 9.1 0 1 1 82.50 631.67Z" fill="#2280c4" stroke="none" stroke-width="0" stroke-linejoin="round"/>
<path d="M81.80 622.60L82.50 631.67A9.1 9.1 0 0 1 80.53 613.59Z" fill="#e8402e" stroke="none" stroke-width="0" stroke-linejoin="round"/>
<text x="81.80" y="611.70" font-size="4.9" text-anchor="middle" font-weight="normal" fill="#3a3a3a" >SVAR.5</text>
<path d="M105.50 622.60L104.23 613.59A9.1 9.1 0 1 1 101.23 630.63Z" fill="#2280c4" stroke="none" stroke-width="0" stroke-linejoin="round"/>
<path d="M105.50 622.60L101.23 630.63A9.1 9.1 0 0 1 104.23 613.59Z" fill="#e8402e" stroke="none" stroke-width="0" stroke-linejoin="round"/>
<text x="105.50" y="611.70" font-size="4.9" text-anchor="middle" font-weight="normal" fill="#3a3a3a" >SVAR.6</text>
<path d="M129.20 622.60L127.93 613.59A9.1 9.1 0 1 1 121.91 628.05Z" fill="#2280c4" stroke="none" stroke-width="0" stroke-linejoin="round"/>
<path d="M129.20 622.60L121.91 628.05A9.1 9.1 0 0 1 127.93 613.59Z" fill="#e8402e" stroke="none" stroke-width="0" stroke-linejoin="round"/>
<text x="129.20" y="611.70" font-size="4.9" text-anchor="middle" font-weight="normal" fill="#3a3a3a" >SVAR.7</text>
<path d="M152.90 622.60L151.63 613.59A9.1 9.1 0 1 1 147.20 629.69Z" fill="#2280c4" stroke="none" stroke-width="0" stroke-linejoin="round"/>
<path d="M152.90 622.60L147.20 629.69A9.1 9.1 0 0 1 151.63 613.59Z" fill="#e8402e" stroke="none" stroke-width="0" stroke-linejoin="round"/>
<text x="152.90" y="611.70" font-size="4.9" text-anchor="middle" font-weight="normal" fill="#3a3a3a" >SVAR.13</text>
<path d="M176.60 622.60L175.33 613.59A9.1 9.1 0 0 1 178.43 631.51Z" fill="#2280c4" stroke="none" stroke-width="0" stroke-linejoin="round"/>
<path d="M176.60 622.60L178.43 631.51A9.1 9.1 0 1 1 175.33 613.59Z" fill="#e8402e" stroke="none" stroke-width="0" stroke-linejoin="round"/>
<text x="176.60" y="611.70" font-size="4.9" text-anchor="middle" font-weight="normal" fill="#3a3a3a" >SVAR.14</text>
<path d="M200.30 622.60L199.03 613.59A9.1 9.1 0 1 1 191.89 626.07Z" fill="#2280c4" stroke="none" stroke-width="0" stroke-linejoin="round"/>
<path d="M200.30 622.60L191.89 626.07A9.1 9.1 0 0 1 199.03 613.59Z" fill="#e8402e" stroke="none" stroke-width="0" stroke-linejoin="round"/>
<text x="200.30" y="611.70" font-size="4.9" text-anchor="middle" font-weight="normal" fill="#3a3a3a" >SVAR.16</text>
<path d="M224.00 622.60L222.73 613.59A9.1 9.1 0 1 1 222.42 631.56Z" fill="#2280c4" stroke="none" stroke-width="0" stroke-linejoin="round"/>
<path d="M224.00 622.60L222.42 631.56A9.1 9.1 0 0 1 222.73 613.59Z" fill="#e8402e" stroke="none" stroke-width="0" stroke-linejoin="round"/>
<text x="224.00" y="611.70" font-size="4.9" text-anchor="middle" font-weight="normal" fill="#3a3a3a" >SVAR.21</text>
<path d="M10.70 650.80L9.43 641.79A9.1 9.1 0 0 1 19.77 650.10Z" fill="#2280c4" stroke="none" stroke-width="0" stroke-linejoin="round"/>
<path d="M10.70 650.80L19.77 650.10A9.1 9.1 0 1 1 9.43 641.79Z" fill="#e8402e" stroke="none" stroke-width="0" stroke-linejoin="round"/>
<text x="10.70" y="639.90" font-size="4.9" text-anchor="middle" font-weight="normal" fill="#3a3a3a" >SVAR.26</text>
<path d="M34.40 650.80L33.13 641.79A9.1 9.1 0 0 1 38.89 658.71Z" fill="#2280c4" stroke="none" stroke-width="0" stroke-linejoin="round"/>
<path d="M34.40 650.80L38.89 658.71A9.1 9.1 0 1 1 33.13 641.79Z" fill="#e8402e" stroke="none" stroke-width="0" stroke-linejoin="round"/>
<text x="34.40" y="639.90" font-size="4.9" text-anchor="middle" font-weight="normal" fill="#3a3a3a" >SVAR.56</text>
<path d="M58.10 650.80L56.83 641.79A9.1 9.1 0 1 1 57.09 659.84Z" fill="#2280c4" stroke="none" stroke-width="0" stroke-linejoin="round"/>
<path d="M58.10 650.80L57.09 659.84A9.1 9.1 0 0 1 56.83 641.79Z" fill="#e8402e" stroke="none" stroke-width="0" stroke-linejoin="round"/>
<text x="58.10" y="639.90" font-size="4.9" text-anchor="middle" font-weight="normal" fill="#3a3a3a" >SVAR.57</text>
<path d="M81.80 650.80L80.53 641.79A9.1 9.1 0 1 1 79.11 659.49Z" fill="#2280c4" stroke="none" stroke-width="0" stroke-linejoin="round"/>
<path d="M81.80 650.80L79.11 659.49A9.1 9.1 0 0 1 80.53 641.79Z" fill="#e8402e" stroke="none" stroke-width="0" stroke-linejoin="round"/>
<text x="81.80" y="639.90" font-size="4.9" text-anchor="middle" font-weight="normal" fill="#3a3a3a" >SVAR.59</text>
<path d="M105.50 650.80L104.23 641.79A9.1 9.1 0 0 1 106.77 659.81Z" fill="#2280c4" stroke="none" stroke-width="0" stroke-linejoin="round"/>
<path d="M105.50 650.80L106.77 659.81A9.1 9.1 0 0 1 104.23 641.79Z" fill="#e8402e" stroke="none" stroke-width="0" stroke-linejoin="round"/>
<text x="105.50" y="639.90" font-size="4.9" text-anchor="middle" font-weight="normal" fill="#3a3a3a" >SVAR.73</text>
<path d="M129.20 650.80L127.93 641.79A9.1 9.1 0 1 1 125.44 659.09Z" fill="#2280c4" stroke="none" stroke-width="0" stroke-linejoin="round"/>
<path d="M129.20 650.80L125.44 659.09A9.1 9.1 0 0 1 127.93 641.79Z" fill="#e8402e" stroke="none" stroke-width="0" stroke-linejoin="round"/>
<text x="129.20" y="639.90" font-size="4.9" text-anchor="middle" font-weight="normal" fill="#3a3a3a" >SVAR.74</text>
<path d="M152.90 650.80L151.63 641.79A9.1 9.1 0 1 1 153.60 659.87Z" fill="#2280c4" stroke="none" stroke-width="0" stroke-linejoin="round"/>
<path d="M152.90 650.80L153.60 659.87A9.1 9.1 0 0 1 151.63 641.79Z" fill="#e8402e" stroke="none" stroke-width="0" stroke-linejoin="round"/>
<text x="152.90" y="639.90" font-size="4.9" text-anchor="middle" font-weight="normal" fill="#3a3a3a" >SVAR.75</text>
<path d="M176.60 650.80L175.33 641.79A9.1 9.1 0 1 1 167.53 651.50Z" fill="#2280c4" stroke="none" stroke-width="0" stroke-linejoin="round"/>
<path d="M176.60 650.80L167.53 651.50A9.1 9.1 0 0 1 175.33 641.79Z" fill="#e8402e" stroke="none" stroke-width="0" stroke-linejoin="round"/>
<text x="176.60" y="639.90" font-size="4.9" text-anchor="middle" font-weight="normal" fill="#3a3a3a" >SVAR.76</text>
<path d="M200.30 650.80L199.03 641.79A9.1 9.1 0 1 1 191.34 649.22Z" fill="#2280c4" stroke="none" stroke-width="0" stroke-linejoin="round"/>
<path d="M200.30 650.80L191.34 649.22A9.1 9.1 0 0 1 199.03 641.79Z" fill="#e8402e" stroke="none" stroke-width="0" stroke-linejoin="round"/>
<text x="200.30" y="639.90" font-size="4.9" text-anchor="middle" font-weight="normal" fill="#3a3a3a" >SVAR.82</text>
<path d="M224.00 650.80L222.73 641.79A9.1 9.1 0 1 1 221.86 659.64Z" fill="#2280c4" stroke="none" stroke-width="0" stroke-linejoin="round"/>
<path d="M224.00 650.80L221.86 659.64A9.1 9.1 0 0 1 222.73 641.79Z" fill="#e8402e" stroke="none" stroke-width="0" stroke-linejoin="round"/>
<text x="224.00" y="639.90" font-size="4.9" text-anchor="middle" font-weight="normal" fill="#3a3a3a" >SVAR.85</text>
<text x="259.80" y="626.00" font-size="7.0" text-anchor="middle" font-weight="normal" fill="#222" >TCR Mutation</text>
<text x="259.80" y="633.20" font-size="7.0" text-anchor="middle" font-weight="normal" fill="#222" >Coverage</text>
<rect x="238.1" y="637.9" width="5.7" height="6.3" fill="#e8402e"/>
<rect x="238.1" y="644.2" width="5.7" height="6.5" fill="#2280c4"/>
<text x="246.00" y="642.20" font-size="7.0" text-anchor="start" font-weight="normal" fill="#222" >Binder</text>
<text x="246.00" y="650.00" font-size="7.0" text-anchor="start" font-weight="normal" fill="#222" >Non-binder</text>
</svg>
</body></html>
